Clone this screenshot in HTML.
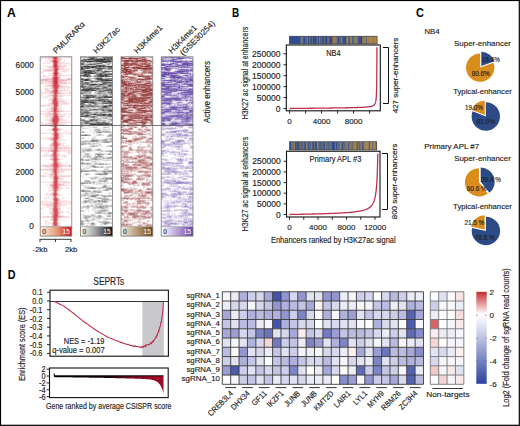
<!DOCTYPE html>
<html><head><meta charset="utf-8"><style>
html,body{margin:0;padding:0;background:#fff;width:520px;height:426px;overflow:hidden}
svg{display:block}
text{font-family:"Liberation Sans", sans-serif}
</style></head><body>
<svg width="520" height="426" viewBox="0 0 520 426">
<rect x="0.5" y="0.5" width="518.8" height="424.8" fill="#fff" stroke="#000" stroke-width="1.2"/>
<defs><filter id="soft" x="-5%" y="-5%" width="110%" height="110%"><feGaussianBlur stdDeviation="0.35"/></filter></defs>
<text x="7.00" y="16.70" font-size="12" text-anchor="start" fill="#000" font-weight="bold" textLength="8.8" lengthAdjust="spacingAndGlyphs">A</text>
<clipPath id="clipA0"><rect x="40.20" y="56.80" width="31.60" height="169.70"/></clipPath>
<rect x="40.20" y="56.80" width="31.60" height="169.70" fill="#fff"/>
<g clip-path="url(#clipA0)"><g filter="url(#soft)">
<path stroke="#c41020" stroke-opacity="0.17" stroke-width="0.998" fill="none" d="M40.2 57.3h7.9M58 57.3h3.0M63.9 57.3h1M65.9 57.3h4.9M40.2 58.3h3.0M44.2 58.3h6.9M59 58.3h3.0M48.1 59.3h2.0M51.1 59.3h2.0M60.9 59.3h2.0M47.1 60.3h1M49.1 60.3h2.0M59 60.3h3.0M63.9 60.3h1M45.1 61.3h6.9M59 61.3h2.0M50.1 62.3h2.0M59 62.3h5.9M43.2 63.3h2.0M46.1 63.3h3.9M52 63.3h1M58 63.3h12.8M52 64.3h1M58 64.3h3.9M63.9 64.3h1M51.1 65.3h2.0M58 65.3h8.9M68.8 65.3h3.0M43.2 66.3h8.9M60.9 66.3h5.9M47.1 67.3h3.0M51.1 67.3h1M59 67.3h5.9M40.2 68.3h2.0M49.1 68.3h3.9M59 68.3h4.9M43.2 69.3h8.9M60 69.3h11.8M43.2 70.3h3.9M51.1 70.3h1M58 70.3h1M61.9 70.3h3.9M66.9 70.3h1M42.2 71.3h10.9M58 71.3h1M60 71.3h7.9M40.2 72.3h3.0M58 72.3h1M63.9 72.3h1M48.1 73.3h3.9M60 73.3h3.0M52 74.3h1M58 74.3h2.0M40.2 75.3h1M43.2 75.3h2.0M49.1 75.3h3.0M61.9 75.3h1M63.9 75.3h7.9M40.2 76.3h1M42.2 76.3h7.9M52 76.3h1M58 76.3h3.0M43.2 77.3h1M51.1 77.3h1M60 77.3h1M45.1 78.3h6.9M59 78.3h1M66.9 78.3h4.9M40.2 79.3h1M61.9 79.3h4.9M48.1 80.3h3.9M66.9 80.3h4.9M40.2 81.3h7.9M62.9 81.3h3.9M41.2 82.3h2.0M44.2 82.3h1M46.1 82.3h5.9M60 82.3h6.9M67.8 82.3h2.0M42.2 83.3h8.9M65.9 83.3h5.9M51.1 84.3h1M59 84.3h1M60.9 84.3h1M63.9 84.3h1M45.1 85.2h3.0M60 85.2h1M44.2 86.2h6.9M62.9 86.2h4.9M43.2 87.2h1M51.1 87.2h1M59 87.2h12.8M45.1 88.2h3.0M49.1 88.2h2.0M60 88.2h4.9M66.9 88.2h1M68.8 88.2h1M40.2 89.2h1M44.2 89.2h4.9M52 89.2h1M58 89.2h1M60.9 89.2h1M63.9 89.2h1M66.9 89.2h1M44.2 90.2h7.9M59 90.2h2.0M61.9 90.2h2.0M64.9 90.2h3.9M40.2 91.2h2.0M46.1 91.2h4.9M59 91.2h3.9M67.8 91.2h1M69.8 91.2h1M42.2 92.2h1M44.2 92.2h5.9M58 92.2h2.0M64.9 92.2h1M68.8 92.2h3.0M40.2 93.2h9.9M62.9 93.2h8.9M50.1 94.2h1M52 94.2h1M58 94.2h1M40.2 95.2h3.0M45.1 95.2h1M47.1 95.2h3.9M58 95.2h7.9M66.9 95.2h3.9M47.1 96.2h4.9M60.9 96.2h2.0M40.2 97.2h2.0M43.2 97.2h4.9M57 97.2h1M49.1 98.2h3.0M58 98.2h3.9M45.1 99.2h1M50.1 99.2h1M52 99.2h1M58 99.2h1M60 99.2h2.0M48.1 100.2h3.0M59 100.2h4.9M64.9 100.2h3.0M69.8 100.2h2.0M51.1 101.2h1M59 101.2h5.9M51.1 102.2h1M58 102.2h8.9M48.1 103.2h3.0M59 103.2h1M60.9 103.2h7.9M69.8 103.2h2.0M48.1 104.2h3.9M58 104.2h1M60.9 104.2h7.9M40.2 105.2h12.8M59 105.2h3.0M40.2 106.2h5.9M47.1 106.2h5.9M58 106.2h1M60.9 106.2h1M51.1 107.2h1M58 107.2h3.0M49.1 108.2h2.0M58 108.2h1M60.9 108.2h1M46.1 109.2h4.9M59 109.2h3.0M47.1 110.2h1M51.1 110.2h2.0M58 110.2h1M62.9 110.2h1M40.2 111.2h8.9M62.9 111.2h8.9M46.1 112.2h1M48.1 112.2h3.0M52 112.2h1M58 112.2h3.0M40.2 113.2h1M43.2 113.2h5.9M50.1 113.2h1M52 113.2h1M58 113.2h1M40.2 114.2h3.9M46.1 114.2h3.9M60.9 114.2h5.9M68.8 114.2h3.0M44.2 115.2h8.9M58 115.2h1M68.8 115.2h1M46.1 116.2h5.9M63.9 116.2h2.0M43.2 117.2h1M45.1 117.2h3.0M49.1 117.2h1M51.1 117.2h1M59 117.2h1M67.8 117.2h2.0M49.1 118.2h2.0M60 118.2h3.0M45.1 119.2h1M47.1 119.2h1M49.1 119.2h2.0M60 119.2h3.0M45.1 120.2h4.9M60 120.2h6.9M48.1 121.2h3.0M60 121.2h2.0M40.2 122.2h2.0M50.1 122.2h2.0M59 122.2h1M60.9 122.2h9.9M41.2 123.2h2.0M45.1 123.2h3.9M59 123.2h6.9M40.2 124.2h9.9M51.1 124.2h1M59 124.2h3.9M65.9 124.2h1M45.1 125.2h5.9M58 125.2h1M60 125.2h4.9M68.8 125.2h1M50.1 126.2h1M57 126.2h1M53 127.2h1M57 127.2h1M52 128.2h1M50.1 129.2h2.0M60.9 129.2h1M40.2 130.2h1M47.1 130.2h4.9M59 130.2h3.0M63.9 131.2h3.0M68.8 131.2h1M52 132.2h1M58 132.2h2.0M40.2 133.2h12.8M59 133.2h12.8M51.1 134.2h2.0M59 134.2h2.0M61.9 134.2h1M69.8 134.2h1M51.1 135.2h2.0M59 135.2h2.0M46.1 136.2h1M53 136.2h1M59 136.2h1M60.9 136.2h2.0M50.1 137.2h2.0M59 137.2h2.0M41.2 138.2h10.9M60 138.2h2.0M46.1 139.2h3.0M58 139.2h1M41.2 140.2h1M50.1 140.2h1M58 140.2h7.9M53 141.2h1M57 141.2h3.9M52 142.1h1M58 142.1h1M51.1 143.1h1M59 143.1h2.0M61.9 143.1h3.0M50.1 144.1h2.0M60.9 144.1h2.0M41.2 145.1h1M49.1 145.1h2.0M60 145.1h2.0M62.9 145.1h1M68.8 145.1h1M49.1 146.1h1M59 146.1h2.0M61.9 146.1h6.9M46.1 147.1h1M53 147.1h1M43.2 148.1h4.9M53 149.1h1M58 149.1h1M40.2 150.1h7.9M49.1 150.1h1M59 150.1h12.8M40.2 151.1h7.9M60 151.1h11.8M52 152.1h1M58 152.1h1M67.8 152.1h3.0M44.2 153.1h4.9M52 153.1h1M57 153.1h1M66.9 153.1h3.9M51.1 154.1h1M58 154.1h3.0M69.8 154.1h2.0M44.2 155.1h6.9M58 155.1h1M62.9 155.1h2.0M41.2 156.1h9.9M59 156.1h7.9M52 157.1h1M63.9 157.1h2.0M50.1 158.1h3.0M58 158.1h1M49.1 159.1h2.0M60 159.1h3.0M50.1 160.1h2.0M58 160.1h1M52 161.1h1M58 161.1h1M66.9 161.1h1M48.1 162.1h1M52 162.1h1M58 162.1h3.0M51.1 163.1h2.0M60 163.1h3.0M64.9 163.1h2.0M50.1 164.1h2.0M59 164.1h3.0M40.2 165.1h10.9M60.9 165.1h10.9M40.2 166.1h3.9M61.9 166.1h6.9M46.1 167.1h5.9M60 167.1h3.0M52 168.1h1M58 168.1h1M40.2 169.1h8.9M60 169.1h1M61.9 169.1h9.9M40.2 170.1h5.9M48.1 170.1h3.9M58 170.1h13.8M48.1 171.1h1M51.1 171.1h1M59 171.1h5.9M49.1 172.1h3.0M59 172.1h4.9M43.2 173.1h4.9M53 173.1h1M57 173.1h2.0M48.1 174.1h2.0M58 174.1h3.9M69.8 174.1h2.0M50.1 175.1h3.9M57 175.1h1M45.1 176.1h4.9M69.8 176.1h2.0M58 177.1h1M49.1 178.1h3.0M60 178.1h3.0M52 179.1h1M59 179.1h4.9M58 180.1h1M51.1 181.1h2.0M58 181.1h8.9M40.2 182.1h11.8M59 182.1h12.8M52 183.1h1M59 183.1h1M61.9 183.1h3.9M66.9 183.1h2.0M69.8 183.1h1M49.1 184.1h3.0M60.9 184.1h3.0M66.9 184.1h2.0M46.1 185.1h2.0M49.1 185.1h1M64.9 185.1h3.0M69.8 185.1h2.0M49.1 186.1h2.0M59 186.1h2.0M51.1 187.1h1M59 187.1h1M48.1 188.1h3.9M61.9 188.1h1M64.9 188.1h4.9M70.8 188.1h1M52 189.1h1M58 189.1h1M49.1 190.1h3.0M59 190.1h3.0M48.1 191.1h3.0M52 191.1h1M57 191.1h1M69.8 191.1h1M57 192.1h1M46.1 193.1h1M50.1 193.1h2.0M44.2 194.1h1M46.1 194.1h2.0M49.1 194.1h3.0M58 194.1h2.0M69.8 194.1h2.0M46.1 195.1h5.9M59 195.1h3.9M57 196.1h1M48.1 197.1h1M51.1 197.1h1M57 197.1h1M44.2 198.1h5.9M58 198.1h1M61.9 198.1h2.0M64.9 198.1h1M45.1 199h1M52 199h1M59 199h1M50.1 200h3.0M59 200h2.0M42.2 201h2.0M46.1 201h1M53 201h1M59 201h7.9M41.2 202h11.8M59 202h10.9M51.1 203h1M59 203h2.0M40.2 204h5.9M48.1 204h1M51.1 204h2.0M61.9 204h9.9M42.2 205h10.9M58 205h3.9M47.1 206h3.9M59 206h6.9M44.2 207h1M46.1 207h3.9M58 207h2.0M50.1 208h2.0M59 208h2.0M67.8 208h3.0M40.2 209h3.0M49.1 209h3.0M60 209h1M52 210h1M58 210h3.0M68.8 210h1M49.1 211h3.0M59 211h3.0M51.1 212h2.0M59 212h4.9M65.9 212h3.9M49.1 213h3.0M60 213h3.0M41.2 214h1M43.2 214h1M50.1 214h2.0M59 214h1M68.8 214h3.0M40.2 215h1M52 215h1M59 215h2.0M47.1 216h1M51.1 216h1M59 216h4.9M40.2 217h3.0M67.8 217h3.9M40.2 218h1M52 218h1M58 218h1M50.1 219h2.0M58 219h1M50.1 220h2.0M59 220h3.9M44.2 221h3.9M57 221h1M63.9 221h1M45.1 222h2.0M48.1 222h1M49.1 223h3.0M58 223h3.0M44.2 224h4.9M58 224h2.0M51.1 225h2.0M58 225h1M45.1 226h1M47.1 226h3.0M51.1 226h1M60 226h2.0M68.8 226h3.0"/>
<path stroke="#c41020" stroke-opacity="0.33" stroke-width="0.998" fill="none" d="M48.1 57.3h3.9M51.1 58.3h2.0M58 58.3h1M57 59.3h3.9M51.1 60.3h1M58 60.3h1M58 61.3h1M52 62.3h1M58 62.3h1M53 63.3h1M52 66.3h1M59 66.3h2.0M50.1 67.3h1M52 67.3h1M58 67.3h1M53 68.3h1M52 69.3h1M59 69.3h1M47.1 70.3h3.9M52 70.3h2.0M53 71.3h1M53 72.3h1M52 73.3h1M59 73.3h1M53 74.3h1M52 75.3h1M58 75.3h3.9M62.9 75.3h1M53 76.3h1M52 77.3h1M59 77.3h1M58 78.3h1M41.2 79.3h10.9M59 79.3h3.0M66.9 79.3h4.9M40.2 80.3h7.9M52 80.3h1M58 80.3h8.9M48.1 81.3h3.0M59 81.3h3.9M52 82.3h1M58 82.3h2.0M40.2 83.3h2.0M51.1 83.3h1M58 83.3h7.9M52 84.3h1M58 84.3h1M48.1 85.2h3.9M51.1 86.2h1M60 86.2h3.0M52 87.2h1M51.1 88.2h2.0M59 88.2h1M53 89.2h1M52 90.2h1M58 90.2h1M60.9 90.2h1M63.9 90.2h1M51.1 91.2h1M58 91.2h1M50.1 92.2h3.0M50.1 93.2h3.0M60 93.2h3.0M53 94.2h1M57 94.2h1M51.1 95.2h2.0M52 96.2h1M58 96.2h3.0M53 97.2h1M52 98.2h1M57 99.2h1M51.1 100.2h1M58 100.2h1M52 101.2h1M58 101.2h1M52 102.2h1M51.1 103.2h1M58 103.2h1M52 104.2h1M53 106.2h1M52 107.2h1M57 107.2h1M51.1 108.2h2.0M57 108.2h1M51.1 109.2h2.0M58 109.2h1M57 110.2h1M49.1 111.2h2.0M60 111.2h3.0M53 112.2h1M57 112.2h1M49.1 113.2h1M57 113.2h1M50.1 114.2h2.0M58 114.2h3.0M53 115.2h1M57 115.2h1M52 116.2h1M59 116.2h4.9M52 117.2h1M58 117.2h1M51.1 118.2h1M59 118.2h1M51.1 119.2h1M59 119.2h1M50.1 120.2h1M59 120.2h1M51.1 121.2h1M59 121.2h1M52 122.2h1M58 122.2h1M49.1 123.2h3.0M58 123.2h1M50.1 124.2h1M52 124.2h1M58 124.2h1M51.1 125.2h2.0M59 125.2h1M51.1 126.2h1M57 128.2h1M59 129.2h2.0M58 130.2h1M53 131.2h1M57 131.2h1M53 132.2h1M57 132.2h1M53 133.2h1M58 133.2h1M53 135.2h1M58 136.2h1M52 137.2h1M52 138.2h1M59 138.2h1M49.1 139.2h3.0M51.1 140.2h2.0M57 142.1h1M52 143.1h1M58 143.1h1M52 144.1h1M59 144.1h2.0M51.1 145.1h1M59 145.1h1M50.1 146.1h3.0M58 146.1h1M57 147.1h1M40.2 148.1h3.0M48.1 148.1h3.0M61.9 148.1h2.0M64.9 148.1h6.9M57 149.1h1M48.1 150.1h1M50.1 150.1h1M58 150.1h1M48.1 151.1h3.0M58 151.1h2.0M57 152.1h1M52 154.1h1M57 154.1h1M51.1 155.1h2.0M57 155.1h1M51.1 156.1h1M58 156.1h1M57 157.1h1M57 158.1h1M51.1 159.1h1M59 159.1h1M52 160.1h1M57 160.1h1M53 161.1h1M57 161.1h1M53 162.1h1M57 162.1h1M58 163.1h2.0M52 164.1h1M58 164.1h1M51.1 165.1h1M59 165.1h2.0M44.2 166.1h7.9M59 166.1h3.0M68.8 166.1h3.0M52 167.1h1M59 167.1h1M53 168.1h1M57 168.1h1M49.1 169.1h3.0M58 169.1h2.0M60.9 169.1h1M46.1 170.1h2.0M52 170.1h1M57 170.1h1M52 171.1h1M57 171.1h2.0M52 172.1h1M58 172.1h1M50.1 174.1h2.0M57 174.1h1M40.2 176.1h4.9M50.1 176.1h3.0M58 176.1h11.8M53 177.1h1M52 178.1h1M59 178.1h1M53 179.1h1M58 179.1h1M53 180.1h1M53 181.1h1M52 182.1h1M58 182.1h1M58 183.1h1M52 184.1h1M58 184.1h3.0M50.1 185.1h2.0M60 185.1h4.9M51.1 186.1h2.0M58 186.1h1M52 187.1h1M58 187.1h1M52 188.1h1M59 188.1h3.0M52 190.1h1M58 190.1h1M53 191.1h1M53 192.1h1M52 193.1h1M57 193.1h1M52 194.1h1M57 194.1h1M52 195.1h1M58 195.1h1M53 196.1h1M56 196.1h1M52 197.1h2.0M53 198.1h1M57 198.1h1M58 199h1M58 201h1M40.2 202h1M53 202h1M58 202h1M69.8 202h2.0M52 203h1M58 203h1M46.1 204h2.0M49.1 204h2.0M58 204h3.9M53 205h1M57 205h1M51.1 206h2.0M58 206h1M53 207h1M57 207h1M52 208h1M58 208h1M52 209h1M58 209h2.0M52 211h1M58 211h1M53 212h1M58 212h1M52 213h1M59 213h1M52 214h1M58 214h1M58 215h1M52 216h1M58 216h1M43.2 217h8.9M61.9 217h5.9M57 218h1M52 219h1M52 220h1M58 220h1M53 221h1M57 222h1M52 223h1M52 224h1M52 226h1M58 226h2.0"/>
<path stroke="#c41020" stroke-opacity="0.50" stroke-width="0.998" fill="none" d="M52 57.3h1M57 57.3h1M57 58.3h1M53 59.3h1M52 60.3h1M57 60.3h1M52 61.3h1M57 63.3h1M53 64.3h1M57 64.3h1M53 65.3h1M57 65.3h1M58 66.3h1M53 67.3h1M58 68.3h1M53 69.3h1M57 71.3h1M58 73.3h1M53 75.3h1M57 76.3h1M58 77.3h1M52 78.3h1M52 79.3h1M58 79.3h1M51.1 81.3h2.0M58 81.3h1M52 83.3h1M53 84.3h1M52 85.2h1M59 85.2h1M52 86.2h1M59 86.2h1M58 87.2h1M53 88.2h1M58 88.2h1M57 89.2h1M53 90.2h1M52 91.2h1M53 92.2h1M57 92.2h1M53 93.2h1M58 93.2h2.0M53 95.2h1M57 95.2h1M53 96.2h1M57 96.2h1M56 97.2h1M57 98.2h1M53 99.2h1M52 100.2h1M57 100.2h1M57 102.2h1M52 103.2h1M53 104.2h1M53 105.2h1M58 105.2h1M57 106.2h1M53 107.2h1M53 108.2h1M53 109.2h1M57 109.2h1M53 110.2h1M51.1 111.2h2.0M58 111.2h2.0M56 112.2h1M53 113.2h1M52 114.2h2.0M57 114.2h1M58 116.2h1M53 117.2h1M52 118.2h1M52 119.2h1M51.1 120.2h1M58 120.2h1M58 121.2h1M52 123.2h1M57 124.2h1M53 125.2h1M57 125.2h1M52 126.2h2.0M53 128.2h1M52 129.2h1M58 129.2h1M52 130.2h1M57 133.2h1M53 134.2h1M58 134.2h1M58 135.2h1M53 137.2h1M58 137.2h1M53 138.2h1M58 138.2h1M52 139.2h1M57 139.2h1M53 140.2h1M57 140.2h1M53 142.1h1M53 144.1h1M58 144.1h1M52 145.1h1M58 145.1h1M53 146.1h1M54 147.1h1M51.1 148.1h2.0M58 148.1h3.9M63.9 148.1h1M51.1 150.1h3.0M57 150.1h1M51.1 151.1h2.0M57 151.1h1M53 152.1h1M52 156.1h1M57 156.1h1M53 157.1h1M53 158.1h1M52 159.1h1M58 159.1h1M53 163.1h1M53 164.1h1M52 165.1h1M58 165.1h1M52 166.1h1M58 166.1h1M53 167.1h1M58 167.1h1M52 169.1h1M57 169.1h1M53 170.1h1M53 171.1h1M57 172.1h1M52 174.1h2.0M54 175.1h1M53 176.1h1M53 178.1h1M58 178.1h1M57 180.1h1M57 181.1h1M53 182.1h1M53 183.1h1M57 183.1h1M53 184.1h1M52 185.1h2.0M58 185.1h2.0M53 187.1h1M58 188.1h1M53 189.1h1M57 189.1h1M53 190.1h1M57 190.1h1M56 192.1h1M53 193.1h1M57 195.1h1M56 197.1h1M53 199h1M53 200h1M58 200h1M57 202h1M53 203h1M53 204h1M53 206h1M57 206h1M53 208h1M57 208h1M53 210h1M53 213h1M58 213h1M53 214h1M53 215h1M52 217h1M59 217h3.0M53 218h1M57 219h1M57 220h1M53 222h1M57 223h1M57 224h1M53 225h1M57 225h1M53 226h1M57 226h1"/>
<path stroke="#c41020" stroke-opacity="0.67" stroke-width="0.998" fill="none" d="M53 58.3h1M56 59.3h1M53 60.3h1M57 61.3h1M57 62.3h1M53 66.3h1M57 67.3h1M54 68.3h1M57 68.3h1M58 69.3h1M54 70.3h1M57 70.3h1M54 71.3h1M57 72.3h1M53 73.3h1M57 74.3h1M57 75.3h1M54 76.3h1M53 77.3h1M53 78.3h1M53 79.3h1M53 80.3h1M57 80.3h1M53 82.3h1M53 83.3h1M57 83.3h1M57 84.3h1M53 85.2h1M58 85.2h1M58 86.2h1M53 87.2h1M57 88.2h1M54 89.2h1M57 90.2h1M53 91.2h1M57 93.2h1M54 94.2h1M56 94.2h1M54 97.2h1M53 98.2h1M56 99.2h1M53 100.2h1M57 101.2h1M53 102.2h1M57 104.2h1M57 105.2h1M56 110.2h1M53 111.2h1M57 111.2h1M54 112.2h1M56 113.2h1M53 116.2h1M58 118.2h1M58 119.2h1M52 120.2h1M52 121.2h1M57 122.2h1M53 124.2h1M56 127.2h1M57 130.2h1M54 132.2h1M54 133.2h1M54 136.2h1M57 136.2h1M53 139.2h1M54 141.2h1M56 141.2h1M53 143.1h1M57 143.1h1M57 144.1h1M53 145.1h1M57 146.1h1M53 148.1h1M54 149.1h1M56 152.1h1M53 153.1h1M56 153.1h1M53 154.1h1M56 154.1h1M53 155.1h1M56 155.1h1M53 156.1h1M56 157.1h1M53 159.1h1M57 159.1h1M53 160.1h1M56 161.1h1M57 163.1h1M57 164.1h1M53 165.1h1M53 166.1h1M57 167.1h1M54 168.1h1M56 168.1h1M53 169.1h1M56 170.1h1M56 171.1h1M53 172.1h1M54 173.1h1M56 173.1h1M57 176.1h1M57 177.1h1M54 179.1h1M57 179.1h1M57 182.1h1M57 184.1h1M57 185.1h1M53 186.1h1M57 186.1h1M57 187.1h1M53 188.1h1M57 188.1h1M54 189.1h1M56 189.1h1M54 191.1h1M56 191.1h1M54 192.1h1M56 193.1h1M53 194.1h1M53 195.1h1M54 196.1h1M54 197.1h1M54 198.1h1M56 198.1h1M54 201h1M57 201h1M54 202h1M57 203h1M57 204h1M56 207h1M53 209h1M57 209h1M57 210h1M53 211h1M57 212h1M57 214h1M53 216h1M58 217h1M53 219h1M53 220h1M53 224h1M54 226h1M56 226h1"/>
<path stroke="#c41020" stroke-opacity="0.83" stroke-width="0.998" fill="none" d="M53 57.3h1M54 59.3h2.0M56 60.3h1M53 61.3h1M53 62.3h1M56 63.3h1M57 66.3h1M54 67.3h1M56 67.3h1M55 68.3h2.0M54 69.3h1M57 69.3h1M54 72.3h1M54 74.3h1M54 75.3h1M56 75.3h1M55 76.3h2.0M57 77.3h1M57 78.3h1M57 79.3h1M53 81.3h1M57 81.3h1M57 82.3h1M54 84.3h1M57 85.2h1M53 86.2h1M54 88.2h1M54 90.2h1M57 91.2h1M54 92.2h1M54 93.2h1M55 94.2h1M54 95.2h1M56 95.2h1M54 96.2h1M56 96.2h1M55 97.2h1M56 100.2h1M53 101.2h1M53 103.2h1M57 103.2h1M54 106.2h1M54 107.2h1M56 107.2h1M54 108.2h1M56 108.2h1M56 109.2h1M56 111.2h1M55 112.2h1M54 113.2h1M54 114.2h1M56 114.2h1M54 115.2h1M57 117.2h1M53 118.2h1M53 122.2h1M53 123.2h1M57 123.2h1M56 124.2h1M54 125.2h1M56 125.2h1M56 126.2h1M54 127.2h1M56 128.2h1M57 129.2h1M53 130.2h1M54 131.2h1M56 131.2h1M56 132.2h1M54 135.2h1M57 135.2h1M57 138.2h1M54 139.2h1M56 139.2h1M54 140.2h1M56 140.2h1M54 146.1h1M57 148.1h1M56 149.1h1M54 150.1h1M56 150.1h1M53 151.1h1M54 155.1h1M56 156.1h1M54 157.1h1M54 158.1h1M56 158.1h1M54 161.1h1M54 162.1h1M56 162.1h1M57 165.1h1M57 166.1h1M54 167.1h1M55 168.1h1M54 170.1h1M54 171.1h1M54 174.1h1M56 174.1h1M56 175.1h1M54 176.1h1M54 177.1h1M57 178.1h1M54 180.1h1M54 181.1h1M54 183.1h1M54 187.1h1M54 188.1h1M55 189.1h1M54 190.1h1M56 190.1h1M55 192.1h1M54 193.1h1M56 194.1h1M56 195.1h1M55 196.1h1M55 197.1h1M55 198.1h1M57 199h1M57 200h1M55 202h2.0M54 203h1M54 204h1M54 205h1M56 205h1M54 207h1M54 208h1M56 208h1M57 211h1M54 212h1M54 214h1M57 215h1M57 216h1M53 217h1M57 217h1M54 218h1M56 218h1M56 221h1M56 222h1M53 223h1M54 225h1M56 225h1M55 226h1"/>
<path stroke="#c41020" stroke-opacity="1.00" stroke-width="0.998" fill="none" d="M54 57.3h3.0M54 58.3h3.0M54 60.3h2.0M54 61.3h3.0M54 62.3h3.0M54 63.3h2.0M54 64.3h3.0M54 65.3h3.0M54 66.3h3.0M55 67.3h1M55 69.3h2.0M55 70.3h2.0M55 71.3h2.0M55 72.3h2.0M54 73.3h3.9M55 74.3h2.0M55 75.3h1M54 77.3h3.0M54 78.3h3.0M54 79.3h3.0M54 80.3h3.0M54 81.3h3.0M54 82.3h3.0M54 83.3h3.0M55 84.3h2.0M54 85.2h3.0M54 86.2h3.9M54 87.2h3.9M55 88.2h2.0M55 89.2h2.0M55 90.2h2.0M54 91.2h3.0M55 92.2h2.0M55 93.2h2.0M55 95.2h1M55 96.2h1M54 98.2h3.0M54 99.2h2.0M54 100.2h2.0M54 101.2h3.0M54 102.2h3.0M54 103.2h3.0M54 104.2h3.0M54 105.2h3.0M55 106.2h2.0M55 107.2h1M55 108.2h1M54 109.2h2.0M54 110.2h2.0M54 111.2h2.0M55 113.2h1M55 114.2h1M55 115.2h2.0M54 116.2h3.9M54 117.2h3.0M54 118.2h3.9M53 119.2h4.9M53 120.2h4.9M53 121.2h4.9M54 122.2h3.0M54 123.2h3.0M54 124.2h2.0M55 125.2h1M54 126.2h2.0M55 127.2h1M54 128.2h2.0M53 129.2h3.9M54 130.2h3.0M55 131.2h1M55 132.2h1M55 133.2h2.0M54 134.2h3.9M55 135.2h2.0M55 136.2h2.0M54 137.2h3.9M54 138.2h3.0M55 139.2h1M55 140.2h1M55 141.2h1M54 142.1h3.0M54 143.1h3.0M54 144.1h3.0M54 145.1h3.9M55 146.1h2.0M55 147.1h2.0M54 148.1h3.0M55 149.1h1M55 150.1h1M54 151.1h3.0M54 152.1h2.0M54 153.1h2.0M54 154.1h2.0M55 155.1h1M54 156.1h2.0M55 157.1h1M55 158.1h1M54 159.1h3.0M54 160.1h3.0M55 161.1h1M55 162.1h1M54 163.1h3.0M54 164.1h3.0M54 165.1h3.0M54 166.1h3.0M55 167.1h2.0M54 169.1h3.0M55 170.1h1M55 171.1h1M54 172.1h3.0M55 173.1h1M55 174.1h1M55 175.1h1M55 176.1h2.0M55 177.1h2.0M54 178.1h3.0M55 179.1h2.0M55 180.1h2.0M55 181.1h2.0M54 182.1h3.0M55 183.1h2.0M54 184.1h3.0M54 185.1h3.0M54 186.1h3.0M55 187.1h2.0M55 188.1h2.0M55 190.1h1M55 191.1h1M55 193.1h1M54 194.1h2.0M54 195.1h2.0M54 199h3.0M54 200h3.0M55 201h2.0M55 203h2.0M55 204h2.0M55 205h1M54 206h3.0M55 207h1M55 208h1M54 209h3.0M54 210h3.0M54 211h3.0M55 212h2.0M54 213h3.9M55 214h2.0M54 215h3.0M54 216h3.0M54 217h3.0M55 218h1M54 219h3.0M54 220h3.0M54 221h2.0M54 222h2.0M54 223h3.0M54 224h3.0M55 225h1"/>
</g></g>
<clipPath id="clipA1"><rect x="80.50" y="56.80" width="32.10" height="169.70"/></clipPath>
<rect x="80.50" y="56.80" width="32.10" height="169.70" fill="#fff"/>
<g clip-path="url(#clipA1)"><g filter="url(#soft)">
<path stroke="#0a0a0a" stroke-opacity="0.17" stroke-width="0.998" fill="none" d="M98.6 57.3h1M100.6 57.3h2.0M87.5 58.3h1M97.6 58.3h2.0M80.5 62.3h1M85.5 62.3h1M91.5 62.3h2.0M94.5 62.3h1M97.6 62.3h2.0M84.5 63.3h1M86.5 63.3h1M88.5 63.3h2.0M91.5 63.3h2.0M104.6 63.3h2.0M107.6 63.3h1M110.6 63.3h1M97.6 64.3h2.0M101.6 64.3h2.0M105.6 64.3h1M80.5 65.3h2.0M84.5 65.3h1M91.5 65.3h1M105.6 65.3h1M107.6 65.3h1M101.6 67.3h1M104.6 67.3h1M86.5 69.3h2.0M91.5 69.3h3.0M103.6 69.3h2.0M108.6 70.3h1M98.6 72.3h3.0M106.6 72.3h1M108.6 72.3h1M104.6 73.3h1M82.5 74.3h1M90.5 74.3h1M93.5 75.3h1M108.6 75.3h3.0M91.5 76.3h1M85.5 77.3h5.0M94.5 77.3h1M96.5 77.3h1M99.6 77.3h1M101.6 77.3h2.0M104.6 77.3h3.0M83.5 78.3h1M86.5 78.3h2.0M90.5 78.3h1M102.6 78.3h3.0M90.5 79.3h1M93.5 79.3h2.0M109.6 79.3h1M81.5 80.3h1M94.5 80.3h3.0M83.5 81.3h3.0M88.5 81.3h1M107.6 81.3h3.0M80.5 82.3h1M93.5 82.3h3.0M97.6 82.3h1M100.6 82.3h1M89.5 83.3h1M91.5 83.3h1M94.5 83.3h2.0M97.6 83.3h4.0M80.5 84.3h1M108.6 84.3h1M80.5 85.2h1M83.5 85.2h2.0M88.5 85.2h1M95.5 85.2h2.0M105.6 85.2h2.0M86.5 86.2h1M91.5 86.2h2.0M105.6 86.2h1M93.5 87.2h1M108.6 87.2h4.0M81.5 88.2h1M107.6 88.2h1M80.5 89.2h1M104.6 89.2h1M97.6 90.2h1M80.5 91.2h1M91.5 91.2h2.0M108.6 91.2h1M80.5 92.2h1M82.5 92.2h1M88.5 92.2h1M93.5 92.2h2.0M97.6 92.2h1M102.6 92.2h2.0M106.6 92.2h1M80.5 94.2h1M82.5 94.2h1M85.5 94.2h1M96.5 94.2h2.0M101.6 94.2h1M106.6 94.2h1M108.6 94.2h1M101.6 95.2h1M108.6 95.2h3.0M83.5 96.2h1M96.5 96.2h2.0M99.6 96.2h1M90.5 98.2h2.0M93.5 98.2h1M102.6 98.2h2.0M87.5 99.2h3.0M94.5 99.2h1M96.5 99.2h1M108.6 99.2h2.0M105.6 100.2h1M109.6 100.2h1M93.5 101.2h1M96.5 101.2h2.0M99.6 102.2h2.0M84.5 103.2h1M87.5 103.2h1M85.5 104.2h1M98.6 104.2h3.0M102.6 104.2h1M105.6 104.2h1M97.6 105.2h2.0M100.6 105.2h1M104.6 105.2h1M86.5 107.2h1M90.5 107.2h1M95.5 107.2h2.0M99.6 107.2h1M108.6 107.2h1M89.5 108.2h1M96.5 108.2h1M98.6 108.2h1M110.6 108.2h2.0M85.5 109.2h2.0M104.6 109.2h1M109.6 109.2h1M88.5 111.2h1M103.6 111.2h1M105.6 111.2h1M111.6 112.2h1M97.6 113.2h2.0M101.6 113.2h1M104.6 113.2h1M84.5 114.2h2.0M88.5 114.2h1M80.5 115.2h2.0M90.5 115.2h2.0M93.5 115.2h2.0M99.6 116.2h1M102.6 116.2h1M105.6 116.2h1M82.5 117.2h2.0M98.6 117.2h1M100.6 117.2h1M104.6 117.2h1M107.6 117.2h2.0M110.6 117.2h1M80.5 118.2h1M84.5 118.2h1M88.5 118.2h1M98.6 118.2h1M101.6 118.2h1M88.5 119.2h2.0M99.6 119.2h2.0M85.5 120.2h4.0M106.6 120.2h4.0M81.5 121.2h1M96.5 121.2h1M102.6 121.2h2.0M109.6 121.2h1M80.5 122.2h1M83.5 122.2h1M93.5 122.2h1M105.6 122.2h1M110.6 123.2h2.0M87.5 124.2h2.0M106.6 125.2h1M108.6 125.2h4.0M83.5 126.2h1M85.5 126.2h1M87.5 126.2h3.0M110.6 126.2h1M89.5 127.2h1M92.5 127.2h1M102.6 127.2h1M108.6 127.2h2.0M81.5 128.2h2.0M84.5 128.2h1M86.5 128.2h3.0M90.5 129.2h1M99.6 129.2h2.0M103.6 129.2h1M105.6 129.2h4.0M90.5 130.2h1M94.5 130.2h2.0M100.6 130.2h1M80.5 131.2h3.0M94.5 131.2h3.0M98.6 131.2h3.0M109.6 131.2h2.0M84.5 132.2h1M86.5 132.2h1M88.5 132.2h1M90.5 132.2h1M92.5 132.2h1M102.6 132.2h1M110.6 132.2h2.0M109.6 133.2h3.0M93.5 134.2h1M95.5 134.2h3.0M100.6 134.2h1M108.6 134.2h3.0M90.5 135.2h1M96.5 135.2h1M99.6 135.2h2.0M102.6 135.2h2.0M107.6 135.2h1M92.5 136.2h1M94.5 136.2h2.0M83.5 137.2h1M88.5 137.2h1M94.5 137.2h1M83.5 138.2h1M91.5 138.2h2.0M94.5 138.2h1M106.6 138.2h4.0M91.5 139.2h1M93.5 139.2h1M96.5 139.2h1M103.6 139.2h1M105.6 139.2h1M107.6 139.2h1M83.5 140.2h1M99.6 140.2h1M108.6 140.2h4.0M80.5 141.2h1M82.5 141.2h1M98.6 141.2h1M100.6 141.2h2.0M105.6 141.2h2.0M108.6 141.2h1M84.5 142.1h1M91.5 142.1h1M96.5 142.1h2.0M99.6 142.1h2.0M110.6 142.1h1M80.5 143.1h1M82.5 143.1h2.0M86.5 143.1h2.0M89.5 143.1h2.0M92.5 143.1h1M94.5 143.1h2.0M97.6 143.1h1M111.6 143.1h1M86.5 144.1h3.0M91.5 144.1h1M94.5 144.1h3.0M98.6 144.1h1M80.5 145.1h2.0M99.6 145.1h1M89.5 146.1h1M97.6 146.1h1M100.6 146.1h2.0M106.6 146.1h1M92.5 147.1h1M101.6 147.1h1M105.6 147.1h2.0M83.5 148.1h3.0M87.5 148.1h4.0M81.5 149.1h3.0M85.5 149.1h1M88.5 149.1h1M90.5 149.1h2.0M95.5 149.1h1M111.6 149.1h1M81.5 150.1h2.0M91.5 150.1h4.0M100.6 150.1h1M80.5 151.1h2.0M84.5 151.1h2.0M89.5 151.1h1M91.5 151.1h1M102.6 151.1h3.0M81.5 152.1h2.0M84.5 152.1h1M94.5 152.1h1M98.6 152.1h2.0M99.6 153.1h1M80.5 154.1h2.0M83.5 154.1h1M89.5 154.1h2.0M104.6 154.1h2.0M86.5 155.1h1M99.6 155.1h1M101.6 155.1h1M109.6 155.1h1M80.5 156.1h1M82.5 156.1h1M85.5 156.1h1M90.5 156.1h1M93.5 156.1h1M95.5 156.1h1M101.6 156.1h1M103.6 156.1h1M105.6 156.1h1M81.5 157.1h5.0M88.5 157.1h1M90.5 157.1h1M108.6 157.1h1M89.5 158.1h3.0M96.5 158.1h1M104.6 158.1h1M83.5 159.1h1M88.5 159.1h1M101.6 159.1h2.0M111.6 159.1h1M95.5 160.1h2.0M101.6 160.1h3.0M105.6 160.1h1M109.6 160.1h2.0M93.5 161.1h1M95.5 161.1h1M98.6 161.1h2.0M81.5 162.1h1M94.5 162.1h2.0M104.6 162.1h1M111.6 162.1h1M85.5 163.1h1M88.5 163.1h5.0M94.5 163.1h1M96.5 163.1h1M100.6 163.1h1M104.6 164.1h1M81.5 166.1h1M85.5 166.1h2.0M88.5 166.1h2.0M102.6 166.1h1M109.6 166.1h2.0M89.5 167.1h2.0M103.6 167.1h1M109.6 167.1h2.0M83.5 168.1h3.0M88.5 168.1h2.0M82.5 169.1h3.0M103.6 169.1h1M81.5 170.1h1M83.5 170.1h1M95.5 170.1h1M99.6 171.1h1M83.5 172.1h1M96.5 172.1h2.0M99.6 172.1h1M107.6 172.1h2.0M111.6 172.1h1M102.6 173.1h1M108.6 173.1h1M89.5 174.1h2.0M107.6 174.1h1M85.5 175.1h2.0M98.6 175.1h1M101.6 175.1h2.0M81.5 176.1h2.0M101.6 176.1h1M103.6 176.1h1M89.5 177.1h1M92.5 177.1h1M97.6 177.1h3.0M111.6 177.1h1M82.5 178.1h1M88.5 178.1h2.0M93.5 178.1h1M96.5 178.1h1M101.6 178.1h1M92.5 179.1h1M94.5 179.1h2.0M97.6 179.1h2.0M102.6 179.1h2.0M106.6 179.1h1M84.5 180.1h2.0M102.6 180.1h1M104.6 180.1h1M107.6 180.1h1M94.5 181.1h1M83.5 182.1h1M86.5 182.1h6.0M94.5 182.1h1M96.5 182.1h1M103.6 182.1h1M106.6 182.1h2.0M92.5 183.1h1M97.6 183.1h2.0M100.6 183.1h9.0M92.5 184.1h1M95.5 184.1h1M97.6 184.1h4.0M80.5 185.1h1M101.6 185.1h1M103.6 185.1h1M105.6 185.1h1M83.5 186.1h6.0M106.6 186.1h1M108.6 186.1h1M84.5 187.1h2.0M88.5 187.1h2.0M101.6 187.1h1M106.6 187.1h2.0M84.5 188.1h1M97.6 188.1h1M102.6 188.1h3.0M93.5 189.1h1M84.5 190.1h2.0M87.5 190.1h1M101.6 190.1h1M111.6 190.1h1M96.5 191.1h2.0M100.6 191.1h1M82.5 192.1h3.0M90.5 192.1h1M93.5 192.1h2.0M101.6 192.1h1M84.5 193.1h1M88.5 193.1h1M92.5 193.1h1M107.6 193.1h2.0M110.6 193.1h1M80.5 194.1h5.0M87.5 194.1h1M97.6 194.1h1M80.5 195.1h3.0M89.5 195.1h2.0M99.6 195.1h1M108.6 195.1h1M111.6 195.1h1M81.5 196.1h2.0M88.5 196.1h1M96.5 196.1h1M100.6 196.1h1M80.5 197.1h2.0M88.5 197.1h4.0M107.6 197.1h1M88.5 198.1h1M101.6 198.1h1M85.5 199h5.0M91.5 199h1M95.5 199h1M100.6 199h1M85.5 200h1M104.6 200h5.0M107.6 201h2.0M110.6 201h1M80.5 202h2.0M91.5 202h1M97.6 202h1M100.6 202h1M107.6 202h1M83.5 203h2.0M81.5 204h2.0M89.5 204h1M91.5 204h2.0M102.6 204h1M104.6 204h1M107.6 204h1M110.6 204h2.0M84.5 206h2.0M89.5 206h2.0M93.5 206h1M97.6 206h2.0M80.5 207h2.0M89.5 207h1M95.5 207h1M102.6 207h1M104.6 207h1M107.6 207h1M81.5 208h1M86.5 208h3.0M91.5 208h2.0M99.6 208h1M104.6 208h1M107.6 208h2.0M110.6 208h1M82.5 209h1M85.5 209h2.0M99.6 209h2.0M102.6 209h3.0M91.5 210h4.0M101.6 210h3.0M106.6 210h1M95.5 211h1M107.6 211h2.0M111.6 212h1M106.6 213h1M103.6 214h2.0M106.6 214h2.0M110.6 214h1M81.5 215h1M94.5 215h1M91.5 216h3.0M95.5 216h2.0M111.6 216h1M84.5 217h1M86.5 217h1M91.5 217h3.0M95.5 217h1M97.6 217h2.0M101.6 217h3.0M106.6 217h4.0M80.5 218h3.0M88.5 218h1M99.6 218h3.0M80.5 219h1M91.5 219h1M94.5 219h2.0M97.6 219h4.0M102.6 219h1M108.6 219h1M111.6 219h1M84.5 220h1M89.5 220h1M91.5 220h1M93.5 220h1M83.5 221h3.0M89.5 221h1M92.5 221h1M95.5 221h4.0M102.6 221h5.0M80.5 222h1M82.5 222h2.0M88.5 222h1M108.6 222h1M110.6 222h1M82.5 223h2.0M87.5 223h2.0M90.5 223h1M93.5 223h1M84.5 224h1M86.5 224h2.0M89.5 224h1M95.5 224h1M101.6 224h1M92.5 225h1M99.6 225h3.0M84.5 226h1M88.5 226h2.0M93.5 226h1M95.5 226h1M102.6 226h1"/>
<path stroke="#0a0a0a" stroke-opacity="0.33" stroke-width="0.998" fill="none" d="M82.5 57.3h1M85.5 57.3h3.0M97.6 57.3h1M88.5 58.3h1M95.5 58.3h2.0M99.6 58.3h2.0M102.6 58.3h1M81.5 59.3h1M86.5 60.3h2.0M89.5 60.3h1M81.5 62.3h4.0M88.5 62.3h1M90.5 62.3h1M93.5 62.3h1M95.5 62.3h2.0M99.6 62.3h1M107.6 62.3h1M110.6 62.3h2.0M90.5 63.3h1M94.5 63.3h1M106.6 63.3h1M108.6 63.3h2.0M111.6 63.3h1M84.5 64.3h2.0M96.5 64.3h1M103.6 64.3h1M106.6 64.3h1M109.6 64.3h1M82.5 65.3h1M85.5 65.3h3.0M95.5 65.3h1M98.6 67.3h1M100.6 67.3h1M105.6 67.3h1M90.5 68.3h1M92.5 68.3h2.0M106.6 68.3h1M84.5 69.3h1M94.5 69.3h3.0M102.6 69.3h1M105.6 69.3h2.0M109.6 69.3h1M101.6 70.3h1M104.6 70.3h1M80.5 71.3h1M95.5 71.3h1M99.6 71.3h2.0M102.6 71.3h1M92.5 72.3h2.0M96.5 72.3h2.0M107.6 72.3h1M105.6 73.3h3.0M110.6 73.3h1M89.5 74.3h1M95.5 74.3h1M89.5 75.3h2.0M95.5 75.3h1M81.5 76.3h2.0M92.5 76.3h1M95.5 77.3h1M97.6 77.3h1M100.6 77.3h1M89.5 78.3h1M91.5 78.3h3.0M105.6 78.3h3.0M80.5 80.3h1M91.5 80.3h1M89.5 81.3h1M83.5 82.3h1M89.5 82.3h1M92.5 82.3h1M88.5 83.3h1M101.6 83.3h1M108.6 83.3h1M83.5 84.3h1M107.6 84.3h1M109.6 84.3h3.0M86.5 85.2h2.0M94.5 85.2h1M99.6 85.2h1M104.6 85.2h1M90.5 86.2h1M93.5 86.2h2.0M101.6 86.2h4.0M106.6 86.2h1M86.5 87.2h1M88.5 87.2h1M92.5 87.2h1M95.5 87.2h1M101.6 87.2h1M82.5 88.2h1M110.6 88.2h2.0M94.5 89.2h1M99.6 89.2h3.0M103.6 89.2h1M111.6 89.2h1M101.6 90.2h1M82.5 91.2h2.0M90.5 91.2h1M94.5 91.2h3.0M106.6 91.2h2.0M109.6 91.2h1M81.5 92.2h1M84.5 92.2h1M86.5 92.2h2.0M89.5 92.2h2.0M96.5 92.2h1M98.6 92.2h2.0M104.6 92.2h1M85.5 93.2h3.0M90.5 93.2h1M94.5 93.2h1M96.5 93.2h1M100.6 93.2h2.0M103.6 93.2h6.0M99.6 94.2h2.0M102.6 94.2h2.0M105.6 94.2h1M107.6 94.2h1M81.5 95.2h1M96.5 95.2h5.0M104.6 95.2h1M106.6 95.2h1M84.5 96.2h2.0M101.6 96.2h1M109.6 96.2h1M82.5 98.2h1M89.5 98.2h1M100.6 98.2h2.0M81.5 99.2h3.0M86.5 99.2h1M92.5 99.2h2.0M95.5 99.2h1M97.6 99.2h2.0M111.6 99.2h1M110.6 100.2h1M90.5 101.2h1M94.5 101.2h1M99.6 101.2h1M96.5 102.2h2.0M101.6 102.2h2.0M104.6 102.2h1M106.6 102.2h1M88.5 103.2h2.0M96.5 103.2h1M98.6 103.2h2.0M84.5 104.2h1M87.5 104.2h2.0M90.5 104.2h1M93.5 104.2h1M97.6 104.2h1M101.6 104.2h1M109.6 104.2h1M83.5 105.2h2.0M86.5 105.2h3.0M91.5 105.2h3.0M101.6 105.2h3.0M105.6 105.2h2.0M84.5 106.2h1M100.6 106.2h2.0M84.5 107.2h2.0M87.5 107.2h3.0M92.5 107.2h1M97.6 107.2h1M107.6 107.2h1M109.6 107.2h1M80.5 108.2h2.0M83.5 108.2h6.0M99.6 108.2h5.0M105.6 108.2h1M107.6 108.2h1M83.5 109.2h2.0M103.6 109.2h1M105.6 109.2h1M107.6 109.2h2.0M110.6 109.2h2.0M83.5 110.2h1M98.6 110.2h2.0M80.5 111.2h1M82.5 111.2h2.0M85.5 111.2h1M102.6 111.2h1M104.6 111.2h1M106.6 111.2h1M91.5 112.2h4.0M98.6 112.2h2.0M107.6 112.2h1M109.6 112.2h1M90.5 113.2h1M94.5 113.2h3.0M99.6 113.2h2.0M86.5 114.2h2.0M89.5 114.2h1M83.5 115.2h1M95.5 115.2h1M90.5 116.2h1M95.5 116.2h4.0M100.6 116.2h2.0M103.6 116.2h2.0M106.6 116.2h1M84.5 117.2h1M87.5 117.2h2.0M96.5 117.2h1M103.6 117.2h1M105.6 117.2h2.0M111.6 117.2h1M96.5 118.2h2.0M99.6 118.2h1M102.6 118.2h2.0M81.5 119.2h2.0M95.5 119.2h2.0M98.6 119.2h1M107.6 119.2h1M109.6 119.2h1M111.6 119.2h1M98.6 120.2h1M100.6 120.2h2.0M103.6 120.2h3.0M111.6 120.2h1M83.5 121.2h1M93.5 121.2h3.0M104.6 121.2h1M108.6 121.2h1M110.6 121.2h1M89.5 122.2h1M91.5 122.2h1M94.5 122.2h1M106.6 122.2h1M80.5 123.2h2.0M94.5 123.2h1M96.5 123.2h1M85.5 124.2h1M96.5 125.2h1M101.6 125.2h2.0M107.6 125.2h1M81.5 126.2h2.0M81.5 127.2h1M91.5 127.2h1M93.5 127.2h4.0M104.6 127.2h4.0M83.5 128.2h1M85.5 128.2h1M80.5 129.2h2.0M94.5 129.2h5.0M102.6 129.2h1M104.6 129.2h1M109.6 129.2h1M93.5 130.2h1M96.5 130.2h4.0M97.6 131.2h1M104.6 131.2h2.0M107.6 131.2h2.0M80.5 132.2h2.0M93.5 132.2h1M95.5 132.2h1M103.6 132.2h3.0M107.6 132.2h1M109.6 132.2h1M98.6 134.2h1M97.6 135.2h2.0M101.6 135.2h1M108.6 135.2h1M106.6 136.2h3.0M110.6 136.2h2.0M80.5 138.2h3.0M93.5 138.2h1M110.6 138.2h2.0M92.5 139.2h1M104.6 139.2h1M106.6 139.2h1M109.6 139.2h3.0M98.6 140.2h1M100.6 140.2h2.0M81.5 141.2h1M83.5 141.2h2.0M87.5 141.2h2.0M97.6 141.2h1M109.6 141.2h2.0M80.5 142.1h4.0M98.6 142.1h1M101.6 142.1h1M109.6 142.1h1M111.6 142.1h1M84.5 143.1h1M93.5 143.1h1M96.5 143.1h1M84.5 144.1h2.0M90.5 144.1h1M92.5 144.1h2.0M99.6 144.1h1M98.6 145.1h1M90.5 146.1h1M94.5 146.1h2.0M107.6 146.1h1M109.6 146.1h1M80.5 148.1h1M80.5 149.1h1M86.5 149.1h1M89.5 149.1h1M97.6 149.1h3.0M83.5 150.1h3.0M90.5 150.1h1M95.5 150.1h1M82.5 151.1h2.0M86.5 151.1h3.0M90.5 151.1h1M100.6 151.1h1M105.6 151.1h1M107.6 151.1h1M83.5 152.1h1M109.6 152.1h3.0M84.5 154.1h1M88.5 154.1h1M94.5 154.1h1M103.6 154.1h1M106.6 154.1h1M110.6 154.1h1M87.5 155.1h1M100.6 155.1h1M83.5 156.1h2.0M86.5 156.1h4.0M94.5 156.1h1M96.5 156.1h2.0M100.6 156.1h1M102.6 156.1h1M86.5 157.1h1M89.5 157.1h1M94.5 157.1h1M98.6 157.1h1M101.6 157.1h1M109.6 157.1h2.0M92.5 158.1h2.0M95.5 158.1h1M111.6 158.1h1M81.5 159.1h2.0M90.5 159.1h1M93.5 159.1h1M98.6 159.1h1M100.6 159.1h1M83.5 160.1h2.0M89.5 160.1h1M104.6 160.1h1M106.6 160.1h3.0M91.5 161.1h2.0M94.5 161.1h1M97.6 161.1h1M82.5 162.1h1M80.5 163.1h1M83.5 163.1h2.0M86.5 163.1h2.0M95.5 163.1h1M81.5 164.1h5.0M88.5 164.1h3.0M93.5 164.1h1M95.5 164.1h2.0M108.6 164.1h2.0M82.5 166.1h1M90.5 166.1h1M94.5 166.1h1M92.5 167.1h1M98.6 167.1h2.0M102.6 167.1h1M105.6 167.1h4.0M111.6 167.1h1M86.5 168.1h2.0M81.5 169.1h1M104.6 169.1h4.0M80.5 170.1h1M90.5 170.1h5.0M90.5 171.1h1M92.5 171.1h1M96.5 171.1h3.0M100.6 171.1h1M102.6 171.1h1M105.6 171.1h1M81.5 172.1h1M102.6 172.1h1M105.6 172.1h1M103.6 173.1h3.0M107.6 173.1h1M109.6 173.1h2.0M84.5 174.1h1M88.5 174.1h1M94.5 174.1h1M104.6 176.1h1M94.5 177.1h3.0M90.5 178.1h1M92.5 178.1h1M94.5 178.1h2.0M103.6 178.1h2.0M107.6 178.1h1M91.5 179.1h1M93.5 179.1h1M99.6 179.1h1M101.6 179.1h1M104.6 179.1h2.0M108.6 179.1h1M111.6 179.1h1M103.6 180.1h1M84.5 181.1h1M97.6 181.1h1M102.6 181.1h1M105.6 181.1h1M95.5 182.1h1M104.6 182.1h1M88.5 183.1h1M93.5 183.1h1M99.6 183.1h1M110.6 183.1h2.0M93.5 184.1h1M96.5 184.1h1M81.5 185.1h2.0M102.6 186.1h2.0M109.6 186.1h1M91.5 187.1h1M105.6 187.1h1M85.5 188.1h2.0M96.5 188.1h1M99.6 188.1h3.0M105.6 188.1h2.0M106.6 189.1h3.0M81.5 190.1h1M83.5 190.1h1M97.6 190.1h2.0M102.6 190.1h2.0M108.6 190.1h1M90.5 191.1h1M92.5 191.1h1M99.6 191.1h1M92.5 192.1h1M96.5 192.1h1M100.6 192.1h1M87.5 193.1h1M89.5 193.1h3.0M93.5 193.1h2.0M109.6 193.1h1M83.5 195.1h1M87.5 195.1h2.0M93.5 195.1h1M98.6 195.1h1M100.6 195.1h2.0M109.6 195.1h1M80.5 196.1h1M83.5 196.1h1M89.5 196.1h1M101.6 196.1h1M105.6 196.1h1M92.5 197.1h2.0M95.5 197.1h1M103.6 197.1h1M105.6 197.1h1M83.5 198.1h3.0M96.5 198.1h1M100.6 198.1h1M90.5 199h1M108.6 199h1M88.5 200h3.0M92.5 200h2.0M109.6 200h3.0M83.5 201h1M87.5 201h1M94.5 201h2.0M99.6 201h1M106.6 201h1M82.5 202h2.0M86.5 202h4.0M92.5 202h1M98.6 202h2.0M102.6 202h1M106.6 202h1M85.5 203h1M90.5 204h1M94.5 204h3.0M99.6 204h1M105.6 204h1M83.5 206h1M86.5 206h1M88.5 206h1M92.5 206h1M94.5 206h2.0M100.6 206h2.0M104.6 206h1M107.6 206h1M109.6 206h1M111.6 206h1M82.5 207h5.0M88.5 207h1M96.5 207h2.0M103.6 207h1M105.6 207h2.0M80.5 208h1M82.5 208h1M94.5 208h5.0M100.6 208h1M103.6 208h1M105.6 208h2.0M87.5 209h1M101.6 209h1M105.6 210h1M107.6 210h1M82.5 211h2.0M88.5 211h1M94.5 211h1M96.5 211h2.0M105.6 211h2.0M94.5 213h2.0M101.6 213h4.0M83.5 214h1M105.6 214h1M108.6 214h1M90.5 215h2.0M93.5 215h1M82.5 216h2.0M86.5 216h1M88.5 216h2.0M94.5 216h1M106.6 216h1M110.6 216h1M85.5 217h1M87.5 217h2.0M90.5 217h1M94.5 217h1M96.5 217h1M99.6 217h2.0M83.5 218h1M96.5 218h2.0M92.5 219h1M103.6 219h2.0M107.6 219h1M110.6 219h1M87.5 220h1M90.5 220h1M92.5 220h1M86.5 221h2.0M98.6 222h1M100.6 222h4.0M106.6 222h1M80.5 223h2.0M91.5 223h1M101.6 223h2.0M104.6 223h1M109.6 223h2.0M83.5 224h1M94.5 224h1M106.6 224h1M81.5 225h2.0M85.5 226h3.0M90.5 226h1M92.5 226h1M94.5 226h1"/>
<path stroke="#0a0a0a" stroke-opacity="0.50" stroke-width="0.998" fill="none" d="M81.5 57.3h1M83.5 57.3h2.0M95.5 57.3h1M102.6 57.3h1M89.5 58.3h1M94.5 58.3h1M101.6 58.3h1M105.6 58.3h2.0M108.6 58.3h2.0M82.5 59.3h1M109.6 59.3h1M80.5 60.3h1M83.5 60.3h1M88.5 60.3h1M90.5 60.3h4.0M104.6 60.3h2.0M110.6 60.3h1M86.5 62.3h1M89.5 62.3h1M100.6 62.3h2.0M108.6 62.3h2.0M83.5 63.3h1M93.5 63.3h1M95.5 63.3h2.0M86.5 64.3h1M107.6 64.3h2.0M104.6 65.3h1M83.5 67.3h2.0M96.5 67.3h2.0M102.6 67.3h2.0M106.6 67.3h1M89.5 68.3h1M91.5 68.3h1M94.5 68.3h2.0M105.6 68.3h1M107.6 68.3h1M111.6 68.3h1M83.5 69.3h1M101.6 69.3h1M107.6 69.3h2.0M110.6 69.3h1M81.5 70.3h2.0M85.5 70.3h1M91.5 70.3h2.0M94.5 70.3h1M100.6 70.3h1M81.5 71.3h2.0M94.5 71.3h1M96.5 71.3h3.0M103.6 71.3h1M81.5 72.3h1M101.6 72.3h1M105.6 72.3h1M83.5 73.3h1M96.5 73.3h3.0M101.6 73.3h1M103.6 73.3h1M109.6 73.3h1M111.6 73.3h1M97.6 74.3h1M101.6 74.3h2.0M94.5 75.3h1M107.6 75.3h1M111.6 75.3h1M90.5 76.3h1M93.5 76.3h4.0M111.6 76.3h1M98.6 77.3h1M80.5 78.3h3.0M88.5 78.3h1M94.5 78.3h2.0M108.6 78.3h4.0M89.5 79.3h1M95.5 79.3h1M110.6 79.3h1M82.5 80.3h1M89.5 80.3h2.0M97.6 80.3h2.0M82.5 81.3h1M99.6 81.3h2.0M103.6 81.3h3.0M81.5 82.3h2.0M84.5 82.3h1M86.5 82.3h2.0M90.5 82.3h1M96.5 82.3h1M101.6 82.3h2.0M80.5 83.3h2.0M83.5 83.3h1M106.6 83.3h1M109.6 83.3h1M111.6 83.3h1M84.5 84.3h1M86.5 84.3h2.0M97.6 84.3h1M103.6 84.3h1M105.6 84.3h2.0M82.5 85.2h1M89.5 85.2h1M97.6 85.2h2.0M100.6 85.2h4.0M85.5 86.2h1M87.5 86.2h1M100.6 86.2h1M107.6 86.2h1M84.5 87.2h2.0M87.5 87.2h1M90.5 87.2h2.0M94.5 87.2h1M107.6 87.2h1M84.5 88.2h2.0M87.5 88.2h1M100.6 88.2h2.0M104.6 88.2h1M106.6 88.2h1M108.6 88.2h1M81.5 89.2h1M92.5 89.2h2.0M95.5 89.2h2.0M102.6 89.2h1M105.6 89.2h1M107.6 89.2h1M110.6 89.2h1M96.5 90.2h1M98.6 90.2h3.0M102.6 90.2h1M81.5 91.2h1M84.5 91.2h1M88.5 91.2h2.0M97.6 91.2h1M104.6 91.2h2.0M110.6 91.2h2.0M83.5 92.2h1M85.5 92.2h1M100.6 92.2h2.0M84.5 93.2h1M88.5 93.2h1M95.5 93.2h1M97.6 93.2h1M102.6 93.2h1M109.6 93.2h1M98.6 94.2h1M104.6 94.2h1M109.6 94.2h3.0M82.5 95.2h1M92.5 95.2h2.0M95.5 95.2h1M102.6 95.2h2.0M105.6 95.2h1M90.5 96.2h1M95.5 96.2h1M100.6 96.2h1M102.6 96.2h1M107.6 96.2h1M111.6 96.2h1M96.5 97.2h1M83.5 98.2h2.0M95.5 98.2h3.0M99.6 98.2h1M84.5 99.2h1M99.6 99.2h1M107.6 99.2h1M110.6 99.2h1M88.5 100.2h1M104.6 100.2h1M106.6 100.2h3.0M111.6 100.2h1M89.5 101.2h1M92.5 101.2h1M95.5 101.2h1M98.6 101.2h1M100.6 101.2h2.0M111.6 101.2h1M95.5 102.2h1M98.6 102.2h1M103.6 102.2h1M105.6 102.2h1M107.6 102.2h1M83.5 103.2h1M90.5 103.2h2.0M97.6 103.2h1M100.6 103.2h1M82.5 104.2h1M89.5 104.2h1M95.5 104.2h1M80.5 105.2h2.0M94.5 105.2h2.0M107.6 105.2h1M85.5 106.2h1M94.5 106.2h1M98.6 106.2h1M82.5 107.2h2.0M91.5 107.2h1M93.5 107.2h2.0M98.6 107.2h1M100.6 107.2h1M104.6 108.2h1M106.6 108.2h1M108.6 108.2h1M80.5 109.2h3.0M89.5 109.2h4.0M96.5 109.2h3.0M100.6 109.2h1M106.6 109.2h1M80.5 110.2h1M84.5 110.2h1M87.5 110.2h1M90.5 110.2h8.0M100.6 110.2h1M105.6 110.2h1M81.5 111.2h1M84.5 111.2h1M87.5 111.2h1M107.6 111.2h1M81.5 112.2h1M89.5 112.2h2.0M95.5 112.2h1M97.6 112.2h1M100.6 112.2h2.0M105.6 112.2h2.0M108.6 112.2h1M110.6 112.2h1M80.5 113.2h1M82.5 113.2h1M84.5 113.2h1M89.5 113.2h1M83.5 114.2h1M98.6 114.2h1M106.6 114.2h1M82.5 115.2h1M84.5 115.2h1M89.5 115.2h1M89.5 116.2h1M92.5 116.2h2.0M85.5 117.2h2.0M89.5 117.2h2.0M95.5 117.2h1M102.6 117.2h1M109.6 117.2h1M93.5 118.2h1M100.6 118.2h1M104.6 118.2h3.0M80.5 119.2h1M90.5 119.2h5.0M97.6 119.2h1M108.6 119.2h1M84.5 120.2h1M97.6 120.2h1M99.6 120.2h1M102.6 120.2h1M110.6 120.2h1M82.5 121.2h1M90.5 121.2h1M92.5 121.2h1M111.6 121.2h1M81.5 122.2h2.0M84.5 122.2h1M88.5 122.2h1M95.5 122.2h1M100.6 122.2h2.0M107.6 122.2h1M82.5 123.2h2.0M91.5 123.2h2.0M95.5 123.2h1M97.6 123.2h4.0M102.6 123.2h2.0M107.6 123.2h1M109.6 123.2h1M80.5 124.2h2.0M81.5 125.2h2.0M85.5 125.2h3.0M89.5 125.2h1M94.5 125.2h2.0M103.6 125.2h3.0M80.5 127.2h1M103.6 127.2h1M102.6 131.2h2.0M106.6 131.2h1M82.5 132.2h2.0M96.5 132.2h1M100.6 132.2h2.0M106.6 132.2h1M108.6 132.2h1M99.6 134.2h1M87.5 135.2h1M89.5 135.2h1M109.6 135.2h3.0M109.6 136.2h1M91.5 140.2h5.0M97.6 140.2h1M102.6 140.2h2.0M105.6 140.2h2.0M85.5 141.2h2.0M89.5 141.2h2.0M95.5 141.2h1M111.6 141.2h1M102.6 142.1h1M85.5 143.1h1M82.5 144.1h1M89.5 144.1h1M91.5 146.1h2.0M96.5 146.1h1M108.6 146.1h1M87.5 150.1h1M89.5 150.1h1M96.5 150.1h4.0M101.6 151.1h1M108.6 151.1h1M110.6 151.1h1M80.5 152.1h1M85.5 154.1h3.0M95.5 154.1h1M98.6 154.1h1M100.6 154.1h3.0M107.6 154.1h1M111.6 154.1h1M97.6 155.1h2.0M98.6 156.1h2.0M87.5 157.1h1M95.5 157.1h1M97.6 157.1h1M99.6 157.1h2.0M111.6 157.1h1M94.5 158.1h1M102.6 158.1h2.0M105.6 158.1h2.0M108.6 158.1h3.0M91.5 159.1h2.0M96.5 159.1h2.0M99.6 159.1h1M80.5 160.1h3.0M85.5 160.1h1M87.5 160.1h1M111.6 160.1h1M82.5 163.1h1M80.5 164.1h1M86.5 164.1h1M94.5 164.1h1M97.6 164.1h2.0M101.6 164.1h1M103.6 164.1h1M105.6 164.1h2.0M91.5 166.1h1M93.5 167.1h1M96.5 167.1h2.0M100.6 167.1h2.0M80.5 169.1h1M82.5 171.1h1M88.5 171.1h2.0M91.5 171.1h1M93.5 171.1h3.0M101.6 171.1h1M103.6 171.1h1M106.6 171.1h1M80.5 172.1h1M103.6 172.1h2.0M106.6 173.1h1M85.5 174.1h3.0M95.5 174.1h2.0M101.6 174.1h2.0M91.5 178.1h1M102.6 178.1h1M108.6 178.1h1M111.6 178.1h1M100.6 179.1h1M107.6 179.1h1M109.6 179.1h2.0M105.6 180.1h2.0M86.5 181.1h4.0M98.6 181.1h4.0M103.6 181.1h1M92.5 182.1h1M85.5 183.1h3.0M90.5 183.1h1M104.6 185.1h1M104.6 186.1h2.0M102.6 187.1h1M104.6 187.1h1M87.5 188.1h2.0M95.5 188.1h1M98.6 188.1h1M107.6 188.1h4.0M109.6 189.1h3.0M82.5 190.1h1M104.6 190.1h1M107.6 190.1h1M80.5 191.1h1M84.5 191.1h1M86.5 191.1h1M88.5 191.1h2.0M93.5 191.1h3.0M95.5 192.1h1M99.6 192.1h1M85.5 193.1h2.0M84.5 195.1h1M86.5 195.1h1M91.5 195.1h2.0M94.5 195.1h2.0M90.5 196.1h2.0M94.5 196.1h2.0M102.6 196.1h1M104.6 196.1h1M106.6 196.1h6.0M94.5 197.1h1M104.6 197.1h1M86.5 198.1h1M97.6 198.1h3.0M101.6 199h1M105.6 199h3.0M91.5 200h1M84.5 201h3.0M88.5 201h1M96.5 201h1M101.6 201h3.0M105.6 201h1M84.5 202h1M90.5 202h1M94.5 202h2.0M101.6 202h1M104.6 202h2.0M97.6 204h2.0M100.6 204h2.0M87.5 206h1M96.5 206h1M99.6 206h1M102.6 206h2.0M105.6 206h2.0M108.6 206h1M87.5 207h1M98.6 207h1M101.6 207h1M93.5 208h1M101.6 208h2.0M104.6 210h1M80.5 211h2.0M98.6 211h1M100.6 211h2.0M103.6 211h2.0M96.5 213h1M107.6 213h1M111.6 213h1M109.6 214h1M92.5 215h1M84.5 216h2.0M87.5 216h1M97.6 216h1M100.6 216h1M107.6 216h1M109.6 216h1M89.5 217h1M85.5 218h3.0M98.6 218h1M93.5 219h1M105.6 219h2.0M109.6 219h1M85.5 220h2.0M80.5 221h3.0M88.5 221h1M81.5 222h1M99.6 222h1M104.6 222h2.0M107.6 222h1M92.5 223h1M103.6 223h1M105.6 223h4.0M111.6 223h1M82.5 224h1M90.5 224h1M103.6 224h1M105.6 224h1M91.5 226h1"/>
<path stroke="#0a0a0a" stroke-opacity="0.67" stroke-width="0.998" fill="none" d="M88.5 57.3h2.0M91.5 57.3h1M94.5 57.3h1M96.5 57.3h1M104.6 57.3h2.0M107.6 57.3h3.0M103.6 58.3h2.0M111.6 58.3h1M85.5 59.3h1M94.5 59.3h1M106.6 59.3h1M81.5 60.3h2.0M84.5 60.3h1M103.6 60.3h1M106.6 60.3h3.0M111.6 60.3h1M82.5 61.3h1M87.5 62.3h1M106.6 62.3h1M81.5 63.3h2.0M100.6 63.3h2.0M83.5 64.3h1M87.5 64.3h2.0M92.5 64.3h2.0M95.5 64.3h1M96.5 65.3h2.0M101.6 65.3h3.0M81.5 66.3h2.0M105.6 66.3h1M80.5 67.3h3.0M85.5 67.3h2.0M88.5 67.3h2.0M95.5 67.3h1M99.6 67.3h1M108.6 67.3h2.0M83.5 68.3h2.0M103.6 68.3h2.0M108.6 68.3h1M82.5 69.3h1M97.6 69.3h1M99.6 69.3h2.0M111.6 69.3h1M80.5 70.3h1M84.5 70.3h1M86.5 70.3h1M89.5 70.3h2.0M95.5 70.3h2.0M99.6 70.3h1M87.5 71.3h1M91.5 71.3h3.0M108.6 71.3h2.0M111.6 71.3h1M80.5 72.3h1M82.5 72.3h1M91.5 72.3h1M94.5 72.3h2.0M102.6 72.3h3.0M81.5 73.3h2.0M84.5 73.3h1M86.5 73.3h1M95.5 73.3h1M102.6 73.3h1M108.6 73.3h1M83.5 74.3h1M87.5 74.3h1M96.5 74.3h1M98.6 74.3h1M103.6 74.3h1M106.6 74.3h2.0M82.5 75.3h1M87.5 75.3h2.0M96.5 75.3h1M103.6 75.3h1M80.5 76.3h1M85.5 76.3h1M88.5 76.3h1M109.6 76.3h2.0M101.6 78.3h1M83.5 79.3h1M88.5 79.3h1M96.5 79.3h1M103.6 79.3h1M107.6 79.3h2.0M111.6 79.3h1M99.6 80.3h1M90.5 81.3h1M94.5 81.3h2.0M97.6 81.3h2.0M101.6 81.3h2.0M106.6 81.3h1M88.5 82.3h1M91.5 82.3h1M103.6 82.3h2.0M106.6 82.3h1M111.6 82.3h1M85.5 83.3h1M105.6 83.3h1M107.6 83.3h1M110.6 83.3h1M81.5 84.3h2.0M85.5 84.3h1M89.5 84.3h1M98.6 84.3h1M101.6 84.3h2.0M104.6 84.3h1M81.5 85.2h1M90.5 85.2h1M93.5 85.2h1M107.6 85.2h1M110.6 85.2h1M83.5 86.2h1M88.5 86.2h2.0M95.5 86.2h1M99.6 86.2h1M108.6 86.2h1M111.6 86.2h1M80.5 87.2h1M83.5 87.2h1M89.5 87.2h1M102.6 87.2h1M106.6 87.2h1M83.5 88.2h1M86.5 88.2h1M88.5 88.2h1M99.6 88.2h1M103.6 88.2h1M105.6 88.2h1M109.6 88.2h1M97.6 89.2h2.0M106.6 89.2h1M108.6 89.2h1M95.5 90.2h1M103.6 90.2h1M85.5 91.2h2.0M98.6 91.2h4.0M103.6 91.2h1M107.6 92.2h3.0M82.5 93.2h2.0M89.5 93.2h1M99.6 93.2h1M110.6 93.2h2.0M83.5 95.2h2.0M88.5 95.2h1M94.5 95.2h1M87.5 96.2h1M89.5 96.2h1M91.5 96.2h4.0M103.6 96.2h1M108.6 96.2h1M110.6 96.2h1M82.5 97.2h2.0M94.5 97.2h2.0M100.6 97.2h1M85.5 98.2h2.0M88.5 98.2h1M85.5 99.2h1M100.6 99.2h3.0M104.6 99.2h1M81.5 100.2h1M83.5 100.2h1M90.5 100.2h1M92.5 100.2h3.0M101.6 100.2h3.0M87.5 101.2h2.0M91.5 101.2h1M106.6 101.2h1M80.5 102.2h1M94.5 102.2h1M94.5 103.2h2.0M101.6 103.2h1M80.5 104.2h2.0M94.5 104.2h1M96.5 104.2h1M82.5 105.2h1M85.5 105.2h1M89.5 105.2h2.0M108.6 105.2h1M111.6 105.2h1M83.5 106.2h1M89.5 106.2h2.0M93.5 106.2h1M95.5 106.2h1M97.6 106.2h1M99.6 106.2h1M102.6 106.2h1M107.6 106.2h5.0M80.5 107.2h2.0M101.6 107.2h1M109.6 108.2h1M93.5 109.2h3.0M99.6 109.2h1M101.6 109.2h2.0M82.5 110.2h1M86.5 110.2h1M88.5 110.2h2.0M101.6 110.2h1M104.6 110.2h1M106.6 110.2h1M86.5 111.2h1M108.6 111.2h2.0M82.5 112.2h1M86.5 112.2h3.0M96.5 112.2h1M102.6 112.2h3.0M81.5 113.2h1M83.5 113.2h1M85.5 113.2h1M88.5 113.2h1M90.5 114.2h1M96.5 114.2h2.0M99.6 114.2h2.0M105.6 114.2h1M107.6 114.2h1M110.6 114.2h1M96.5 115.2h1M107.6 115.2h1M88.5 116.2h1M91.5 116.2h1M94.5 116.2h1M107.6 116.2h2.0M91.5 117.2h1M94.5 117.2h1M110.6 119.2h1M82.5 120.2h1M89.5 120.2h1M93.5 120.2h2.0M84.5 121.2h2.0M87.5 121.2h3.0M91.5 121.2h1M85.5 122.2h3.0M99.6 122.2h1M102.6 122.2h3.0M88.5 123.2h1M90.5 123.2h1M93.5 123.2h1M104.6 123.2h3.0M108.6 123.2h1M109.6 124.2h1M80.5 125.2h1M83.5 125.2h2.0M88.5 125.2h1M90.5 125.2h1M93.5 125.2h1M97.6 125.2h1M99.6 125.2h2.0M80.5 126.2h1M97.6 132.2h2.0M81.5 135.2h2.0M88.5 135.2h1M96.5 140.2h1M104.6 140.2h1M92.5 141.2h3.0M96.5 141.2h1M103.6 142.1h6.0M88.5 143.1h1M80.5 144.1h2.0M83.5 144.1h1M93.5 146.1h1M86.5 150.1h1M88.5 150.1h1M106.6 151.1h1M109.6 151.1h1M111.6 151.1h1M96.5 154.1h2.0M99.6 154.1h1M108.6 154.1h2.0M96.5 157.1h1M107.6 158.1h1M94.5 159.1h2.0M88.5 160.1h1M87.5 164.1h1M99.6 164.1h2.0M102.6 164.1h1M93.5 166.1h1M94.5 167.1h2.0M80.5 171.1h2.0M83.5 171.1h4.0M104.6 171.1h1M107.6 171.1h5.0M111.6 173.1h1M97.6 174.1h2.0M103.6 174.1h1M106.6 174.1h1M105.6 178.1h1M109.6 178.1h2.0M85.5 181.1h1M104.6 181.1h1M93.5 182.1h1M81.5 183.1h2.0M84.5 183.1h1M89.5 183.1h1M103.6 187.1h1M89.5 188.1h2.0M93.5 188.1h1M111.6 188.1h1M105.6 190.1h2.0M81.5 191.1h3.0M85.5 191.1h1M87.5 191.1h1M97.6 192.1h2.0M85.5 195.1h1M96.5 195.1h2.0M92.5 196.1h2.0M103.6 196.1h1M87.5 198.1h1M102.6 199h3.0M100.6 201h1M104.6 201h1M85.5 202h1M93.5 202h1M103.6 202h1M91.5 206h1M110.6 206h1M100.6 207h1M99.6 211h1M102.6 211h1M97.6 213h4.0M108.6 213h3.0M98.6 216h2.0M108.6 216h1M84.5 218h1M80.5 224h2.0M91.5 224h1M93.5 224h1"/>
<path stroke="#0a0a0a" stroke-opacity="0.83" stroke-width="0.998" fill="none" d="M80.5 57.3h1M90.5 57.3h1M92.5 57.3h2.0M103.6 57.3h1M90.5 58.3h1M93.5 58.3h1M107.6 58.3h1M110.6 58.3h1M83.5 59.3h1M86.5 59.3h1M91.5 59.3h3.0M111.6 59.3h1M85.5 60.3h1M96.5 60.3h4.0M102.6 60.3h1M109.6 60.3h1M81.5 61.3h1M85.5 61.3h1M93.5 61.3h2.0M111.6 61.3h1M102.6 62.3h3.0M80.5 63.3h1M97.6 63.3h1M99.6 63.3h1M80.5 64.3h1M82.5 64.3h1M89.5 64.3h3.0M94.5 64.3h1M99.6 65.3h2.0M80.5 66.3h1M90.5 66.3h1M97.6 66.3h1M101.6 66.3h1M106.6 66.3h1M108.6 66.3h2.0M87.5 67.3h1M90.5 67.3h1M94.5 67.3h1M107.6 67.3h1M110.6 67.3h1M85.5 68.3h3.0M96.5 68.3h7.0M110.6 68.3h1M80.5 69.3h2.0M98.6 69.3h1M83.5 70.3h1M87.5 70.3h2.0M93.5 70.3h1M83.5 71.3h1M85.5 71.3h2.0M88.5 71.3h1M101.6 71.3h1M106.6 71.3h2.0M110.6 71.3h1M87.5 72.3h4.0M87.5 73.3h2.0M94.5 73.3h1M99.6 73.3h2.0M84.5 74.3h1M86.5 74.3h1M88.5 74.3h1M99.6 74.3h1M108.6 74.3h1M110.6 74.3h2.0M80.5 75.3h2.0M85.5 75.3h2.0M97.6 75.3h2.0M102.6 75.3h1M104.6 75.3h3.0M83.5 76.3h2.0M89.5 76.3h1M97.6 76.3h1M99.6 76.3h1M104.6 76.3h1M107.6 76.3h1M98.6 78.3h1M81.5 79.3h2.0M84.5 79.3h1M99.6 79.3h1M102.6 79.3h1M104.6 79.3h1M106.6 79.3h1M83.5 80.3h1M88.5 80.3h1M100.6 80.3h1M103.6 80.3h1M91.5 81.3h1M93.5 81.3h1M85.5 82.3h1M105.6 82.3h1M108.6 82.3h1M110.6 82.3h1M82.5 83.3h1M84.5 83.3h1M86.5 83.3h2.0M102.6 83.3h2.0M88.5 84.3h1M90.5 84.3h1M96.5 84.3h1M99.6 84.3h2.0M91.5 85.2h2.0M111.6 85.2h1M82.5 86.2h1M84.5 86.2h1M96.5 86.2h2.0M110.6 86.2h1M81.5 87.2h1M103.6 87.2h3.0M89.5 88.2h2.0M92.5 88.2h2.0M95.5 88.2h1M98.6 88.2h1M102.6 88.2h1M82.5 89.2h4.0M90.5 89.2h2.0M109.6 89.2h1M80.5 90.2h1M89.5 90.2h1M104.6 90.2h1M106.6 90.2h1M109.6 90.2h1M87.5 91.2h1M102.6 91.2h1M110.6 92.2h1M98.6 93.2h1M85.5 95.2h1M87.5 95.2h1M89.5 95.2h3.0M86.5 96.2h1M88.5 96.2h1M104.6 96.2h1M106.6 96.2h1M81.5 97.2h1M84.5 97.2h1M89.5 97.2h3.0M97.6 97.2h1M101.6 97.2h2.0M87.5 98.2h1M98.6 98.2h1M80.5 99.2h1M103.6 99.2h1M106.6 99.2h1M80.5 100.2h1M82.5 100.2h1M84.5 100.2h2.0M87.5 100.2h1M89.5 100.2h1M91.5 100.2h1M95.5 100.2h2.0M80.5 101.2h2.0M86.5 101.2h1M102.6 101.2h1M105.6 101.2h1M109.6 101.2h2.0M81.5 102.2h2.0M88.5 102.2h1M108.6 102.2h2.0M111.6 102.2h1M80.5 103.2h1M82.5 103.2h1M92.5 103.2h2.0M102.6 103.2h8.0M83.5 104.2h1M86.5 106.2h1M88.5 106.2h1M92.5 106.2h1M96.5 106.2h1M106.6 106.2h1M102.6 107.2h2.0M106.6 107.2h1M81.5 110.2h1M85.5 110.2h1M103.6 110.2h1M107.6 110.2h1M110.6 110.2h2.0M110.6 111.2h2.0M80.5 112.2h1M83.5 112.2h2.0M87.5 113.2h1M80.5 114.2h1M82.5 114.2h1M91.5 114.2h1M101.6 114.2h1M103.6 114.2h2.0M111.6 114.2h1M85.5 115.2h1M88.5 115.2h1M97.6 115.2h4.0M105.6 115.2h1M108.6 115.2h2.0M111.6 115.2h1M83.5 116.2h1M86.5 116.2h2.0M109.6 116.2h2.0M92.5 117.2h2.0M80.5 120.2h2.0M92.5 120.2h1M95.5 120.2h2.0M86.5 121.2h1M96.5 122.2h3.0M84.5 123.2h1M86.5 123.2h2.0M89.5 123.2h1M101.6 123.2h1M89.5 124.2h1M91.5 125.2h2.0M98.6 125.2h1M99.6 132.2h1M83.5 135.2h1M85.5 135.2h2.0M91.5 141.2h1M110.6 146.1h2.0M80.5 159.1h1M86.5 160.1h1M81.5 163.1h1M92.5 166.1h1M87.5 171.1h1M99.6 174.1h2.0M104.6 174.1h1M106.6 178.1h1M80.5 183.1h1M83.5 183.1h1M91.5 188.1h2.0M94.5 188.1h1M97.6 201h1M99.6 207h1M92.5 224h1M104.6 224h1"/>
<path stroke="#0a0a0a" stroke-opacity="1.00" stroke-width="0.998" fill="none" d="M106.6 57.3h1M110.6 57.3h2.0M91.5 58.3h2.0M84.5 59.3h1M87.5 59.3h4.0M95.5 59.3h11.0M107.6 59.3h2.0M110.6 59.3h1M94.5 60.3h2.0M100.6 60.3h2.0M80.5 61.3h1M83.5 61.3h2.0M86.5 61.3h7.0M95.5 61.3h16.0M105.6 62.3h1M98.6 63.3h1M81.5 64.3h1M98.6 65.3h1M83.5 66.3h7.0M91.5 66.3h6.0M98.6 66.3h3.0M102.6 66.3h3.0M107.6 66.3h1M110.6 66.3h2.0M91.5 67.3h3.0M111.6 67.3h1M80.5 68.3h3.0M88.5 68.3h1M109.6 68.3h1M97.6 70.3h2.0M84.5 71.3h1M89.5 71.3h2.0M104.6 71.3h2.0M83.5 72.3h4.0M80.5 73.3h1M85.5 73.3h1M89.5 73.3h5.0M85.5 74.3h1M100.6 74.3h1M104.6 74.3h2.0M109.6 74.3h1M83.5 75.3h2.0M99.6 75.3h3.0M86.5 76.3h2.0M98.6 76.3h1M100.6 76.3h4.0M105.6 76.3h2.0M108.6 76.3h1M96.5 78.3h2.0M99.6 78.3h2.0M80.5 79.3h1M85.5 79.3h3.0M97.6 79.3h2.0M100.6 79.3h2.0M105.6 79.3h1M84.5 80.3h4.0M101.6 80.3h2.0M104.6 80.3h8.0M80.5 81.3h2.0M92.5 81.3h1M96.5 81.3h1M107.6 82.3h1M109.6 82.3h1M104.6 83.3h1M91.5 84.3h5.0M108.6 85.2h2.0M80.5 86.2h2.0M98.6 86.2h1M109.6 86.2h1M82.5 87.2h1M91.5 88.2h1M94.5 88.2h1M96.5 88.2h2.0M86.5 89.2h4.0M81.5 90.2h8.0M90.5 90.2h5.0M105.6 90.2h1M107.6 90.2h2.0M110.6 90.2h2.0M111.6 92.2h1M80.5 93.2h2.0M86.5 95.2h1M105.6 96.2h1M80.5 97.2h1M85.5 97.2h4.0M92.5 97.2h2.0M98.6 97.2h2.0M103.6 97.2h9.0M105.6 99.2h1M86.5 100.2h1M97.6 100.2h4.0M82.5 101.2h4.0M103.6 101.2h2.0M107.6 101.2h2.0M83.5 102.2h5.0M89.5 102.2h5.0M110.6 102.2h1M81.5 103.2h1M110.6 103.2h2.0M109.6 105.2h2.0M80.5 106.2h3.0M87.5 106.2h1M91.5 106.2h1M103.6 106.2h3.0M104.6 107.2h2.0M102.6 110.2h1M108.6 110.2h2.0M85.5 112.2h1M86.5 113.2h1M81.5 114.2h1M92.5 114.2h4.0M102.6 114.2h1M108.6 114.2h2.0M86.5 115.2h2.0M101.6 115.2h4.0M106.6 115.2h1M110.6 115.2h1M80.5 116.2h3.0M84.5 116.2h2.0M111.6 116.2h1M83.5 120.2h1M90.5 120.2h2.0M85.5 123.2h1M90.5 124.2h19.1M110.6 124.2h2.0M80.5 135.2h1M84.5 135.2h1M105.6 174.1h1M98.6 201h1"/>
</g></g>
<clipPath id="clipA2"><rect x="121.00" y="56.80" width="31.80" height="169.70"/></clipPath>
<rect x="121.00" y="56.80" width="31.80" height="169.70" fill="#fff"/>
<g clip-path="url(#clipA2)"><g filter="url(#soft)">
<path stroke="#801616" stroke-opacity="0.17" stroke-width="0.998" fill="none" d="M128 57.3h1M133.9 57.3h3.0M146.8 57.3h1M148.8 57.3h1M145.8 58.3h1M147.8 58.3h3.0M121 59.3h1M123 59.3h5.0M137.9 59.3h2.0M146.8 59.3h1M150.8 59.3h1M150.8 60.3h2.0M123 62.3h1M128.9 62.3h1M130.9 62.3h1M137.9 62.3h2.0M147.8 62.3h2.0M121 63.3h1M121 64.3h1M150.8 64.3h1M143.9 65.3h1M127 66.3h1M129.9 66.3h1M132.9 66.3h1M121 67.3h1M142.9 67.3h1M131.9 69.3h2.0M137.9 69.3h1M138.9 70.3h1M140.9 71.3h2.0M134.9 72.3h2.0M137.9 72.3h1M139.9 72.3h1M121 73.3h1M139.9 74.3h1M142.9 74.3h1M149.8 74.3h1M151.8 74.3h1M123 75.3h1M125 75.3h3.0M145.8 75.3h2.0M149.8 75.3h1M129.9 76.3h3.0M125 77.3h1M127 77.3h1M136.9 77.3h1M122 78.3h2.0M126 78.3h1M139.9 78.3h2.0M142.9 78.3h1M126 80.3h1M128 80.3h2.0M137.9 80.3h2.0M147.8 80.3h1M149.8 80.3h1M150.8 81.3h2.0M130.9 82.3h1M132.9 82.3h1M143.9 82.3h1M138.9 83.3h3.0M151.8 83.3h1M133.9 84.3h1M146.8 84.3h1M129.9 87.2h1M121 88.2h2.0M133.9 88.2h1M142.9 88.2h2.0M134.9 93.2h1M142.9 93.2h2.0M137.9 94.2h1M136.9 96.2h1M140.9 96.2h1M125 99.2h1M127 99.2h1M147.8 100.2h1M122 101.2h1M146.8 101.2h1M124 102.2h1M151.8 103.2h1M122 104.2h1M125 104.2h2.0M141.9 104.2h1M144.9 104.2h1M147.8 104.2h1M125 106.2h2.0M129.9 106.2h3.0M126 107.2h1M137.9 107.2h1M139.9 107.2h1M150.8 108.2h2.0M128 109.2h2.0M132.9 109.2h1M144.9 109.2h1M149.8 109.2h1M126 110.2h1M133.9 110.2h1M128.9 111.2h1M132.9 111.2h1M134.9 111.2h1M136.9 111.2h1M147.8 112.2h2.0M124 113.2h1M139.9 113.2h1M124 114.2h1M151.8 114.2h1M125 117.2h1M127 117.2h1M125 118.2h1M151.8 118.2h1M125 119.2h1M132.9 119.2h1M135.9 119.2h1M122 120.2h1M129.9 121.2h3.0M147.8 121.2h1M148.8 122.2h1M122 123.2h2.0M147.8 123.2h1M124 124.2h2.0M127 124.2h1M139.9 124.2h1M145.8 124.2h2.0M149.8 124.2h1M121 125.2h1M146.8 125.2h1M148.8 125.2h1M126 126.2h1M133.9 126.2h2.0M145.8 126.2h1M147.8 126.2h3.0M123 127.2h1M131.9 127.2h1M143.9 127.2h1M147.8 127.2h1M150.8 127.2h2.0M132.9 128.2h1M139.9 128.2h1M146.8 128.2h1M136.9 129.2h1M141.9 129.2h1M148.8 129.2h2.0M151.8 129.2h1M135.9 130.2h1M140.9 130.2h1M144.9 130.2h1M150.8 130.2h1M121 131.2h2.0M133.9 131.2h3.0M139.9 131.2h1M144.9 131.2h1M146.8 131.2h2.0M149.8 131.2h2.0M121 132.2h1M139.9 132.2h2.0M142.9 132.2h1M145.8 132.2h1M148.8 132.2h2.0M151.8 132.2h1M144.9 133.2h1M146.8 133.2h4.0M151.8 133.2h1M121 134.2h2.0M135.9 134.2h1M146.8 134.2h1M149.8 134.2h1M137.9 135.2h4.0M144.9 135.2h1M148.8 135.2h1M151.8 135.2h1M128.9 136.2h1M131.9 136.2h1M135.9 136.2h1M138.9 136.2h1M143.9 136.2h3.0M150.8 136.2h2.0M140.9 137.2h1M145.8 137.2h1M127 138.2h1M145.8 138.2h3.0M131.9 139.2h1M141.9 139.2h2.0M124 140.2h1M127 140.2h1M131.9 140.2h1M139.9 140.2h2.0M144.9 140.2h2.0M149.8 140.2h3.0M122 141.2h2.0M132.9 141.2h1M139.9 141.2h1M149.8 141.2h2.0M127 142.1h1M132.9 142.1h1M137.9 142.1h2.0M122 143.1h1M124 143.1h1M127 143.1h1M128.9 143.1h5.0M135.9 143.1h1M137.9 143.1h1M145.8 143.1h3.0M149.8 143.1h1M131.9 144.1h1M147.8 144.1h2.0M138.9 145.1h3.0M146.8 145.1h2.0M149.8 145.1h1M121 146.1h1M146.8 146.1h1M149.8 146.1h1M124 147.1h1M128.9 147.1h1M130.9 147.1h1M136.9 147.1h1M144.9 147.1h5.0M150.8 147.1h1M128 148.1h1M138.9 148.1h2.0M142.9 148.1h1M149.8 148.1h1M121 149.1h1M123 149.1h1M128.9 149.1h1M137.9 149.1h1M140.9 149.1h1M142.9 149.1h1M123 150.1h1M146.8 150.1h1M151.8 150.1h1M128 151.1h1M135.9 151.1h1M137.9 151.1h2.0M141.9 151.1h1M146.8 151.1h1M148.8 151.1h4.0M132.9 152.1h1M134.9 152.1h2.0M140.9 152.1h1M142.9 152.1h1M147.8 152.1h1M126 153.1h1M128 153.1h4.0M138.9 153.1h1M140.9 153.1h1M142.9 153.1h2.0M145.8 153.1h2.0M128 154.1h1M129.9 154.1h1M139.9 154.1h1M151.8 154.1h1M122 155.1h6.0M137.9 155.1h1M139.9 155.1h1M142.9 155.1h1M144.9 155.1h3.0M148.8 155.1h3.0M122 156.1h1M134.9 156.1h1M150.8 156.1h1M136.9 157.1h1M150.8 157.1h1M121 158.1h1M123 158.1h1M125 158.1h1M137.9 158.1h1M127 159.1h2.0M136.9 159.1h2.0M141.9 159.1h1M143.9 159.1h1M124 160.1h2.0M128 160.1h1M131.9 160.1h2.0M135.9 160.1h1M150.8 160.1h1M124 161.1h3.0M128 161.1h1M143.9 161.1h2.0M123 162.1h1M148.8 162.1h1M124 163.1h1M126 163.1h1M128 163.1h1M130.9 163.1h1M133.9 163.1h1M135.9 163.1h1M137.9 163.1h2.0M137.9 164.1h1M140.9 164.1h1M142.9 164.1h1M121 165.1h1M128.9 165.1h1M124 166.1h1M130.9 166.1h1M141.9 166.1h1M150.8 166.1h1M121 167.1h2.0M137.9 167.1h2.0M148.8 167.1h1M150.8 167.1h1M137.9 168.1h2.0M150.8 168.1h2.0M121 169.1h1M140.9 169.1h2.0M145.8 169.1h1M122 170.1h3.0M130.9 170.1h1M134.9 170.1h3.0M141.9 170.1h1M128.9 171.1h1M132.9 171.1h1M135.9 171.1h1M144.9 171.1h1M147.8 171.1h1M136.9 172.1h1M151.8 172.1h1M128.9 173.1h1M145.8 173.1h2.0M122 174.1h2.0M126 174.1h2.0M144.9 174.1h2.0M134.9 175.1h1M137.9 175.1h1M139.9 175.1h1M123 176.1h1M132.9 176.1h2.0M136.9 177.1h1M140.9 177.1h3.0M144.9 177.1h2.0M124 178.1h1M140.9 178.1h2.0M143.9 178.1h1M147.8 178.1h1M150.8 178.1h1M132.9 179.1h1M144.9 179.1h2.0M150.8 179.1h1M127 180.1h2.0M137.9 180.1h1M140.9 180.1h1M149.8 180.1h1M124 181.1h4.0M129.9 181.1h3.0M136.9 181.1h1M145.8 181.1h1M147.8 181.1h2.0M121 182.1h1M129.9 182.1h2.0M136.9 182.1h1M138.9 182.1h3.0M145.8 182.1h2.0M121 183.1h3.0M125 183.1h1M129.9 183.1h1M137.9 183.1h1M140.9 183.1h1M149.8 183.1h1M151.8 183.1h1M122 184.1h1M128 184.1h1M132.9 184.1h2.0M149.8 184.1h1M121 185.1h1M134.9 185.1h2.0M140.9 185.1h1M144.9 185.1h1M122 186.1h2.0M141.9 186.1h1M143.9 186.1h2.0M151.8 186.1h1M142.9 187.1h2.0M145.8 187.1h2.0M150.8 187.1h2.0M121 188.1h3.0M128.9 188.1h1M131.9 188.1h4.0M143.9 188.1h1M147.8 188.1h1M150.8 188.1h2.0M128 189.1h1M130.9 189.1h1M132.9 189.1h1M136.9 189.1h1M144.9 189.1h1M132.9 190.1h1M141.9 190.1h1M146.8 190.1h1M148.8 190.1h1M151.8 190.1h1M126 191.1h1M133.9 191.1h1M142.9 191.1h1M148.8 191.1h2.0M123 192.1h1M139.9 192.1h2.0M123 193.1h1M137.9 193.1h2.0M130.9 194.1h2.0M137.9 194.1h1M139.9 194.1h3.0M145.8 194.1h3.0M149.8 194.1h2.0M121 195.1h2.0M127 195.1h1M128.9 195.1h1M131.9 195.1h1M135.9 195.1h2.0M139.9 195.1h1M142.9 195.1h1M147.8 195.1h2.0M130.9 196.1h2.0M136.9 196.1h1M145.8 196.1h1M150.8 196.1h1M134.9 197.1h1M140.9 197.1h1M144.9 197.1h4.0M151.8 197.1h1M129.9 198.1h1M134.9 198.1h1M151.8 198.1h1M123 199h3.0M140.9 199h1M147.8 199h1M123 200h1M126 200h1M144.9 200h1M147.8 200h2.0M121 201h2.0M130.9 201h1M133.9 201h2.0M145.8 201h3.0M128 202h1M139.9 202h1M141.9 202h1M143.9 202h1M132.9 203h1M134.9 203h2.0M149.8 203h1M122 204h2.0M129.9 204h1M133.9 204h2.0M140.9 204h1M144.9 204h1M146.8 204h1M125 205h3.0M128.9 205h3.0M136.9 205h2.0M123 206h1M125 206h1M128 206h6.0M136.9 206h1M128 207h1M129.9 207h1M146.8 207h1M123 208h1M128 208h1M130.9 208h1M145.8 208h1M147.8 208h1M149.8 208h1M123 209h1M128 210h2.0M135.9 210h1M141.9 210h1M149.8 210h1M128 211h1M131.9 211h2.0M149.8 211h1M127 212h2.0M134.9 212h2.0M142.9 212h2.0M149.8 212h2.0M127 213h1M124 214h1M126 214h1M151.8 214h1M124 215h1M136.9 215h2.0M141.9 215h5.0M148.8 215h2.0M126 216h1M128 216h1M129.9 216h1M131.9 216h1M144.9 216h2.0M123 217h1M128 217h1M130.9 217h1M122 218h1M129.9 218h1M132.9 218h1M135.9 218h1M139.9 218h1M142.9 218h2.0M123 219h1M132.9 219h4.0M144.9 219h1M128.9 220h1M131.9 220h2.0M134.9 220h1M137.9 220h2.0M140.9 220h1M123 221h1M128 221h3.0M131.9 221h1M121 222h1M128 222h1M134.9 222h3.0M140.9 222h2.0M129.9 223h3.0M134.9 223h2.0M138.9 223h2.0M141.9 223h1M144.9 223h1M128.9 224h4.0M136.9 224h1M139.9 224h3.0M145.8 224h6.0M131.9 225h2.0M121 226h3.0M125 226h1M132.9 226h4.0M142.9 226h1"/>
<path stroke="#801616" stroke-opacity="0.33" stroke-width="0.998" fill="none" d="M124 57.3h1M128.9 57.3h1M131.9 57.3h2.0M137.9 57.3h3.0M145.8 57.3h1M149.8 57.3h1M142.9 58.3h1M146.8 58.3h1M122 59.3h1M128 59.3h1M131.9 59.3h3.0M139.9 59.3h1M145.8 59.3h1M128 62.3h1M139.9 62.3h5.0M149.8 62.3h2.0M122 63.3h1M136.9 63.3h1M138.9 63.3h1M150.8 63.3h1M133.9 65.3h1M144.9 65.3h1M122 66.3h1M134.9 66.3h2.0M138.9 66.3h1M150.8 66.3h1M122 67.3h1M143.9 67.3h1M128 68.3h4.0M121 69.3h2.0M133.9 69.3h1M136.9 69.3h1M138.9 69.3h2.0M137.9 70.3h1M139.9 70.3h1M142.9 70.3h1M145.8 70.3h1M151.8 70.3h1M135.9 71.3h2.0M150.8 71.3h1M131.9 72.3h3.0M140.9 72.3h1M146.8 72.3h1M122 73.3h1M124 73.3h1M133.9 73.3h1M135.9 73.3h5.0M146.8 73.3h2.0M122 74.3h2.0M124 75.3h1M132.9 75.3h1M135.9 75.3h1M144.9 75.3h1M147.8 75.3h1M128.9 76.3h1M136.9 76.3h1M126 77.3h1M135.9 77.3h1M141.9 77.3h1M125 78.3h1M128 78.3h2.0M135.9 78.3h1M137.9 78.3h1M141.9 78.3h1M143.9 78.3h1M124 79.3h1M125 80.3h1M127 80.3h1M133.9 80.3h1M146.8 80.3h1M148.8 80.3h1M129.9 81.3h4.0M134.9 81.3h1M142.9 81.3h3.0M128.9 82.3h1M131.9 82.3h1M133.9 82.3h1M142.9 82.3h1M144.9 82.3h3.0M136.9 83.3h2.0M142.9 83.3h2.0M150.8 83.3h1M129.9 84.3h1M131.9 84.3h1M147.8 84.3h1M149.8 84.3h1M124 86.2h2.0M132.9 86.2h2.0M135.9 86.2h1M151.8 86.2h1M122 87.2h1M130.9 87.2h2.0M150.8 87.2h2.0M123 88.2h1M138.9 88.2h2.0M151.8 88.2h1M128.9 89.2h1M129.9 90.2h2.0M137.9 90.2h2.0M128.9 91.2h1M151.8 91.2h1M123 92.2h1M127 92.2h2.0M139.9 92.2h1M151.8 92.2h1M133.9 93.2h1M135.9 93.2h1M141.9 93.2h1M144.9 93.2h1M125 94.2h2.0M134.9 94.2h2.0M138.9 94.2h1M130.9 95.2h1M136.9 95.2h2.0M148.8 96.2h1M125 97.2h2.0M126 98.2h1M124 99.2h1M126 99.2h1M149.8 99.2h1M124 100.2h3.0M145.8 101.2h1M127 102.2h1M142.9 102.2h1M144.9 102.2h3.0M129.9 103.2h1M150.8 103.2h1M124 104.2h1M128 104.2h4.0M133.9 104.2h4.0M146.8 104.2h1M148.8 104.2h1M121 105.2h2.0M121 106.2h4.0M128.9 106.2h1M144.9 106.2h1M148.8 106.2h1M121 107.2h3.0M127 107.2h1M140.9 107.2h2.0M151.8 107.2h1M128.9 108.2h3.0M127 109.2h1M134.9 109.2h1M141.9 109.2h1M125 110.2h1M127 110.2h1M132.9 110.2h1M134.9 110.2h1M128 111.2h1M135.9 111.2h1M139.9 111.2h1M133.9 112.2h1M146.8 112.2h1M127 113.2h1M136.9 113.2h2.0M140.9 113.2h2.0M146.8 113.2h1M148.8 113.2h2.0M151.8 113.2h1M123 114.2h1M125 114.2h5.0M131.9 114.2h1M144.9 114.2h3.0M124 117.2h1M126 117.2h1M126 118.2h3.0M147.8 118.2h4.0M124 119.2h1M137.9 119.2h2.0M140.9 119.2h1M151.8 119.2h1M146.8 121.2h1M148.8 121.2h1M129.9 122.2h4.0M147.8 122.2h1M121 123.2h1M127 123.2h2.0M138.9 123.2h1M146.8 123.2h1M148.8 123.2h1M123 124.2h1M128 124.2h1M138.9 124.2h1M144.9 124.2h1M150.8 124.2h1M122 125.2h1M131.9 125.2h2.0M134.9 125.2h2.0M139.9 125.2h1M145.8 125.2h1M147.8 125.2h1M150.8 125.2h2.0M121 126.2h2.0M124 126.2h2.0M128.9 126.2h1M130.9 126.2h3.0M140.9 126.2h1M124 127.2h1M130.9 127.2h1M132.9 127.2h1M136.9 127.2h1M140.9 127.2h1M142.9 127.2h1M144.9 127.2h1M146.8 127.2h1M128 128.2h1M127 129.2h1M131.9 129.2h1M140.9 129.2h1M143.9 129.2h1M146.8 129.2h2.0M128 130.2h1M137.9 130.2h1M139.9 130.2h1M141.9 130.2h1M145.8 130.2h1M131.9 131.2h2.0M140.9 131.2h1M142.9 131.2h1M145.8 131.2h1M151.8 131.2h1M122 132.2h2.0M129.9 132.2h5.0M137.9 132.2h1M141.9 132.2h1M143.9 132.2h1M150.8 132.2h1M131.9 133.2h2.0M135.9 133.2h2.0M141.9 133.2h1M124 134.2h2.0M132.9 134.2h2.0M144.9 134.2h2.0M148.8 134.2h1M149.8 135.2h2.0M122 136.2h1M133.9 136.2h2.0M139.9 136.2h4.0M131.9 138.2h3.0M142.9 138.2h2.0M126 139.2h1M132.9 139.2h2.0M140.9 139.2h1M146.8 139.2h1M149.8 139.2h1M122 140.2h2.0M125 140.2h2.0M128 140.2h2.0M136.9 140.2h1M138.9 140.2h1M146.8 140.2h1M148.8 140.2h1M125 141.2h1M133.9 141.2h1M135.9 141.2h1M145.8 141.2h1M148.8 141.2h1M124 142.1h3.0M128.9 142.1h1M131.9 142.1h1M133.9 142.1h1M136.9 142.1h1M139.9 142.1h3.0M143.9 142.1h1M145.8 142.1h2.0M123 143.1h1M125 143.1h2.0M133.9 143.1h1M136.9 143.1h1M151.8 143.1h1M128 144.1h3.0M129.9 145.1h2.0M148.8 145.1h1M127 146.1h1M148.8 146.1h1M123 147.1h1M129.9 147.1h1M139.9 147.1h4.0M149.8 147.1h1M136.9 148.1h2.0M140.9 148.1h2.0M150.8 148.1h1M122 149.1h1M131.9 149.1h1M138.9 149.1h1M141.9 149.1h1M128 150.1h1M131.9 150.1h4.0M142.9 150.1h2.0M145.8 150.1h1M147.8 150.1h2.0M123 151.1h5.0M136.9 151.1h1M139.9 151.1h2.0M142.9 151.1h2.0M145.8 151.1h1M147.8 151.1h1M122 152.1h1M124 152.1h1M128.9 152.1h2.0M131.9 152.1h1M137.9 152.1h1M143.9 152.1h1M145.8 152.1h2.0M127 153.1h1M137.9 153.1h1M141.9 153.1h1M144.9 153.1h1M121 154.1h2.0M125 154.1h1M142.9 154.1h1M144.9 154.1h1M138.9 155.1h1M140.9 155.1h2.0M143.9 155.1h1M121 156.1h1M123 156.1h1M126 156.1h2.0M133.9 156.1h1M145.8 156.1h1M151.8 156.1h1M121 157.1h1M141.9 157.1h1M144.9 157.1h2.0M151.8 157.1h1M122 158.1h1M127 158.1h6.0M136.9 158.1h1M138.9 158.1h3.0M142.9 158.1h1M125 159.1h2.0M129.9 159.1h2.0M132.9 159.1h3.0M140.9 159.1h1M142.9 159.1h1M149.8 159.1h1M134.9 160.1h1M136.9 160.1h1M145.8 160.1h5.0M151.8 160.1h1M121 161.1h3.0M127 161.1h1M141.9 161.1h1M127 162.1h1M129.9 162.1h1M133.9 162.1h1M147.8 162.1h1M121 163.1h3.0M127 163.1h1M134.9 163.1h1M136.9 163.1h1M146.8 163.1h3.0M124 164.1h1M132.9 164.1h1M134.9 164.1h2.0M138.9 164.1h1M141.9 164.1h1M143.9 164.1h1M145.8 164.1h1M148.8 164.1h1M122 165.1h1M131.9 165.1h1M141.9 165.1h1M125 166.1h1M127 166.1h2.0M147.8 166.1h3.0M123 167.1h1M139.9 167.1h1M146.8 167.1h2.0M151.8 167.1h1M121 168.1h2.0M124 168.1h2.0M129.9 168.1h1M136.9 168.1h1M139.9 168.1h4.0M147.8 168.1h3.0M122 169.1h3.0M132.9 169.1h5.0M138.9 169.1h2.0M146.8 169.1h1M121 170.1h1M128.9 170.1h2.0M131.9 170.1h3.0M123 171.1h1M131.9 171.1h1M133.9 171.1h2.0M136.9 171.1h3.0M141.9 171.1h1M143.9 171.1h1M146.8 171.1h1M148.8 171.1h1M148.8 172.1h1M150.8 172.1h1M129.9 173.1h2.0M143.9 173.1h2.0M132.9 174.1h3.0M147.8 174.1h3.0M132.9 175.1h1M135.9 175.1h1M141.9 175.1h1M149.8 175.1h1M131.9 176.1h1M139.9 176.1h1M141.9 176.1h1M144.9 176.1h2.0M127 177.1h2.0M137.9 177.1h3.0M143.9 177.1h1M146.8 177.1h3.0M125 178.1h3.0M138.9 178.1h2.0M142.9 178.1h1M131.9 179.1h1M143.9 179.1h1M146.8 179.1h1M151.8 179.1h1M124 180.1h2.0M128.9 180.1h1M138.9 180.1h2.0M141.9 180.1h1M145.8 180.1h1M148.8 180.1h1M150.8 181.1h2.0M148.8 182.1h1M150.8 182.1h1M124 183.1h1M128.9 183.1h1M130.9 183.1h1M138.9 183.1h1M145.8 183.1h1M150.8 183.1h1M130.9 184.1h2.0M140.9 184.1h1M122 185.1h1M132.9 185.1h1M136.9 185.1h1M138.9 185.1h1M149.8 185.1h1M129.9 188.1h2.0M142.9 188.1h1M126 189.1h1M134.9 189.1h2.0M145.8 189.1h1M151.8 189.1h1M127 190.1h1M137.9 190.1h2.0M147.8 190.1h1M150.8 190.1h1M121 191.1h1M125 191.1h1M127 191.1h1M129.9 191.1h2.0M132.9 191.1h1M136.9 191.1h1M140.9 191.1h2.0M144.9 191.1h2.0M150.8 191.1h1M131.9 192.1h1M141.9 192.1h3.0M127 193.1h2.0M131.9 193.1h1M139.9 193.1h1M144.9 193.1h1M129.9 194.1h1M138.9 194.1h1M142.9 194.1h3.0M129.9 195.1h1M132.9 195.1h1M134.9 195.1h1M137.9 195.1h1M140.9 195.1h1M143.9 195.1h1M145.8 195.1h2.0M149.8 195.1h1M127 196.1h1M128.9 196.1h2.0M137.9 196.1h1M151.8 196.1h1M141.9 197.1h3.0M128.9 198.1h1M130.9 198.1h1M133.9 198.1h1M135.9 198.1h1M141.9 198.1h3.0M150.8 198.1h1M128 199h2.0M132.9 199h2.0M139.9 199h1M141.9 199h3.0M121 200h1M149.8 200h1M135.9 201h1M123 202h2.0M136.9 202h1M142.9 202h1M123 203h2.0M126 203h2.0M133.9 203h1M136.9 203h1M126 204h4.0M132.9 204h1M135.9 204h1M137.9 204h2.0M145.8 205h3.0M121 206h2.0M124 206h1M126 206h2.0M133.9 206h3.0M140.9 206h3.0M127 207h1M130.9 207h1M134.9 207h1M137.9 207h2.0M143.9 207h1M145.8 207h1M149.8 207h3.0M122 208h1M124 208h1M139.9 208h1M141.9 208h1M121 209h1M121 210h3.0M126 210h2.0M131.9 210h3.0M140.9 210h1M121 211h2.0M133.9 211h2.0M125 212h1M136.9 212h3.0M144.9 212h1M148.8 212h1M123 213h1M125 213h2.0M128 213h1M137.9 213h5.0M143.9 213h1M148.8 213h1M150.8 213h2.0M136.9 214h1M140.9 214h1M145.8 214h6.0M121 215h1M127 215h3.0M139.9 215h2.0M146.8 215h2.0M127 216h1M134.9 216h1M138.9 216h1M140.9 216h1M150.8 216h1M126 217h1M139.9 217h1M146.8 217h1M151.8 217h1M124 218h3.0M128.9 218h1M131.9 218h1M134.9 218h1M121 219h2.0M136.9 219h1M139.9 219h3.0M143.9 219h1M122 220h2.0M127 220h2.0M130.9 220h1M139.9 220h1M127 221h1M146.8 221h1M122 222h6.0M139.9 222h1M121 223h3.0M132.9 223h2.0M145.8 223h2.0M121 224h2.0M125 224h2.0M128 224h1M144.9 224h1M137.9 225h1M139.9 225h2.0M145.8 225h1M150.8 225h1M124 226h1M126 226h1M137.9 226h1M141.9 226h1M143.9 226h2.0"/>
<path stroke="#801616" stroke-opacity="0.50" stroke-width="0.998" fill="none" d="M123 57.3h1M140.9 57.3h1M144.9 57.3h1M150.8 57.3h2.0M140.9 58.3h1M143.9 58.3h2.0M140.9 59.3h1M151.8 59.3h1M121 60.3h1M134.9 60.3h1M121 61.3h1M147.8 61.3h1M127 62.3h1M131.9 62.3h3.0M144.9 62.3h1M146.8 62.3h1M151.8 62.3h1M123 63.3h1M137.9 63.3h1M146.8 63.3h1M151.8 63.3h1M122 64.3h2.0M137.9 64.3h4.0M149.8 64.3h1M132.9 65.3h1M134.9 65.3h1M151.8 65.3h1M121 66.3h1M123 66.3h1M125 66.3h1M128 66.3h2.0M133.9 66.3h1M136.9 66.3h2.0M123 67.3h1M129.9 67.3h1M141.9 67.3h1M127 68.3h1M131.9 68.3h1M130.9 69.3h1M134.9 69.3h2.0M141.9 69.3h1M151.8 69.3h1M128.9 70.3h1M140.9 70.3h2.0M143.9 70.3h1M146.8 70.3h1M150.8 70.3h1M121 71.3h1M124 71.3h1M134.9 71.3h1M146.8 71.3h3.0M151.8 71.3h1M141.9 72.3h1M123 73.3h1M132.9 73.3h1M134.9 73.3h1M140.9 73.3h3.0M144.9 73.3h2.0M148.8 73.3h2.0M128 74.3h5.0M137.9 74.3h2.0M140.9 74.3h2.0M121 75.3h2.0M134.9 75.3h1M136.9 75.3h2.0M143.9 75.3h1M128 76.3h1M124 77.3h1M128 77.3h1M134.9 77.3h1M142.9 77.3h2.0M124 78.3h1M127 78.3h1M129.9 78.3h1M132.9 78.3h1M134.9 78.3h1M121 79.3h1M125 79.3h1M127 79.3h3.0M131.9 79.3h1M133.9 79.3h3.0M151.8 79.3h1M124 80.3h1M129.9 80.3h1M131.9 80.3h2.0M134.9 80.3h1M139.9 80.3h3.0M143.9 80.3h2.0M128.9 81.3h1M133.9 81.3h1M135.9 81.3h1M139.9 81.3h1M141.9 81.3h1M145.8 81.3h1M127 82.3h2.0M129.9 82.3h1M134.9 82.3h1M140.9 82.3h2.0M147.8 82.3h4.0M127 83.3h1M135.9 83.3h1M121 84.3h2.0M130.9 84.3h1M132.9 84.3h1M134.9 84.3h1M150.8 84.3h1M139.9 85.2h1M126 86.2h1M128.9 86.2h1M134.9 86.2h1M136.9 86.2h1M149.8 86.2h2.0M121 87.2h1M123 87.2h2.0M128 87.2h1M146.8 87.2h1M132.9 88.2h1M137.9 88.2h1M140.9 88.2h2.0M150.8 88.2h1M121 89.2h1M124 89.2h1M133.9 89.2h2.0M121 90.2h1M123 90.2h5.0M128.9 90.2h1M131.9 90.2h1M136.9 90.2h1M128 91.2h1M129.9 91.2h3.0M121 92.2h2.0M124 92.2h1M128.9 92.2h1M136.9 92.2h1M140.9 92.2h1M147.8 92.2h1M126 93.2h1M132.9 93.2h1M136.9 93.2h1M136.9 94.2h1M140.9 94.2h1M121 95.2h1M128.9 95.2h2.0M135.9 95.2h1M138.9 95.2h1M127 96.2h2.0M129.9 96.2h1M141.9 96.2h1M145.8 96.2h2.0M149.8 96.2h3.0M124 97.2h1M138.9 97.2h1M143.9 97.2h1M121 98.2h2.0M125 98.2h1M127 98.2h1M150.8 98.2h2.0M144.9 99.2h1M146.8 99.2h3.0M121 100.2h1M123 100.2h1M148.8 100.2h2.0M123 101.2h1M144.9 101.2h1M147.8 101.2h1M123 102.2h1M128 102.2h1M141.9 102.2h1M143.9 102.2h1M147.8 102.2h1M130.9 103.2h6.0M121 104.2h1M123 104.2h1M142.9 104.2h2.0M145.8 104.2h1M150.8 104.2h1M123 105.2h1M150.8 105.2h2.0M127 106.2h2.0M143.9 106.2h1M145.8 106.2h1M147.8 106.2h1M124 107.2h2.0M128 107.2h1M142.9 107.2h1M148.8 107.2h3.0M128 108.2h1M131.9 108.2h2.0M146.8 108.2h1M135.9 109.2h1M140.9 109.2h1M150.8 109.2h1M135.9 110.2h1M147.8 110.2h1M127 111.2h1M138.9 111.2h1M131.9 112.2h2.0M134.9 112.2h1M145.8 112.2h1M151.8 112.2h1M128 113.2h1M129.9 113.2h2.0M138.9 113.2h1M142.9 113.2h4.0M147.8 113.2h1M150.8 113.2h1M121 114.2h1M129.9 114.2h2.0M132.9 114.2h2.0M140.9 114.2h2.0M150.8 114.2h1M139.9 115.2h1M148.8 115.2h2.0M126 116.2h3.0M142.9 116.2h2.0M147.8 116.2h1M128 117.2h1M132.9 117.2h1M123 118.2h2.0M128.9 118.2h3.0M142.9 118.2h1M146.8 118.2h1M123 119.2h1M126 119.2h1M131.9 119.2h1M141.9 119.2h1M150.8 119.2h1M135.9 120.2h1M121 121.2h1M128 121.2h2.0M132.9 121.2h2.0M135.9 121.2h2.0M139.9 121.2h1M142.9 121.2h4.0M149.8 121.2h1M121 122.2h1M128.9 122.2h1M134.9 122.2h1M149.8 122.2h1M135.9 123.2h1M140.9 123.2h1M145.8 123.2h1M122 124.2h1M128.9 124.2h1M130.9 124.2h1M132.9 124.2h2.0M136.9 124.2h2.0M140.9 124.2h1M124 125.2h2.0M128.9 125.2h1M130.9 125.2h1M136.9 125.2h1M138.9 125.2h1M140.9 125.2h2.0M144.9 125.2h1M149.8 125.2h1M123 126.2h1M127 126.2h2.0M129.9 126.2h1M143.9 126.2h1M122 127.2h1M133.9 127.2h1M141.9 127.2h1M145.8 127.2h1M128.9 128.2h1M121 129.2h1M123 129.2h3.0M128 129.2h3.0M137.9 129.2h3.0M144.9 129.2h2.0M124 130.2h2.0M138.9 130.2h1M149.8 130.2h1M123 131.2h1M126 131.2h1M130.9 131.2h1M141.9 131.2h1M143.9 131.2h1M128.9 132.2h1M138.9 132.2h1M144.9 132.2h1M123 133.2h1M125 133.2h1M127 133.2h4.0M134.9 133.2h1M137.9 133.2h2.0M140.9 133.2h1M123 134.2h1M126 134.2h2.0M131.9 134.2h1M143.9 134.2h1M147.8 134.2h1M121 136.2h1M123 136.2h1M121 137.2h3.0M141.9 137.2h2.0M144.9 137.2h1M134.9 138.2h4.0M144.9 138.2h1M148.8 138.2h1M138.9 139.2h2.0M148.8 139.2h1M150.8 139.2h2.0M121 140.2h1M129.9 140.2h2.0M132.9 140.2h1M135.9 140.2h1M137.9 140.2h1M131.9 141.2h1M134.9 141.2h1M147.8 141.2h1M121 142.1h3.0M128 142.1h1M129.9 142.1h1M142.9 142.1h1M144.9 142.1h1M147.8 142.1h4.0M121 143.1h1M150.8 143.1h1M122 146.1h1M147.8 146.1h1M138.9 147.1h1M143.9 147.1h1M151.8 147.1h1M128.9 148.1h1M130.9 148.1h1M151.8 148.1h1M129.9 149.1h2.0M128.9 150.1h2.0M135.9 150.1h2.0M140.9 150.1h2.0M144.9 150.1h1M149.8 150.1h2.0M121 151.1h2.0M144.9 151.1h1M123 152.1h1M125 152.1h1M127 152.1h2.0M136.9 152.1h1M138.9 152.1h1M141.9 152.1h1M144.9 152.1h1M148.8 152.1h1M124 153.1h2.0M149.8 153.1h3.0M123 154.1h2.0M126 154.1h2.0M143.9 154.1h1M124 156.1h2.0M135.9 156.1h1M139.9 156.1h2.0M144.9 156.1h1M122 157.1h1M128 157.1h2.0M131.9 157.1h1M140.9 157.1h1M146.8 157.1h1M149.8 157.1h1M124 158.1h1M132.9 158.1h1M143.9 158.1h1M149.8 158.1h1M151.8 158.1h1M128.9 159.1h1M131.9 159.1h1M135.9 159.1h1M150.8 159.1h1M121 160.1h3.0M126 160.1h2.0M144.9 160.1h1M137.9 161.1h1M139.9 161.1h2.0M142.9 161.1h1M124 162.1h3.0M128 162.1h2.0M130.9 162.1h1M136.9 162.1h1M141.9 162.1h3.0M146.8 162.1h1M140.9 163.1h1M144.9 163.1h2.0M151.8 163.1h1M121 164.1h1M133.9 164.1h1M144.9 164.1h1M146.8 164.1h2.0M149.8 164.1h1M123 165.1h2.0M128 165.1h1M142.9 165.1h3.0M149.8 165.1h1M126 166.1h1M145.8 166.1h1M124 167.1h2.0M131.9 167.1h2.0M136.9 167.1h1M140.9 167.1h1M145.8 167.1h1M123 168.1h1M126 168.1h4.0M130.9 168.1h2.0M143.9 168.1h1M146.8 168.1h1M125 169.1h1M128.9 169.1h1M137.9 169.1h1M147.8 169.1h1M150.8 169.1h2.0M125 171.1h2.0M128 171.1h1M129.9 171.1h2.0M140.9 171.1h1M142.9 171.1h1M145.8 171.1h1M149.8 171.1h1M137.9 172.1h1M141.9 172.1h3.0M122 173.1h7.0M146.8 174.1h1M121 175.1h1M124 175.1h1M128 175.1h1M129.9 175.1h2.0M140.9 175.1h1M145.8 175.1h2.0M148.8 175.1h1M124 176.1h3.0M136.9 176.1h3.0M140.9 176.1h1M146.8 176.1h1M150.8 176.1h2.0M122 177.1h1M124 177.1h1M126 177.1h1M121 178.1h3.0M137.9 178.1h1M122 179.1h3.0M129.9 179.1h2.0M135.9 179.1h1M141.9 179.1h2.0M122 180.1h2.0M126 180.1h1M146.8 180.1h1M132.9 181.1h1M135.9 181.1h1M122 182.1h2.0M128 182.1h2.0M131.9 182.1h1M135.9 182.1h1M149.8 182.1h1M151.8 182.1h1M127 183.1h2.0M136.9 183.1h1M141.9 183.1h1M143.9 183.1h2.0M146.8 183.1h1M148.8 183.1h1M141.9 184.1h2.0M144.9 184.1h1M147.8 184.1h2.0M133.9 185.1h1M137.9 185.1h1M141.9 185.1h1M143.9 185.1h1M145.8 185.1h1M147.8 185.1h2.0M121 186.1h1M125 189.1h1M127 189.1h1M133.9 189.1h1M150.8 189.1h1M124 190.1h1M128 190.1h2.0M140.9 190.1h1M122 191.1h1M124 191.1h1M128 191.1h2.0M131.9 191.1h1M134.9 191.1h2.0M139.9 191.1h1M124 192.1h1M130.9 192.1h1M151.8 192.1h1M126 193.1h1M132.9 193.1h2.0M135.9 193.1h1M140.9 193.1h2.0M149.8 193.1h1M151.8 194.1h1M130.9 195.1h1M138.9 195.1h1M144.9 195.1h1M150.8 195.1h2.0M124 196.1h1M128 196.1h1M138.9 196.1h3.0M144.9 196.1h1M133.9 197.1h1M122 198.1h1M126 198.1h1M131.9 198.1h2.0M136.9 198.1h3.0M140.9 198.1h1M144.9 198.1h4.0M149.8 198.1h1M126 199h1M129.9 199h1M131.9 199h1M135.9 199h2.0M122 200h1M144.9 201h1M127 202h1M137.9 202h2.0M125 203h1M139.9 203h1M141.9 203h3.0M146.8 203h1M148.8 203h1M131.9 204h1M136.9 204h1M139.9 204h1M147.8 204h1M139.9 206h1M121 207h3.0M126 207h1M131.9 207h3.0M135.9 207h1M139.9 207h2.0M142.9 207h1M144.9 207h1M125 208h1M127 208h1M136.9 208h3.0M140.9 208h1M144.9 208h1M150.8 208h1M122 209h1M125 210h1M129.9 210h2.0M123 211h2.0M127 211h1M135.9 211h1M137.9 211h1M144.9 211h1M146.8 211h1M148.8 211h1M126 212h1M133.9 212h1M145.8 212h1M122 213h1M124 213h1M130.9 213h1M133.9 213h4.0M142.9 213h1M146.8 213h2.0M149.8 213h1M121 214h1M123 214h1M127 214h2.0M134.9 214h2.0M141.9 214h3.0M122 215h2.0M129.9 215h1M150.8 215h2.0M132.9 216h2.0M135.9 216h1M137.9 216h1M139.9 216h1M141.9 216h3.0M124 217h2.0M127 217h1M131.9 217h1M138.9 217h1M140.9 217h1M145.8 217h1M149.8 217h2.0M121 218h1M127 218h2.0M133.9 218h1M144.9 218h1M146.8 218h1M148.8 218h2.0M137.9 219h2.0M142.9 219h1M121 220h1M124 220h3.0M129.9 220h1M124 221h1M147.8 221h2.0M137.9 222h2.0M142.9 223h1M123 224h2.0M127 224h1M142.9 224h2.0M124 225h2.0M128 225h2.0M130.9 225h1M138.9 225h1M148.8 225h2.0M151.8 225h1M136.9 226h1M138.9 226h1M140.9 226h1M145.8 226h1M150.8 226h2.0"/>
<path stroke="#801616" stroke-opacity="0.67" stroke-width="0.998" fill="none" d="M129.9 57.3h2.0M141.9 57.3h1M141.9 58.3h1M128.9 59.3h3.0M134.9 59.3h3.0M122 60.3h2.0M130.9 60.3h1M132.9 60.3h2.0M142.9 60.3h1M149.8 60.3h1M122 61.3h3.0M128.9 61.3h1M146.8 61.3h1M150.8 61.3h2.0M125 62.3h2.0M135.9 62.3h1M128.9 63.3h1M130.9 63.3h1M135.9 63.3h1M139.9 63.3h2.0M142.9 63.3h1M145.8 63.3h1M147.8 63.3h3.0M124 64.3h1M128 64.3h1M146.8 64.3h3.0M128.9 65.3h1M135.9 65.3h1M141.9 65.3h1M145.8 65.3h1M150.8 65.3h1M139.9 66.3h1M149.8 66.3h1M124 67.3h1M128.9 67.3h1M130.9 67.3h1M140.9 67.3h1M144.9 67.3h4.0M149.8 67.3h2.0M123 69.3h1M128 69.3h1M140.9 69.3h1M147.8 69.3h1M150.8 69.3h1M121 70.3h1M128 70.3h1M129.9 70.3h3.0M144.9 70.3h1M147.8 70.3h3.0M122 71.3h1M131.9 71.3h3.0M142.9 71.3h4.0M149.8 71.3h1M122 72.3h1M127 72.3h1M142.9 72.3h4.0M125 73.3h1M127 73.3h1M143.9 73.3h1M124 74.3h1M132.9 74.3h1M135.9 74.3h2.0M133.9 75.3h1M138.9 75.3h1M140.9 75.3h3.0M150.8 75.3h1M124 76.3h1M149.8 76.3h3.0M133.9 77.3h1M144.9 77.3h2.0M147.8 77.3h3.0M121 78.3h1M130.9 78.3h2.0M133.9 78.3h1M138.9 78.3h1M145.8 78.3h1M122 79.3h2.0M126 79.3h1M130.9 79.3h1M132.9 79.3h1M149.8 79.3h2.0M123 80.3h1M130.9 80.3h1M135.9 80.3h2.0M142.9 80.3h1M145.8 80.3h1M122 81.3h2.0M125 81.3h1M127 81.3h2.0M137.9 81.3h2.0M140.9 81.3h1M146.8 81.3h4.0M125 82.3h2.0M135.9 82.3h1M151.8 82.3h1M121 83.3h1M126 83.3h1M131.9 83.3h1M133.9 83.3h2.0M144.9 83.3h1M127 84.3h3.0M135.9 84.3h2.0M145.8 84.3h1M121 85.2h1M136.9 85.2h1M141.9 85.2h1M123 86.2h1M127 86.2h1M129.9 86.2h3.0M139.9 86.2h1M142.9 86.2h4.0M127 87.2h1M128.9 87.2h1M132.9 87.2h1M136.9 87.2h3.0M145.8 87.2h1M124 88.2h1M127 88.2h3.0M131.9 88.2h1M134.9 88.2h3.0M144.9 88.2h1M122 89.2h2.0M125 89.2h1M127 89.2h2.0M141.9 89.2h1M122 90.2h1M128 90.2h1M132.9 90.2h2.0M139.9 90.2h1M147.8 90.2h1M121 91.2h2.0M133.9 91.2h2.0M139.9 91.2h1M149.8 91.2h2.0M125 92.2h1M129.9 92.2h2.0M146.8 92.2h1M148.8 92.2h3.0M125 93.2h1M127 93.2h1M139.9 93.2h1M145.8 93.2h1M124 94.2h1M127 94.2h1M133.9 94.2h1M139.9 94.2h1M131.9 95.2h1M139.9 95.2h1M121 96.2h2.0M124 96.2h2.0M135.9 96.2h1M127 97.2h5.0M135.9 97.2h3.0M142.9 97.2h1M144.9 97.2h1M150.8 97.2h2.0M123 98.2h2.0M128 98.2h1M149.8 98.2h1M123 99.2h1M128 99.2h1M139.9 99.2h3.0M145.8 99.2h1M150.8 99.2h1M127 100.2h1M134.9 100.2h1M146.8 100.2h1M150.8 100.2h2.0M148.8 101.2h1M138.9 102.2h1M140.9 102.2h1M148.8 102.2h1M121 103.2h3.0M137.9 103.2h1M127 104.2h1M149.8 104.2h1M151.8 104.2h1M149.8 105.2h1M132.9 106.2h1M135.9 106.2h1M138.9 106.2h1M142.9 106.2h1M146.8 106.2h1M149.8 106.2h1M130.9 107.2h1M136.9 107.2h1M145.8 107.2h1M147.8 107.2h1M136.9 108.2h2.0M145.8 108.2h1M147.8 108.2h1M149.8 108.2h1M139.9 109.2h1M151.8 109.2h1M123 110.2h2.0M128 110.2h1M145.8 110.2h2.0M148.8 110.2h1M137.9 111.2h1M140.9 111.2h1M136.9 112.2h1M150.8 112.2h1M128.9 113.2h1M131.9 113.2h5.0M122 114.2h1M134.9 114.2h2.0M138.9 114.2h1M147.8 114.2h3.0M128.9 115.2h1M136.9 115.2h3.0M140.9 115.2h1M144.9 115.2h1M147.8 115.2h1M121 116.2h1M124 116.2h2.0M128.9 116.2h1M131.9 116.2h1M140.9 116.2h2.0M144.9 116.2h2.0M148.8 116.2h1M134.9 117.2h3.0M141.9 117.2h2.0M141.9 118.2h1M143.9 118.2h1M149.8 119.2h1M136.9 120.2h1M138.9 120.2h3.0M142.9 120.2h2.0M151.8 120.2h1M122 121.2h1M134.9 121.2h1M140.9 121.2h2.0M124 122.2h1M128 122.2h1M133.9 122.2h1M146.8 122.2h1M150.8 122.2h1M128.9 123.2h3.0M132.9 123.2h3.0M149.8 123.2h1M121 124.2h1M129.9 124.2h1M131.9 124.2h1M135.9 124.2h1M141.9 124.2h1M143.9 124.2h1M123 125.2h1M126 125.2h1M128 125.2h1M129.9 125.2h1M133.9 125.2h1M137.9 125.2h1M142.9 126.2h1M144.9 126.2h1M135.9 127.2h1M130.9 128.2h2.0M122 129.2h1M126 129.2h1M130.9 129.2h1M121 130.2h3.0M126 130.2h2.0M124 131.2h2.0M127 131.2h2.0M129.9 131.2h1M134.9 132.2h3.0M122 133.2h1M124 133.2h1M126 133.2h1M130.9 133.2h1M133.9 133.2h1M139.9 133.2h1M128 134.2h1M129.9 134.2h2.0M136.9 134.2h1M142.9 134.2h1M143.9 137.2h1M125 138.2h1M138.9 138.2h4.0M149.8 138.2h3.0M137.9 139.2h1M147.8 139.2h1M133.9 140.2h2.0M126 141.2h2.0M146.8 141.2h1M130.9 142.1h1M151.8 142.1h1M123 146.1h4.0M137.9 147.1h1M129.9 148.1h1M130.9 150.1h1M137.9 150.1h3.0M121 152.1h1M126 152.1h1M149.8 152.1h2.0M136.9 156.1h3.0M141.9 156.1h2.0M123 157.1h3.0M127 157.1h1M129.9 157.1h1M137.9 157.1h1M139.9 157.1h1M144.9 158.1h4.0M150.8 158.1h1M151.8 159.1h1M137.9 160.1h1M139.9 160.1h2.0M138.9 161.1h1M132.9 162.1h1M134.9 162.1h2.0M138.9 162.1h3.0M144.9 162.1h2.0M139.9 163.1h1M143.9 163.1h1M149.8 163.1h2.0M127 165.1h1M132.9 165.1h1M134.9 165.1h2.0M140.9 165.1h1M145.8 165.1h4.0M121 166.1h3.0M146.8 166.1h1M126 167.1h3.0M134.9 167.1h2.0M141.9 167.1h1M132.9 168.1h4.0M144.9 168.1h2.0M126 169.1h3.0M131.9 169.1h1M148.8 169.1h1M121 171.1h2.0M124 171.1h1M127 171.1h1M139.9 171.1h1M138.9 172.1h3.0M144.9 172.1h1M147.8 172.1h1M149.8 172.1h1M121 173.1h1M122 175.1h2.0M125 175.1h3.0M131.9 175.1h1M142.9 175.1h3.0M147.8 175.1h1M127 176.1h1M128.9 176.1h1M130.9 176.1h1M147.8 176.1h3.0M123 177.1h1M125 177.1h1M126 179.1h2.0M128.9 179.1h1M136.9 179.1h1M138.9 179.1h3.0M121 180.1h1M123 181.1h1M134.9 181.1h1M126 182.1h2.0M132.9 182.1h3.0M133.9 183.1h1M135.9 183.1h1M128.9 184.1h2.0M143.9 184.1h1M145.8 184.1h2.0M142.9 185.1h1M146.8 185.1h1M124 189.1h1M146.8 189.1h1M123 190.1h1M125 190.1h2.0M129.9 190.1h3.0M123 191.1h1M137.9 191.1h1M151.8 191.1h1M126 192.1h1M128.9 192.1h1M144.9 192.1h3.0M150.8 192.1h1M124 193.1h2.0M134.9 193.1h1M136.9 193.1h1M145.8 193.1h3.0M141.9 195.1h1M125 196.1h2.0M141.9 196.1h1M128 198.1h1M139.9 198.1h1M148.8 198.1h1M127 199h1M130.9 199h1M134.9 199h1M150.8 200h2.0M136.9 201h2.0M143.9 201h1M125 202h2.0M137.9 203h2.0M140.9 203h1M144.9 203h2.0M147.8 203h1M124 207h2.0M136.9 207h1M141.9 207h1M121 208h1M126 208h1M142.9 208h2.0M151.8 208h1M124 210h1M136.9 210h2.0M139.9 210h1M150.8 210h2.0M125 211h1M136.9 211h1M138.9 211h1M140.9 211h2.0M143.9 211h1M145.8 211h1M147.8 211h1M147.8 212h1M121 213h1M128.9 213h2.0M131.9 213h2.0M144.9 213h1M122 214h1M128.9 214h1M131.9 214h3.0M144.9 214h1M130.9 215h6.0M151.8 216h1M132.9 217h1M135.9 217h3.0M141.9 217h2.0M144.9 217h1M147.8 217h2.0M145.8 218h1M147.8 218h1M125 221h2.0M143.9 223h1M121 225h1M127 225h1M129.9 225h1M146.8 225h2.0M139.9 226h1M147.8 226h1M149.8 226h1"/>
<path stroke="#801616" stroke-opacity="0.83" stroke-width="0.998" fill="none" d="M122 57.3h1M127 58.3h2.0M138.9 58.3h2.0M141.9 59.3h1M128.9 60.3h2.0M135.9 60.3h1M141.9 60.3h1M143.9 60.3h3.0M147.8 60.3h2.0M129.9 61.3h1M132.9 61.3h3.0M137.9 61.3h4.0M145.8 61.3h1M148.8 61.3h1M124 62.3h1M134.9 62.3h1M136.9 62.3h1M145.8 62.3h1M128 63.3h1M129.9 63.3h1M132.9 63.3h3.0M141.9 63.3h1M143.9 63.3h2.0M126 64.3h2.0M128.9 64.3h1M131.9 64.3h3.0M136.9 64.3h1M141.9 64.3h5.0M127 65.3h2.0M129.9 65.3h3.0M136.9 65.3h1M140.9 65.3h1M124 66.3h1M140.9 66.3h1M148.8 66.3h1M131.9 67.3h1M133.9 67.3h2.0M139.9 67.3h1M148.8 67.3h1M151.8 67.3h1M123 68.3h1M125 68.3h2.0M134.9 68.3h2.0M128.9 69.3h2.0M146.8 69.3h1M148.8 69.3h2.0M123 70.3h2.0M127 70.3h1M132.9 70.3h1M134.9 70.3h3.0M123 71.3h1M125 71.3h1M130.9 71.3h1M121 72.3h1M123 72.3h1M126 72.3h1M128 72.3h4.0M147.8 72.3h4.0M126 73.3h1M128 73.3h1M130.9 73.3h1M150.8 73.3h1M125 74.3h1M127 74.3h1M134.9 74.3h1M139.9 75.3h1M151.8 75.3h1M122 76.3h2.0M126 76.3h2.0M142.9 76.3h4.0M121 77.3h3.0M128.9 77.3h3.0M132.9 77.3h1M146.8 77.3h1M144.9 78.3h1M150.8 78.3h2.0M129.9 79.3h1M136.9 79.3h1M143.9 79.3h1M145.8 79.3h1M147.8 79.3h1M121 81.3h1M124 81.3h1M126 81.3h1M136.9 81.3h1M136.9 82.3h2.0M139.9 82.3h1M122 83.3h2.0M125 83.3h1M128 83.3h1M132.9 83.3h1M123 84.3h1M137.9 84.3h2.0M140.9 84.3h3.0M144.9 84.3h1M151.8 84.3h1M122 85.2h1M124 85.2h1M127 85.2h1M135.9 85.2h1M138.9 85.2h1M140.9 85.2h1M142.9 85.2h2.0M151.8 85.2h1M128 86.2h1M137.9 86.2h2.0M140.9 86.2h2.0M146.8 86.2h1M148.8 86.2h1M125 87.2h2.0M133.9 87.2h1M139.9 87.2h2.0M147.8 87.2h3.0M125 88.2h1M145.8 88.2h5.0M126 89.2h1M130.9 89.2h3.0M135.9 89.2h1M140.9 89.2h1M134.9 90.2h2.0M140.9 90.2h1M146.8 90.2h1M148.8 90.2h1M123 91.2h1M127 91.2h1M132.9 91.2h1M135.9 91.2h2.0M140.9 91.2h1M126 92.2h1M135.9 92.2h1M141.9 92.2h1M145.8 92.2h1M124 93.2h1M128 93.2h1M131.9 93.2h1M137.9 93.2h2.0M140.9 93.2h1M146.8 93.2h1M123 94.2h1M130.9 94.2h1M132.9 94.2h1M141.9 94.2h1M144.9 94.2h1M148.8 94.2h2.0M122 95.2h1M126 95.2h1M132.9 95.2h3.0M149.8 95.2h1M123 96.2h1M126 96.2h1M128.9 96.2h1M130.9 96.2h4.0M142.9 96.2h1M144.9 96.2h1M123 97.2h1M131.9 97.2h1M133.9 97.2h2.0M139.9 97.2h3.0M129.9 98.2h1M132.9 98.2h1M146.8 98.2h2.0M136.9 99.2h3.0M142.9 99.2h2.0M151.8 99.2h1M122 100.2h1M128 100.2h1M132.9 100.2h2.0M136.9 100.2h1M139.9 100.2h1M132.9 101.2h3.0M136.9 101.2h1M139.9 101.2h1M143.9 101.2h1M149.8 101.2h1M137.9 102.2h1M139.9 102.2h1M128 103.2h2.0M136.9 103.2h1M138.9 103.2h1M142.9 103.2h1M148.8 103.2h2.0M124 105.2h1M126 105.2h1M140.9 105.2h1M133.9 106.2h2.0M136.9 106.2h1M139.9 106.2h2.0M131.9 107.2h1M135.9 107.2h1M143.9 107.2h2.0M146.8 107.2h1M127 108.2h1M133.9 108.2h3.0M138.9 108.2h1M144.9 108.2h1M148.8 108.2h1M124 109.2h3.0M136.9 109.2h2.0M128.9 110.2h4.0M136.9 110.2h1M149.8 110.2h2.0M126 111.2h1M141.9 111.2h1M151.8 111.2h1M121 112.2h1M135.9 112.2h1M142.9 112.2h1M136.9 114.2h2.0M139.9 114.2h1M121 115.2h1M126 115.2h3.0M129.9 115.2h2.0M132.9 115.2h2.0M135.9 115.2h1M145.8 115.2h2.0M151.8 115.2h1M122 116.2h1M130.9 116.2h1M132.9 116.2h4.0M137.9 116.2h3.0M146.8 116.2h1M151.8 116.2h1M123 117.2h1M128.9 117.2h1M130.9 117.2h2.0M133.9 117.2h1M137.9 117.2h4.0M143.9 117.2h1M147.8 117.2h3.0M138.9 118.2h1M144.9 118.2h1M122 119.2h1M127 119.2h1M142.9 119.2h1M148.8 119.2h1M123 120.2h1M134.9 120.2h1M137.9 120.2h1M145.8 120.2h1M147.8 120.2h1M150.8 120.2h1M123 121.2h1M127 121.2h1M150.8 121.2h1M135.9 122.2h1M145.8 122.2h1M151.8 122.2h1M131.9 123.2h1M141.9 123.2h1M150.8 123.2h1M134.9 124.2h1M142.9 124.2h1M151.8 124.2h1M127 125.2h1M142.9 125.2h2.0M134.9 127.2h1M129.9 128.2h1M146.8 130.2h1M148.8 130.2h1M128.9 131.2h1M128.9 134.2h1M137.9 134.2h5.0M122 138.2h3.0M126 138.2h1M134.9 139.2h3.0M128 141.2h2.0M130.9 141.2h1M122 147.1h1M151.8 152.1h1M143.9 156.1h1M126 157.1h1M130.9 157.1h1M138.9 157.1h1M148.8 157.1h1M133.9 158.1h1M135.9 158.1h1M148.8 158.1h1M141.9 160.1h3.0M131.9 162.1h1M137.9 162.1h1M141.9 163.1h2.0M122 164.1h2.0M150.8 164.1h2.0M125 165.1h2.0M133.9 165.1h1M136.9 165.1h1M150.8 165.1h2.0M128.9 167.1h3.0M133.9 167.1h1M143.9 167.1h2.0M129.9 169.1h2.0M149.8 169.1h1M145.8 172.1h2.0M128.9 175.1h1M128 176.1h1M129.9 176.1h1M121 177.1h1M121 179.1h1M125 179.1h1M128 179.1h1M137.9 179.1h1M122 181.1h1M133.9 181.1h1M124 182.1h2.0M131.9 183.1h2.0M134.9 183.1h1M142.9 183.1h1M147.8 183.1h1M121 189.1h3.0M148.8 189.1h2.0M122 190.1h1M139.9 190.1h1M138.9 191.1h1M125 192.1h1M127 192.1h2.0M129.9 192.1h1M149.8 192.1h1M148.8 193.1h1M150.8 193.1h1M142.9 196.1h2.0M121 198.1h1M123 198.1h1M125 198.1h1M127 198.1h1M137.9 199h2.0M138.9 201h5.0M138.9 210h1M126 211h1M139.9 211h1M142.9 211h1M146.8 212h1M145.8 213h1M130.9 214h1M136.9 216h1M134.9 217h1M143.9 217h1M122 225h2.0M146.8 226h1M148.8 226h1"/>
<path stroke="#801616" stroke-opacity="1.00" stroke-width="0.998" fill="none" d="M121 57.3h1M142.9 57.3h2.0M121 58.3h6.0M128.9 58.3h9.9M142.9 59.3h3.0M124 60.3h5.0M131.9 60.3h1M136.9 60.3h5.0M146.8 60.3h1M125 61.3h4.0M130.9 61.3h2.0M135.9 61.3h2.0M141.9 61.3h4.0M149.8 61.3h1M124 63.3h4.0M131.9 63.3h1M125 64.3h1M129.9 64.3h2.0M134.9 64.3h2.0M121 65.3h6.0M137.9 65.3h3.0M146.8 65.3h4.0M141.9 66.3h7.0M125 67.3h4.0M132.9 67.3h1M135.9 67.3h4.0M121 68.3h2.0M124 68.3h1M132.9 68.3h2.0M136.9 68.3h15.9M124 69.3h4.0M142.9 69.3h4.0M122 70.3h1M125 70.3h2.0M133.9 70.3h1M126 71.3h5.0M124 72.3h2.0M151.8 72.3h1M128.9 73.3h2.0M131.9 73.3h1M151.8 73.3h1M126 74.3h1M133.9 74.3h1M121 76.3h1M125 76.3h1M137.9 76.3h5.0M146.8 76.3h3.0M131.9 77.3h1M146.8 78.3h4.0M137.9 79.3h6.0M144.9 79.3h1M146.8 79.3h1M148.8 79.3h1M121 80.3h2.0M121 82.3h4.0M138.9 82.3h1M124 83.3h1M128.9 83.3h3.0M145.8 83.3h5.0M124 84.3h3.0M139.9 84.3h1M143.9 84.3h1M123 85.2h1M125 85.2h2.0M128 85.2h8.0M137.9 85.2h1M144.9 85.2h7.0M121 86.2h2.0M147.8 86.2h1M134.9 87.2h2.0M141.9 87.2h4.0M126 88.2h1M129.9 88.2h2.0M129.9 89.2h1M136.9 89.2h4.0M142.9 89.2h9.9M141.9 90.2h5.0M149.8 90.2h3.0M124 91.2h3.0M137.9 91.2h2.0M141.9 91.2h8.0M131.9 92.2h4.0M142.9 92.2h3.0M121 93.2h3.0M128.9 93.2h3.0M147.8 93.2h5.0M121 94.2h2.0M128 94.2h3.0M131.9 94.2h1M142.9 94.2h2.0M145.8 94.2h3.0M150.8 94.2h2.0M123 95.2h3.0M127 95.2h2.0M140.9 95.2h8.9M150.8 95.2h2.0M134.9 96.2h1M143.9 96.2h1M121 97.2h2.0M132.9 97.2h1M145.8 97.2h5.0M128.9 98.2h1M130.9 98.2h2.0M133.9 98.2h12.9M148.8 98.2h1M121 99.2h2.0M128.9 99.2h8.0M128.9 100.2h4.0M135.9 100.2h1M137.9 100.2h2.0M140.9 100.2h6.0M124 101.2h8.9M135.9 101.2h1M137.9 101.2h2.0M140.9 101.2h3.0M150.8 101.2h2.0M121 102.2h2.0M128.9 102.2h8.9M149.8 102.2h3.0M124 103.2h4.0M139.9 103.2h3.0M143.9 103.2h5.0M125 105.2h1M127 105.2h13.9M141.9 105.2h8.0M137.9 106.2h1M141.9 106.2h1M150.8 106.2h2.0M128.9 107.2h2.0M132.9 107.2h3.0M121 108.2h6.0M139.9 108.2h5.0M121 109.2h3.0M138.9 109.2h1M121 110.2h2.0M137.9 110.2h8.0M151.8 110.2h1M121 111.2h5.0M142.9 111.2h8.9M122 112.2h9.9M137.9 112.2h5.0M143.9 112.2h2.0M122 115.2h4.0M131.9 115.2h1M134.9 115.2h1M141.9 115.2h3.0M150.8 115.2h1M123 116.2h1M129.9 116.2h1M136.9 116.2h1M149.8 116.2h2.0M121 117.2h2.0M129.9 117.2h1M144.9 117.2h3.0M150.8 117.2h2.0M121 118.2h2.0M131.9 118.2h7.0M139.9 118.2h2.0M145.8 118.2h1M121 119.2h1M128 119.2h4.0M143.9 119.2h5.0M124 120.2h10.9M141.9 120.2h1M144.9 120.2h1M146.8 120.2h1M148.8 120.2h2.0M124 121.2h3.0M151.8 121.2h1M122 122.2h2.0M125 122.2h3.0M136.9 122.2h8.9M142.9 123.2h3.0M151.8 123.2h1M141.9 126.2h1M121 127.2h1M147.8 130.2h1M121 133.2h1M121 138.2h1M129.9 141.2h1M121 147.1h1M147.8 157.1h1M134.9 158.1h1M138.9 160.1h1M137.9 165.1h3.0M142.9 167.1h1M121 181.1h1M147.8 189.1h1M121 190.1h1M147.8 192.1h2.0M151.8 193.1h1M124 198.1h1M129.9 214h1M133.9 217h1M126 225h1"/>
</g></g>
<clipPath id="clipA3"><rect x="161.20" y="56.80" width="31.80" height="169.70"/></clipPath>
<rect x="161.20" y="56.80" width="31.80" height="169.70" fill="#fff"/>
<g clip-path="url(#clipA3)"><g filter="url(#soft)">
<path stroke="#4a2a98" stroke-opacity="0.17" stroke-width="0.998" fill="none" d="M190 57.3h1M170.1 58.3h1M167.2 59.3h1M169.1 59.3h1M192 59.3h1M178.1 60.3h2.0M183.1 60.3h2.0M187 60.3h1M189 60.3h2.0M162.2 62.3h2.0M166.2 62.3h1M168.2 62.3h1M165.2 63.3h3.0M178.1 63.3h1M180.1 63.3h1M172.1 65.3h1M189 66.3h2.0M192 66.3h1M172.1 67.3h1M177.1 68.3h1M181.1 68.3h1M183.1 68.3h1M186 68.3h2.0M189 68.3h1M191 68.3h2.0M171.1 69.3h1M175.1 69.3h1M171.1 70.3h1M175.1 70.3h3.0M165.2 71.3h2.0M189 72.3h2.0M192 73.3h1M179.1 74.3h1M184.1 74.3h1M181.1 75.3h1M167.2 76.3h1M182.1 76.3h1M185.1 76.3h1M165.2 78.3h1M169.1 78.3h1M162.2 79.3h1M168.2 79.3h2.0M165.2 81.3h1M167.2 81.3h1M173.1 82.3h2.0M165.2 83.3h3.0M188 83.3h1M191 83.3h2.0M180.1 84.3h1M166.2 85.2h1M172.1 85.2h1M180.1 85.2h2.0M186 85.2h1M172.1 87.2h4.0M188 87.2h1M192 87.2h1M182.1 89.2h1M187 89.2h1M179.1 91.2h1M182.1 91.2h2.0M173.1 92.2h5.0M163.2 93.2h1M174.1 93.2h1M173.1 94.2h2.0M176.1 94.2h1M179.1 95.2h1M165.2 96.2h2.0M170.1 96.2h1M179.1 96.2h1M191 96.2h1M164.2 97.2h3.0M168.2 97.2h1M170.1 97.2h1M179.1 97.2h2.0M190 99.2h1M161.2 101.2h1M174.1 101.2h2.0M184.1 101.2h2.0M190 101.2h1M192 101.2h1M187 102.2h1M174.1 103.2h1M180.1 103.2h2.0M186 103.2h1M190 103.2h1M173.1 104.2h1M175.1 104.2h2.0M188 104.2h1M191 104.2h2.0M163.2 105.2h1M169.1 105.2h2.0M165.2 106.2h1M168.2 106.2h1M176.1 106.2h4.0M181.1 106.2h1M167.2 107.2h1M192 107.2h1M163.2 108.2h2.0M181.1 109.2h1M190 109.2h1M174.1 110.2h1M162.2 111.2h1M172.1 111.2h2.0M181.1 111.2h2.0M188 111.2h1M166.2 113.2h1M180.1 113.2h2.0M190 113.2h1M165.2 114.2h1M168.2 114.2h4.0M173.1 114.2h1M175.1 114.2h2.0M164.2 115.2h2.0M167.2 115.2h2.0M162.2 116.2h1M173.1 119.2h1M171.1 120.2h1M173.1 120.2h1M177.1 120.2h1M181.1 120.2h1M191 120.2h2.0M174.1 121.2h1M177.1 121.2h1M169.1 122.2h1M180.1 122.2h2.0M187 122.2h1M189 122.2h1M167.2 124.2h1M166.2 125.2h2.0M177.1 125.2h1M181.1 125.2h7.0M166.2 126.2h1M169.1 126.2h1M171.1 126.2h1M175.1 126.2h1M183.1 126.2h1M185.1 126.2h1M188 126.2h3.0M192 126.2h1M163.2 127.2h1M172.1 127.2h1M175.1 127.2h1M177.1 127.2h3.0M182.1 127.2h1M187 127.2h2.0M162.2 128.2h1M177.1 128.2h1M179.1 128.2h2.0M182.1 128.2h1M188 128.2h5.0M165.2 129.2h4.0M170.1 129.2h1M173.1 129.2h3.0M184.1 129.2h3.0M162.2 130.2h3.0M176.1 130.2h2.0M180.1 130.2h2.0M188 130.2h1M161.2 131.2h1M169.1 131.2h1M188 131.2h1M162.2 132.2h1M178.1 132.2h1M187 132.2h1M161.2 133.2h3.0M165.2 133.2h1M171.1 133.2h1M173.1 133.2h2.0M176.1 133.2h1M180.1 133.2h1M182.1 133.2h1M188 133.2h1M166.2 134.2h2.0M171.1 134.2h1M174.1 134.2h1M184.1 134.2h1M164.2 135.2h1M172.1 135.2h3.0M163.2 136.2h1M165.2 136.2h2.0M169.1 136.2h1M182.1 136.2h1M185.1 136.2h1M188 136.2h2.0M192 136.2h1M170.1 137.2h1M176.1 137.2h3.0M180.1 137.2h1M184.1 137.2h1M165.2 138.2h1M170.1 138.2h1M172.1 138.2h2.0M177.1 138.2h1M182.1 138.2h1M187 138.2h1M169.1 139.2h1M173.1 139.2h3.0M189 139.2h1M161.2 140.2h4.0M170.1 140.2h1M175.1 140.2h2.0M184.1 140.2h1M187 140.2h2.0M190 140.2h3.0M165.2 141.2h4.0M171.1 141.2h3.0M184.1 141.2h2.0M187 141.2h4.0M164.2 142.1h2.0M170.1 142.1h1M181.1 142.1h4.0M169.1 143.1h2.0M178.1 143.1h2.0M181.1 143.1h2.0M190 143.1h1M162.2 144.1h1M184.1 144.1h2.0M188 144.1h2.0M172.1 145.1h3.0M176.1 145.1h1M182.1 145.1h1M188 145.1h2.0M191 145.1h1M162.2 146.1h2.0M165.2 146.1h2.0M168.2 146.1h1M170.1 146.1h1M172.1 146.1h3.0M182.1 146.1h1M190 146.1h3.0M172.1 147.1h2.0M189 147.1h1M161.2 148.1h1M189 148.1h2.0M166.2 149.1h3.0M170.1 149.1h4.0M176.1 149.1h1M180.1 149.1h5.0M186 149.1h2.0M162.2 150.1h2.0M165.2 150.1h4.0M180.1 150.1h1M182.1 150.1h1M166.2 151.1h1M169.1 151.1h1M172.1 151.1h2.0M175.1 151.1h1M188 151.1h2.0M192 151.1h1M163.2 152.1h1M167.2 152.1h2.0M180.1 152.1h1M182.1 152.1h3.0M190 152.1h3.0M164.2 153.1h1M166.2 153.1h1M170.1 153.1h2.0M177.1 153.1h2.0M192 153.1h1M163.2 154.1h1M169.1 154.1h2.0M172.1 154.1h1M176.1 154.1h2.0M188 154.1h1M162.2 155.1h2.0M174.1 155.1h2.0M184.1 155.1h1M186 155.1h2.0M189 155.1h4.0M161.2 156.1h2.0M164.2 156.1h4.0M174.1 156.1h4.0M184.1 156.1h1M179.1 157.1h5.0M187 157.1h1M161.2 158.1h1M171.1 158.1h1M173.1 158.1h3.0M185.1 158.1h3.0M189 158.1h3.0M164.2 159.1h1M166.2 159.1h1M170.1 159.1h1M175.1 159.1h1M185.1 159.1h2.0M188 159.1h1M163.2 160.1h1M168.2 160.1h1M183.1 160.1h2.0M161.2 161.1h4.0M176.1 161.1h1M183.1 161.1h3.0M189 161.1h4.0M161.2 162.1h1M165.2 162.1h1M167.2 162.1h2.0M170.1 162.1h2.0M174.1 162.1h1M177.1 162.1h1M181.1 162.1h1M185.1 162.1h1M187 163.1h1M165.2 164.1h2.0M170.1 164.1h2.0M174.1 164.1h1M176.1 164.1h1M178.1 164.1h1M180.1 164.1h3.0M188 164.1h1M191 164.1h2.0M170.1 165.1h2.0M175.1 165.1h1M177.1 165.1h2.0M169.1 166.1h1M171.1 166.1h1M184.1 166.1h1M186 166.1h1M165.2 167.1h1M168.2 167.1h1M170.1 167.1h1M174.1 167.1h1M177.1 167.1h1M180.1 167.1h2.0M183.1 167.1h2.0M187 167.1h3.0M192 167.1h1M177.1 168.1h2.0M184.1 168.1h1M171.1 169.1h1M174.1 169.1h1M178.1 169.1h1M181.1 169.1h1M184.1 169.1h3.0M164.2 170.1h2.0M172.1 170.1h1M175.1 170.1h1M189 170.1h4.0M169.1 171.1h2.0M175.1 171.1h2.0M178.1 171.1h1M164.2 172.1h1M190 172.1h2.0M161.2 173.1h3.0M167.2 173.1h1M170.1 173.1h2.0M174.1 173.1h1M179.1 173.1h1M181.1 173.1h1M187 173.1h1M189 173.1h1M191 173.1h2.0M171.1 174.1h1M173.1 174.1h1M185.1 174.1h1M187 174.1h1M189 174.1h1M172.1 175.1h1M175.1 175.1h1M179.1 175.1h2.0M182.1 176.1h3.0M189 176.1h1M191 176.1h2.0M164.2 177.1h1M170.1 177.1h1M172.1 177.1h3.0M177.1 177.1h2.0M183.1 177.1h1M187 177.1h1M164.2 178.1h1M167.2 178.1h1M172.1 178.1h2.0M177.1 178.1h3.0M182.1 178.1h1M184.1 178.1h1M186 178.1h1M188 178.1h1M161.2 179.1h1M163.2 179.1h2.0M171.1 179.1h2.0M176.1 179.1h4.0M187 179.1h1M161.2 180.1h1M169.1 180.1h1M172.1 180.1h3.0M178.1 180.1h1M182.1 180.1h2.0M187 180.1h1M161.2 181.1h1M164.2 181.1h3.0M169.1 181.1h1M181.1 181.1h1M185.1 181.1h1M189 181.1h1M191 181.1h1M171.1 182.1h4.0M162.2 183.1h2.0M191 183.1h2.0M162.2 184.1h2.0M169.1 184.1h1M182.1 184.1h2.0M185.1 184.1h4.0M162.2 185.1h1M169.1 185.1h3.0M176.1 185.1h3.0M162.2 186.1h2.0M169.1 186.1h2.0M176.1 186.1h1M183.1 186.1h5.0M190 186.1h1M168.2 187.1h1M176.1 187.1h1M181.1 187.1h2.0M188 187.1h1M191 187.1h2.0M165.2 188.1h6.0M174.1 188.1h1M177.1 188.1h3.0M181.1 188.1h1M186 188.1h4.0M171.1 189.1h3.0M178.1 189.1h1M180.1 189.1h2.0M163.2 190.1h6.0M174.1 190.1h1M179.1 190.1h1M191 190.1h2.0M162.2 191.1h4.0M168.2 191.1h1M178.1 191.1h3.0M189 191.1h1M191 191.1h1M175.1 192.1h2.0M187 192.1h4.0M164.2 193.1h1M170.1 193.1h1M172.1 193.1h2.0M175.1 193.1h2.0M182.1 193.1h2.0M188 193.1h1M167.2 194.1h1M171.1 194.1h1M162.2 195.1h2.0M178.1 195.1h1M181.1 195.1h3.0M187 195.1h1M189 195.1h3.0M164.2 196.1h1M185.1 196.1h1M187 196.1h2.0M190 196.1h2.0M161.2 197.1h1M166.2 197.1h1M168.2 197.1h1M170.1 197.1h2.0M176.1 197.1h1M181.1 197.1h1M184.1 197.1h1M186 197.1h2.0M192 197.1h1M163.2 198.1h1M177.1 198.1h1M179.1 198.1h3.0M183.1 198.1h1M187 198.1h1M161.2 199h2.0M166.2 199h1M170.1 199h2.0M174.1 199h1M176.1 199h1M186 199h1M190 199h3.0M182.1 200h2.0M191 200h1M162.2 201h3.0M166.2 201h1M168.2 201h2.0M171.1 201h2.0M174.1 201h1M182.1 201h3.0M187 201h2.0M191 201h2.0M173.1 202h1M181.1 202h2.0M163.2 203h2.0M169.1 203h1M175.1 203h2.0M178.1 203h3.0M190 203h2.0M173.1 204h4.0M181.1 204h1M190 204h1M164.2 205h1M169.1 205h2.0M188 205h2.0M192 205h1M162.2 206h2.0M165.2 206h2.0M169.1 206h1M188 206h2.0M161.2 207h1M164.2 207h1M171.1 207h2.0M175.1 207h1M181.1 207h1M162.2 208h1M170.1 208h1M172.1 208h1M174.1 208h1M187 208h1M161.2 209h1M189 209h1M165.2 210h1M170.1 210h1M190 210h3.0M170.1 211h1M172.1 211h1M174.1 211h1M176.1 211h2.0M182.1 211h1M184.1 211h2.0M181.1 212h3.0M189 212h4.0M164.2 213h1M179.1 213h1M181.1 213h1M187 213h1M189 213h1M164.2 214h6.0M171.1 214h3.0M181.1 214h2.0M161.2 215h8.9M171.1 215h1M173.1 215h1M175.1 215h1M178.1 215h2.0M181.1 215h1M187 215h1M163.2 216h1M165.2 216h2.0M172.1 216h3.0M177.1 216h1M184.1 216h1M188 216h2.0M192 216h1M161.2 217h3.0M165.2 217h2.0M173.1 217h2.0M176.1 217h1M178.1 217h1M180.1 217h2.0M183.1 217h1M166.2 218h3.0M170.1 218h6.0M178.1 218h2.0M182.1 218h1M192 218h1M161.2 219h1M180.1 219h1M185.1 219h1M192 219h1M164.2 220h3.0M175.1 220h1M182.1 220h1M189 220h1M192 220h1M173.1 221h1M182.1 221h1M188 221h1M161.2 222h3.0M176.1 222h1M179.1 222h4.0M161.2 223h2.0M177.1 223h2.0M180.1 223h1M182.1 223h1M188 223h3.0M192 223h1M164.2 224h1M182.1 224h2.0M162.2 225h2.0M171.1 225h1M173.1 225h1M175.1 225h4.0M181.1 225h1M191 225h2.0M165.2 226h1M167.2 226h1M187 226h1M189 226h1"/>
<path stroke="#4a2a98" stroke-opacity="0.33" stroke-width="0.998" fill="none" d="M185.1 57.3h1M164.2 58.3h1M166.2 58.3h1M168.2 58.3h2.0M171.1 58.3h1M174.1 58.3h2.0M187 58.3h1M164.2 59.3h3.0M168.2 59.3h1M181.1 59.3h1M176.1 60.3h2.0M181.1 60.3h1M185.1 60.3h1M191 60.3h1M170.1 62.3h2.0M173.1 62.3h2.0M189 62.3h2.0M164.2 63.3h1M174.1 64.3h1M178.1 64.3h3.0M173.1 65.3h2.0M164.2 66.3h1M169.1 67.3h3.0M173.1 67.3h4.0M174.1 68.3h1M179.1 68.3h1M188 68.3h1M190 68.3h1M176.1 69.3h2.0M189 69.3h1M161.2 70.3h1M163.2 70.3h1M163.2 71.3h1M169.1 71.3h1M184.1 72.3h2.0M191 73.3h1M173.1 74.3h6.0M188 74.3h1M191 74.3h2.0M179.1 75.3h2.0M182.1 75.3h1M189 75.3h1M191 75.3h1M166.2 76.3h1M168.2 76.3h1M183.1 76.3h1M186 76.3h1M188 76.3h1M190 76.3h1M161.2 77.3h3.0M165.2 77.3h2.0M164.2 78.3h1M166.2 78.3h1M172.1 78.3h1M187 78.3h1M161.2 79.3h1M163.2 79.3h2.0M170.1 79.3h1M178.1 79.3h3.0M161.2 80.3h1M182.1 80.3h3.0M162.2 81.3h1M164.2 81.3h1M168.2 81.3h2.0M172.1 82.3h1M189 82.3h1M171.1 83.3h2.0M174.1 83.3h1M178.1 83.3h3.0M182.1 83.3h2.0M167.2 85.2h3.0M171.1 85.2h1M173.1 85.2h1M175.1 85.2h1M177.1 85.2h1M182.1 85.2h1M164.2 87.2h1M176.1 87.2h1M181.1 87.2h1M183.1 87.2h5.0M187 88.2h6.0M183.1 89.2h1M185.1 89.2h2.0M161.2 90.2h1M177.1 91.2h2.0M180.1 91.2h2.0M184.1 91.2h1M180.1 92.2h1M164.2 93.2h1M169.1 93.2h1M172.1 93.2h2.0M175.1 93.2h2.0M183.1 93.2h1M171.1 94.2h1M179.1 94.2h2.0M161.2 95.2h1M177.1 95.2h2.0M181.1 95.2h1M188 95.2h1M191 95.2h2.0M169.1 96.2h1M171.1 96.2h5.0M180.1 96.2h3.0M192 96.2h1M169.1 97.2h1M173.1 97.2h1M178.1 97.2h1M181.1 97.2h1M183.1 97.2h1M189 98.2h1M182.1 99.2h1M184.1 99.2h4.0M172.1 100.2h2.0M162.2 101.2h1M167.2 101.2h1M173.1 101.2h1M187 101.2h1M161.2 102.2h1M170.1 102.2h1M176.1 102.2h1M188 102.2h1M173.1 103.2h1M175.1 103.2h2.0M178.1 103.2h2.0M182.1 103.2h1M187 103.2h1M163.2 104.2h3.0M172.1 104.2h1M177.1 104.2h1M179.1 104.2h4.0M189 104.2h1M161.2 105.2h2.0M165.2 105.2h4.0M176.1 105.2h1M184.1 105.2h1M163.2 106.2h2.0M169.1 106.2h1M175.1 106.2h1M182.1 106.2h1M191 106.2h2.0M165.2 107.2h2.0M168.2 107.2h1M188 107.2h2.0M191 107.2h1M161.2 108.2h2.0M165.2 108.2h5.0M178.1 108.2h1M183.1 108.2h1M179.1 109.2h2.0M189 109.2h1M191 109.2h2.0M171.1 110.2h3.0M183.1 110.2h2.0M186 110.2h2.0M174.1 111.2h5.0M180.1 111.2h1M167.2 113.2h2.0M170.1 113.2h2.0M174.1 113.2h1M177.1 113.2h1M183.1 113.2h1M191 113.2h2.0M164.2 114.2h1M166.2 114.2h1M174.1 114.2h1M161.2 115.2h3.0M169.1 115.2h1M163.2 116.2h2.0M188 116.2h2.0M191 116.2h2.0M174.1 117.2h2.0M173.1 118.2h2.0M172.1 119.2h1M174.1 119.2h1M174.1 120.2h2.0M182.1 120.2h2.0M166.2 121.2h2.0M170.1 121.2h4.0M175.1 121.2h2.0M178.1 121.2h1M170.1 122.2h2.0M174.1 122.2h1M185.1 122.2h2.0M188 122.2h1M165.2 123.2h1M167.2 123.2h2.0M170.1 123.2h1M189 123.2h3.0M166.2 124.2h1M180.1 124.2h2.0M165.2 125.2h1M179.1 125.2h2.0M188 125.2h1M191 125.2h2.0M161.2 126.2h5.0M168.2 126.2h1M170.1 126.2h1M176.1 126.2h1M162.2 127.2h1M180.1 127.2h2.0M189 127.2h1M163.2 128.2h3.0M172.1 128.2h1M176.1 128.2h1M163.2 129.2h2.0M171.1 129.2h2.0M178.1 130.2h2.0M185.1 130.2h1M170.1 131.2h1M172.1 131.2h1M182.1 131.2h1M185.1 131.2h3.0M165.2 132.2h1M176.1 132.2h1M183.1 132.2h1M186 132.2h1M188 132.2h1M177.1 133.2h3.0M181.1 133.2h1M187 133.2h1M189 133.2h2.0M192 133.2h1M161.2 134.2h2.0M164.2 134.2h2.0M168.2 134.2h1M170.1 134.2h1M173.1 134.2h1M175.1 134.2h1M181.1 134.2h2.0M185.1 134.2h3.0M175.1 135.2h4.0M181.1 135.2h2.0M188 135.2h5.0M164.2 136.2h1M168.2 136.2h1M174.1 136.2h3.0M179.1 136.2h3.0M183.1 136.2h2.0M186 136.2h1M190 136.2h2.0M166.2 137.2h1M179.1 137.2h1M181.1 137.2h2.0M185.1 137.2h1M166.2 138.2h4.0M171.1 138.2h1M184.1 138.2h1M186 138.2h1M188 138.2h3.0M170.1 139.2h3.0M191 139.2h2.0M177.1 140.2h1M183.1 140.2h1M189 140.2h1M164.2 141.2h1M175.1 141.2h1M191 141.2h2.0M171.1 142.1h3.0M175.1 142.1h1M180.1 142.1h1M164.2 143.1h1M171.1 143.1h2.0M175.1 143.1h3.0M183.1 143.1h1M186 143.1h2.0M189 143.1h1M191 143.1h2.0M161.2 144.1h1M163.2 144.1h3.0M167.2 144.1h1M169.1 144.1h5.0M175.1 144.1h1M182.1 144.1h2.0M162.2 145.1h2.0M167.2 145.1h1M170.1 145.1h2.0M175.1 145.1h1M161.2 146.1h1M171.1 146.1h1M175.1 146.1h2.0M178.1 146.1h1M180.1 146.1h1M163.2 147.1h1M171.1 147.1h1M174.1 147.1h3.0M180.1 147.1h3.0M190 147.1h3.0M162.2 148.1h2.0M161.2 150.1h1M164.2 150.1h1M181.1 150.1h1M165.2 151.1h1M167.2 151.1h2.0M183.1 151.1h2.0M165.2 152.1h2.0M169.1 152.1h3.0M175.1 152.1h4.0M181.1 152.1h1M165.2 153.1h1M179.1 153.1h1M161.2 154.1h2.0M171.1 154.1h1M173.1 154.1h1M175.1 154.1h1M180.1 154.1h1M186 154.1h2.0M161.2 155.1h1M185.1 155.1h1M163.2 156.1h1M178.1 156.1h6.0M162.2 159.1h1M165.2 159.1h1M172.1 159.1h1M176.1 159.1h1M182.1 159.1h2.0M189 159.1h2.0M192 159.1h1M164.2 160.1h2.0M167.2 160.1h1M179.1 160.1h1M181.1 160.1h1M185.1 160.1h1M187 160.1h1M178.1 161.1h1M182.1 161.1h1M166.2 162.1h1M169.1 162.1h1M182.1 162.1h1M161.2 163.1h1M164.2 163.1h1M175.1 163.1h1M182.1 163.1h1M188 163.1h1M163.2 164.1h1M172.1 164.1h2.0M175.1 164.1h1M177.1 164.1h1M189 164.1h1M161.2 165.1h2.0M166.2 165.1h1M168.2 165.1h1M172.1 165.1h1M176.1 165.1h1M179.1 165.1h1M172.1 166.1h7.0M182.1 166.1h1M187 166.1h3.0M192 166.1h1M161.2 167.1h1M164.2 167.1h1M171.1 167.1h1M182.1 167.1h1M185.1 167.1h2.0M165.2 168.1h1M170.1 168.1h7.0M179.1 168.1h5.0M161.2 169.1h2.0M169.1 169.1h2.0M173.1 169.1h1M176.1 169.1h2.0M182.1 169.1h1M166.2 170.1h3.0M171.1 170.1h1M173.1 170.1h1M161.2 171.1h1M167.2 171.1h2.0M177.1 171.1h1M183.1 171.1h1M186 171.1h3.0M163.2 172.1h1M165.2 172.1h1M170.1 172.1h1M181.1 172.1h2.0M168.2 173.1h2.0M175.1 173.1h2.0M183.1 173.1h2.0M169.1 174.1h2.0M174.1 174.1h8.0M184.1 174.1h1M186 174.1h1M188 174.1h1M187 176.1h2.0M161.2 177.1h3.0M165.2 177.1h2.0M169.1 177.1h1M171.1 177.1h1M179.1 177.1h4.0M188 177.1h2.0M162.2 178.1h2.0M180.1 178.1h2.0M185.1 178.1h1M173.1 179.1h3.0M182.1 179.1h1M186 179.1h1M163.2 180.1h3.0M168.2 180.1h1M170.1 180.1h2.0M167.2 181.1h2.0M170.1 181.1h2.0M176.1 181.1h5.0M192 181.1h1M162.2 182.1h2.0M167.2 182.1h1M169.1 182.1h2.0M184.1 182.1h1M186 182.1h1M188 182.1h5.0M164.2 183.1h3.0M171.1 183.1h1M174.1 183.1h1M189 183.1h2.0M170.1 184.1h1M172.1 184.1h1M174.1 184.1h4.0M189 184.1h1M191 184.1h2.0M171.1 186.1h2.0M174.1 186.1h1M167.2 187.1h1M177.1 187.1h1M180.1 187.1h1M183.1 187.1h1M189 187.1h2.0M183.1 188.1h3.0M191 188.1h2.0M162.2 189.1h2.0M166.2 189.1h1M170.1 189.1h1M174.1 189.1h4.0M182.1 189.1h2.0M162.2 190.1h1M190 190.1h1M161.2 191.1h1M169.1 191.1h3.0M177.1 191.1h1M190 191.1h1M177.1 192.1h1M180.1 192.1h3.0M186 192.1h1M163.2 193.1h1M165.2 193.1h1M171.1 193.1h1M174.1 193.1h1M177.1 193.1h1M181.1 193.1h1M189 193.1h2.0M166.2 194.1h1M172.1 194.1h1M177.1 194.1h1M181.1 194.1h1M183.1 194.1h2.0M186 194.1h1M161.2 195.1h1M164.2 195.1h1M166.2 195.1h1M169.1 195.1h1M172.1 195.1h2.0M175.1 195.1h1M177.1 195.1h1M179.1 195.1h2.0M163.2 196.1h1M171.1 196.1h1M175.1 196.1h2.0M189 196.1h1M192 196.1h1M163.2 197.1h3.0M169.1 197.1h1M175.1 197.1h1M177.1 197.1h1M179.1 197.1h1M183.1 197.1h1M191 197.1h1M162.2 198.1h1M188 198.1h5.0M177.1 199h2.0M180.1 199h6.0M188 199h2.0M184.1 200h7.0M192 200h1M165.2 201h1M167.2 201h1M170.1 201h1M173.1 201h1M175.1 201h1M177.1 201h3.0M181.1 201h1M185.1 201h2.0M189 201h2.0M172.1 202h1M174.1 202h7.0M183.1 202h4.0M192 202h1M165.2 203h2.0M170.1 203h1M174.1 203h1M177.1 203h1M187 204h1M165.2 205h2.0M168.2 205h1M191 205h1M164.2 206h1M172.1 206h1M178.1 206h6.0M187 206h1M165.2 207h1M169.1 207h2.0M173.1 207h2.0M182.1 207h2.0M187 207h1M189 207h3.0M163.2 208h3.0M168.2 208h2.0M188 208h2.0M191 208h1M191 209h2.0M166.2 210h1M168.2 210h1M174.1 210h5.0M180.1 210h1M183.1 210h1M187 210h2.0M166.2 211h1M168.2 211h1M171.1 211h1M173.1 211h1M175.1 211h1M183.1 211h1M186 211h2.0M185.1 212h1M187 212h2.0M167.2 213h3.0M180.1 213h1M182.1 213h2.0M186 213h1M162.2 214h2.0M174.1 214h1M183.1 214h5.0M192 214h1M182.1 215h5.0M189 215h1M167.2 216h1M169.1 216h3.0M175.1 216h2.0M178.1 216h1M183.1 216h1M187 216h1M167.2 217h2.0M171.1 217h1M175.1 217h1M162.2 218h1M176.1 218h2.0M180.1 218h2.0M183.1 218h2.0M186 218h3.0M188 219h4.0M168.2 220h3.0M172.1 220h2.0M187 220h2.0M190 220h2.0M161.2 221h5.0M167.2 221h1M171.1 221h2.0M174.1 221h3.0M167.2 222h2.0M188 222h1M190 222h1M163.2 223h1M167.2 223h3.0M176.1 223h1M179.1 223h1M181.1 223h1M183.1 223h1M165.2 224h3.0M172.1 224h1M177.1 224h3.0M189 224h1M161.2 225h1M165.2 225h2.0M169.1 225h2.0M174.1 225h1M185.1 225h2.0M189 225h2.0M161.2 226h4.0M166.2 226h1M168.2 226h2.0M190 226h3.0"/>
<path stroke="#4a2a98" stroke-opacity="0.50" stroke-width="0.998" fill="none" d="M162.2 57.3h1M177.1 57.3h1M180.1 57.3h2.0M184.1 57.3h1M186 57.3h4.0M161.2 58.3h1M163.2 58.3h1M165.2 58.3h1M167.2 58.3h1M173.1 58.3h1M186 58.3h1M188 58.3h1M192 58.3h1M163.2 59.3h1M170.1 59.3h1M178.1 59.3h1M180.1 59.3h1M164.2 60.3h2.0M167.2 60.3h1M174.1 60.3h2.0M180.1 60.3h1M182.1 60.3h1M186 60.3h1M192 60.3h1M169.1 61.3h1M187 61.3h1M167.2 62.3h1M175.1 62.3h2.0M182.1 62.3h1M188 62.3h1M191 62.3h2.0M162.2 63.3h2.0M170.1 63.3h1M177.1 63.3h1M181.1 63.3h1M173.1 64.3h1M181.1 64.3h1M190 64.3h1M165.2 65.3h4.0M171.1 65.3h1M175.1 65.3h1M180.1 66.3h1M182.1 66.3h1M186 66.3h1M188 66.3h1M166.2 67.3h2.0M177.1 67.3h1M179.1 67.3h1M173.1 68.3h1M176.1 68.3h1M178.1 68.3h1M163.2 69.3h1M178.1 69.3h2.0M188 69.3h1M190 69.3h1M164.2 70.3h1M170.1 70.3h1M178.1 70.3h1M162.2 71.3h1M164.2 71.3h1M167.2 71.3h2.0M174.1 71.3h1M189 71.3h4.0M175.1 72.3h2.0M183.1 72.3h1M186 72.3h3.0M161.2 73.3h1M178.1 73.3h2.0M188 73.3h2.0M172.1 74.3h1M189 74.3h1M167.2 75.3h1M178.1 75.3h1M188 75.3h1M192 75.3h1M169.1 76.3h1M181.1 76.3h1M187 76.3h1M189 76.3h1M168.2 77.3h1M185.1 77.3h2.0M170.1 78.3h2.0M176.1 78.3h1M183.1 78.3h1M186 78.3h1M191 78.3h2.0M173.1 79.3h1M175.1 79.3h2.0M181.1 79.3h1M172.1 80.3h1M176.1 80.3h1M178.1 80.3h2.0M188 80.3h1M163.2 81.3h1M191 81.3h1M175.1 82.3h1M184.1 82.3h2.0M190 82.3h2.0M164.2 83.3h1M173.1 83.3h1M181.1 83.3h1M189 83.3h2.0M178.1 84.3h2.0M181.1 84.3h2.0M185.1 84.3h1M165.2 85.2h1M170.1 85.2h1M174.1 85.2h1M176.1 85.2h1M178.1 85.2h1M187 85.2h2.0M186 86.2h1M165.2 87.2h1M170.1 87.2h2.0M180.1 87.2h1M182.1 87.2h1M176.1 88.2h2.0M183.1 88.2h3.0M179.1 89.2h3.0M184.1 89.2h1M162.2 90.2h2.0M166.2 90.2h1M190 90.2h1M168.2 91.2h1M186 91.2h1M171.1 92.2h1M168.2 93.2h1M171.1 93.2h1M177.1 93.2h1M184.1 93.2h1M188 93.2h1M162.2 94.2h1M169.1 94.2h2.0M177.1 94.2h2.0M162.2 95.2h1M180.1 95.2h1M182.1 95.2h2.0M189 95.2h1M164.2 96.2h1M176.1 96.2h1M178.1 96.2h1M190 96.2h1M171.1 97.2h2.0M174.1 97.2h3.0M186 97.2h5.0M192 97.2h1M182.1 98.2h1M186 98.2h3.0M190 98.2h1M162.2 99.2h2.0M180.1 99.2h2.0M174.1 100.2h1M182.1 100.2h1M184.1 100.2h1M188 100.2h1M163.2 101.2h1M168.2 101.2h2.0M172.1 101.2h1M186 101.2h1M162.2 102.2h1M165.2 102.2h2.0M169.1 102.2h1M171.1 102.2h1M181.1 102.2h2.0M171.1 103.2h2.0M177.1 103.2h1M189 103.2h1M192 103.2h1M162.2 104.2h1M171.1 104.2h1M174.1 104.2h1M178.1 104.2h1M187 104.2h1M190 104.2h1M164.2 105.2h1M175.1 105.2h1M177.1 105.2h1M179.1 105.2h1M182.1 105.2h2.0M185.1 105.2h3.0M161.2 106.2h2.0M170.1 106.2h1M172.1 106.2h1M184.1 106.2h1M189 106.2h2.0M163.2 107.2h2.0M179.1 108.2h4.0M184.1 108.2h1M161.2 109.2h2.0M164.2 110.2h1M169.1 110.2h1M175.1 110.2h1M182.1 110.2h1M185.1 110.2h1M188 110.2h1M161.2 111.2h1M163.2 111.2h1M171.1 111.2h1M179.1 111.2h1M165.2 112.2h1M168.2 112.2h4.0M173.1 112.2h1M165.2 113.2h1M172.1 113.2h1M175.1 113.2h2.0M182.1 113.2h1M184.1 113.2h1M189 113.2h1M161.2 114.2h1M163.2 114.2h1M177.1 114.2h1M179.1 114.2h2.0M184.1 114.2h2.0M188 114.2h3.0M166.2 115.2h1M170.1 115.2h1M183.1 115.2h3.0M183.1 116.2h1M190 116.2h1M167.2 117.2h3.0M171.1 117.2h3.0M184.1 117.2h1M172.1 118.2h1M176.1 118.2h1M179.1 118.2h4.0M190 118.2h3.0M161.2 119.2h1M165.2 119.2h1M171.1 119.2h1M175.1 119.2h2.0M178.1 119.2h2.0M170.1 120.2h1M184.1 120.2h1M187 120.2h1M189 120.2h2.0M164.2 121.2h2.0M168.2 121.2h2.0M179.1 121.2h2.0M172.1 122.2h2.0M182.1 122.2h3.0M183.1 123.2h2.0M188 123.2h1M192 123.2h1M168.2 124.2h1M183.1 124.2h1M161.2 125.2h1M169.1 125.2h1M167.2 126.2h1M177.1 126.2h6.0M190 127.2h3.0M166.2 128.2h5.0M173.1 128.2h3.0M162.2 129.2h1M169.1 129.2h1M182.1 130.2h3.0M186 130.2h2.0M171.1 131.2h1M173.1 131.2h2.0M177.1 131.2h5.0M183.1 131.2h2.0M168.2 132.2h3.0M172.1 132.2h1M184.1 132.2h2.0M189 132.2h2.0M192 132.2h1M191 133.2h1M163.2 134.2h1M169.1 134.2h1M172.1 134.2h1M176.1 134.2h3.0M180.1 134.2h1M161.2 135.2h1M163.2 135.2h1M179.1 135.2h1M187 135.2h1M167.2 136.2h1M170.1 136.2h2.0M173.1 136.2h1M177.1 136.2h2.0M187 136.2h1M185.1 138.2h1M191 138.2h2.0M190 139.2h1M165.2 140.2h1M167.2 140.2h3.0M178.1 140.2h1M181.1 140.2h2.0M176.1 141.2h2.0M180.1 141.2h4.0M161.2 142.1h1M163.2 142.1h1M174.1 142.1h1M176.1 142.1h2.0M163.2 143.1h1M184.1 143.1h2.0M188 143.1h1M166.2 144.1h1M168.2 144.1h1M174.1 144.1h1M176.1 144.1h2.0M179.1 144.1h1M181.1 144.1h1M161.2 145.1h1M164.2 145.1h3.0M168.2 145.1h2.0M164.2 146.1h1M177.1 146.1h1M179.1 146.1h1M181.1 146.1h1M161.2 147.1h2.0M164.2 147.1h1M177.1 147.1h3.0M191 148.1h2.0M177.1 149.1h3.0M164.2 151.1h1M182.1 151.1h1M185.1 151.1h3.0M174.1 152.1h1M179.1 152.1h1M163.2 153.1h1M174.1 154.1h1M178.1 154.1h2.0M181.1 154.1h3.0M161.2 159.1h1M163.2 159.1h1M177.1 159.1h3.0M181.1 159.1h1M191 159.1h1M166.2 160.1h1M177.1 160.1h2.0M180.1 160.1h1M182.1 160.1h1M186 160.1h1M179.1 161.1h1M181.1 161.1h1M188 162.1h1M162.2 163.1h2.0M165.2 163.1h1M169.1 163.1h6.0M176.1 163.1h2.0M180.1 163.1h2.0M189 163.1h2.0M161.2 164.1h2.0M190 164.1h1M163.2 165.1h1M165.2 165.1h1M167.2 165.1h1M169.1 165.1h1M179.1 166.1h3.0M183.1 166.1h1M190 166.1h2.0M162.2 167.1h1M161.2 168.1h4.0M166.2 168.1h2.0M169.1 168.1h1M185.1 168.1h1M187 168.1h6.0M163.2 169.1h3.0M172.1 169.1h1M175.1 169.1h1M170.1 170.1h1M174.1 170.1h1M164.2 171.1h3.0M171.1 171.1h4.0M184.1 171.1h2.0M189 171.1h1M191 171.1h2.0M166.2 172.1h2.0M169.1 172.1h1M171.1 172.1h2.0M177.1 172.1h3.0M185.1 173.1h2.0M162.2 174.1h3.0M166.2 174.1h2.0M182.1 174.1h2.0M185.1 176.1h2.0M167.2 177.1h2.0M190 177.1h3.0M161.2 178.1h1M183.1 179.1h3.0M166.2 180.1h2.0M172.1 181.1h1M175.1 181.1h1M161.2 182.1h1M164.2 182.1h2.0M168.2 182.1h1M175.1 182.1h3.0M181.1 182.1h3.0M185.1 182.1h1M187 182.1h1M169.1 183.1h2.0M172.1 183.1h2.0M188 183.1h1M171.1 184.1h1M173.1 184.1h1M190 184.1h1M161.2 186.1h1M173.1 186.1h1M175.1 186.1h1M178.1 187.1h1M182.1 188.1h1M161.2 189.1h1M164.2 189.1h2.0M167.2 189.1h3.0M184.1 189.1h6.0M192 189.1h1M161.2 190.1h1M172.1 191.1h2.0M175.1 191.1h2.0M178.1 192.1h2.0M183.1 192.1h3.0M162.2 193.1h1M178.1 193.1h3.0M192 193.1h1M161.2 194.1h2.0M164.2 194.1h2.0M173.1 194.1h2.0M176.1 194.1h1M182.1 194.1h1M185.1 194.1h1M187 194.1h4.0M165.2 195.1h1M168.2 195.1h1M170.1 195.1h2.0M174.1 195.1h1M176.1 195.1h1M161.2 196.1h2.0M172.1 196.1h3.0M162.2 197.1h1M172.1 197.1h3.0M178.1 197.1h1M180.1 197.1h1M189 197.1h2.0M161.2 198.1h1M179.1 199h1M176.1 201h1M180.1 201h1M187 202h1M189 202h1M191 202h1M167.2 203h2.0M171.1 203h3.0M182.1 204h5.0M167.2 205h1M190 205h1M167.2 206h2.0M170.1 206h1M173.1 206h5.0M184.1 206h1M166.2 207h3.0M184.1 207h3.0M188 207h1M192 207h1M161.2 208h1M166.2 208h2.0M190 208h1M192 208h1M190 209h1M167.2 210h1M169.1 210h1M179.1 210h1M181.1 210h2.0M184.1 210h3.0M161.2 211h3.0M165.2 211h1M167.2 211h1M169.1 211h1M184.1 212h1M186 212h1M184.1 213h2.0M161.2 214h1M190 214h2.0M188 215h1M190 215h3.0M168.2 216h1M179.1 216h4.0M185.1 216h2.0M169.1 217h2.0M161.2 218h1M163.2 218h3.0M169.1 218h1M185.1 218h1M167.2 220h1M171.1 220h1M183.1 220h3.0M166.2 221h1M168.2 221h3.0M177.1 221h1M179.1 221h3.0M189 221h4.0M164.2 222h3.0M183.1 222h1M189 222h1M192 222h1M164.2 223h2.0M172.1 223h4.0M184.1 223h1M186 223h2.0M168.2 224h4.0M173.1 224h2.0M176.1 224h1M164.2 225h1M167.2 225h1M182.1 225h3.0M187 225h2.0"/>
<path stroke="#4a2a98" stroke-opacity="0.67" stroke-width="0.998" fill="none" d="M161.2 57.3h1M163.2 57.3h1M167.2 57.3h2.0M173.1 57.3h1M175.1 57.3h1M182.1 57.3h2.0M162.2 58.3h1M172.1 58.3h1M176.1 58.3h1M184.1 58.3h2.0M189 58.3h3.0M162.2 59.3h1M171.1 59.3h2.0M176.1 59.3h2.0M179.1 59.3h1M161.2 60.3h2.0M166.2 60.3h1M168.2 60.3h1M170.1 60.3h2.0M167.2 61.3h2.0M177.1 61.3h1M182.1 61.3h3.0M186 61.3h1M181.1 62.3h1M183.1 62.3h3.0M187 62.3h1M161.2 63.3h1M171.1 63.3h1M175.1 63.3h2.0M192 63.3h1M171.1 64.3h2.0M176.1 64.3h1M189 64.3h1M191 64.3h1M169.1 65.3h2.0M176.1 65.3h1M183.1 65.3h4.0M165.2 66.3h1M178.1 66.3h2.0M181.1 66.3h1M185.1 66.3h1M187 66.3h1M168.2 67.3h1M178.1 67.3h1M182.1 67.3h1M186 67.3h1M188 67.3h3.0M161.2 68.3h2.0M169.1 68.3h1M171.1 68.3h2.0M175.1 68.3h1M164.2 69.3h1M170.1 69.3h1M185.1 69.3h3.0M191 69.3h2.0M165.2 70.3h1M169.1 70.3h1M179.1 70.3h3.0M183.1 70.3h1M188 70.3h2.0M161.2 71.3h1M175.1 71.3h2.0M187 71.3h1M169.1 72.3h6.0M162.2 73.3h1M166.2 73.3h1M190 73.3h1M170.1 74.3h2.0M190 74.3h1M168.2 75.3h2.0M177.1 75.3h1M183.1 75.3h1M190 75.3h1M165.2 76.3h1M175.1 76.3h2.0M178.1 76.3h3.0M191 76.3h2.0M164.2 77.3h1M167.2 77.3h1M169.1 77.3h1M183.1 77.3h2.0M187 77.3h4.0M192 77.3h1M174.1 78.3h2.0M177.1 78.3h1M179.1 78.3h4.0M184.1 78.3h2.0M189 78.3h2.0M171.1 79.3h2.0M174.1 79.3h1M177.1 79.3h1M183.1 79.3h2.0M187 79.3h2.0M177.1 80.3h1M180.1 80.3h2.0M185.1 80.3h3.0M189 80.3h1M170.1 81.3h1M172.1 81.3h2.0M176.1 81.3h3.0M183.1 81.3h1M190 81.3h1M192 81.3h1M161.2 82.3h1M163.2 82.3h1M165.2 82.3h2.0M169.1 82.3h3.0M182.1 82.3h2.0M186 82.3h3.0M192 82.3h1M175.1 83.3h3.0M184.1 83.3h1M186 83.3h2.0M176.1 84.3h2.0M183.1 84.3h1M187 84.3h1M179.1 85.2h1M189 85.2h1M177.1 86.2h2.0M184.1 86.2h2.0M187 86.2h1M177.1 87.2h1M170.1 88.2h2.0M173.1 88.2h1M175.1 88.2h1M178.1 88.2h1M180.1 88.2h1M182.1 88.2h1M186 88.2h1M170.1 89.2h3.0M177.1 89.2h2.0M188 89.2h1M164.2 90.2h2.0M191 90.2h2.0M163.2 91.2h2.0M167.2 91.2h1M170.1 91.2h1M176.1 91.2h1M185.1 91.2h1M187 91.2h1M181.1 92.2h2.0M165.2 93.2h1M167.2 93.2h1M170.1 93.2h1M179.1 93.2h1M181.1 93.2h1M185.1 93.2h3.0M189 93.2h1M161.2 94.2h1M163.2 94.2h1M168.2 94.2h1M163.2 95.2h4.0M168.2 95.2h1M172.1 95.2h2.0M176.1 95.2h1M184.1 95.2h2.0M187 95.2h1M190 95.2h1M177.1 96.2h1M183.1 96.2h1M186 96.2h4.0M177.1 97.2h1M184.1 97.2h1M191 97.2h1M162.2 98.2h1M184.1 98.2h2.0M191 98.2h2.0M161.2 99.2h1M164.2 99.2h1M171.1 100.2h1M181.1 100.2h1M183.1 100.2h1M185.1 100.2h1M187 100.2h1M189 100.2h1M164.2 101.2h3.0M171.1 101.2h1M163.2 102.2h1M167.2 102.2h1M177.1 102.2h2.0M180.1 102.2h1M189 102.2h2.0M188 103.2h1M191 103.2h1M161.2 104.2h1M166.2 104.2h2.0M170.1 104.2h1M183.1 104.2h3.0M178.1 105.2h1M181.1 105.2h1M171.1 106.2h1M173.1 106.2h1M183.1 106.2h1M185.1 106.2h4.0M169.1 107.2h1M170.1 108.2h1M177.1 108.2h1M186 108.2h3.0M190 108.2h1M163.2 109.2h2.0M177.1 109.2h2.0M182.1 109.2h1M188 109.2h1M165.2 110.2h3.0M170.1 110.2h1M176.1 110.2h2.0M180.1 110.2h2.0M189 111.2h1M166.2 112.2h2.0M172.1 112.2h1M174.1 112.2h2.0M184.1 112.2h3.0M188 112.2h1M191 112.2h2.0M163.2 113.2h2.0M169.1 113.2h1M173.1 113.2h1M178.1 113.2h2.0M185.1 113.2h1M162.2 114.2h1M178.1 114.2h1M181.1 114.2h3.0M186 114.2h2.0M171.1 115.2h5.0M179.1 115.2h1M182.1 115.2h1M186 115.2h1M188 115.2h1M165.2 116.2h2.0M177.1 116.2h1M181.1 116.2h2.0M187 116.2h1M164.2 117.2h2.0M170.1 117.2h1M176.1 117.2h1M183.1 117.2h1M185.1 117.2h2.0M169.1 118.2h1M171.1 118.2h1M175.1 118.2h1M177.1 118.2h2.0M183.1 118.2h1M166.2 119.2h1M170.1 119.2h1M177.1 119.2h1M180.1 119.2h2.0M183.1 119.2h1M189 119.2h4.0M164.2 120.2h2.0M185.1 120.2h2.0M188 120.2h1M161.2 121.2h1M183.1 121.2h2.0M189 121.2h3.0M175.1 122.2h2.0M164.2 123.2h1M171.1 123.2h1M180.1 123.2h2.0M185.1 123.2h3.0M165.2 124.2h1M177.1 124.2h3.0M182.1 124.2h1M184.1 124.2h1M186 124.2h1M188 124.2h1M162.2 125.2h1M164.2 125.2h1M170.1 125.2h1M174.1 125.2h1M176.1 125.2h1M189 125.2h2.0M171.1 128.2h1M161.2 129.2h1M176.1 131.2h1M166.2 132.2h2.0M171.1 132.2h1M173.1 132.2h3.0M191 132.2h1M179.1 134.2h1M162.2 135.2h1M180.1 135.2h1M183.1 135.2h4.0M172.1 136.2h1M166.2 140.2h1M179.1 140.2h2.0M162.2 141.2h2.0M178.1 141.2h2.0M162.2 142.1h1M178.1 142.1h2.0M161.2 143.1h2.0M173.1 143.1h2.0M178.1 144.1h1M180.1 144.1h1M161.2 151.1h3.0M172.1 152.1h2.0M161.2 153.1h2.0M184.1 154.1h2.0M180.1 161.1h1M189 162.1h4.0M166.2 163.1h3.0M178.1 163.1h2.0M191 163.1h2.0M164.2 165.1h1M163.2 167.1h1M168.2 168.1h1M186 168.1h1M166.2 169.1h3.0M169.1 170.1h1M190 171.1h1M168.2 172.1h1M173.1 172.1h4.0M180.1 172.1h1M161.2 174.1h1M165.2 174.1h1M168.2 174.1h1M173.1 181.1h2.0M166.2 182.1h1M178.1 182.1h3.0M167.2 183.1h2.0M175.1 183.1h2.0M182.1 183.1h2.0M185.1 183.1h3.0M179.1 187.1h1M190 189.1h2.0M174.1 191.1h1M161.2 193.1h1M191 193.1h1M163.2 194.1h1M175.1 194.1h1M178.1 194.1h3.0M191 194.1h2.0M167.2 195.1h1M188 202h1M190 202h1M171.1 206h1M186 206h1M164.2 211h1M188 214h2.0M186 220h1M178.1 221h1M184.1 222h4.0M191 222h1M166.2 223h1M170.1 223h2.0M185.1 223h1M175.1 224h1M190 224h3.0M168.2 225h1"/>
<path stroke="#4a2a98" stroke-opacity="0.83" stroke-width="0.998" fill="none" d="M164.2 57.3h1M166.2 57.3h1M169.1 57.3h4.0M174.1 57.3h1M176.1 57.3h1M178.1 57.3h1M177.1 58.3h1M183.1 58.3h1M173.1 59.3h3.0M163.2 60.3h1M169.1 60.3h1M172.1 60.3h1M163.2 61.3h1M166.2 61.3h1M170.1 61.3h2.0M185.1 61.3h1M188 61.3h5.0M178.1 62.3h3.0M186 62.3h1M174.1 63.3h1M182.1 63.3h1M189 63.3h1M191 63.3h1M165.2 64.3h1M167.2 64.3h1M175.1 64.3h1M177.1 64.3h1M192 64.3h1M163.2 65.3h2.0M177.1 65.3h1M179.1 65.3h4.0M188 65.3h1M168.2 66.3h3.0M173.1 66.3h4.0M184.1 66.3h1M162.2 67.3h4.0M180.1 67.3h1M183.1 67.3h3.0M187 67.3h1M191 67.3h2.0M163.2 68.3h1M167.2 68.3h2.0M170.1 68.3h1M161.2 69.3h2.0M168.2 69.3h1M180.1 69.3h2.0M183.1 69.3h2.0M166.2 70.3h1M168.2 70.3h1M182.1 70.3h1M184.1 70.3h3.0M192 70.3h1M185.1 71.3h2.0M188 71.3h1M161.2 72.3h1M167.2 72.3h1M177.1 72.3h1M180.1 72.3h3.0M163.2 73.3h1M177.1 73.3h1M169.1 74.3h1M164.2 75.3h3.0M170.1 75.3h1M176.1 75.3h1M184.1 75.3h1M170.1 76.3h1M177.1 76.3h1M170.1 77.3h1M182.1 77.3h1M191 77.3h1M162.2 78.3h2.0M173.1 78.3h1M188 78.3h1M182.1 79.3h1M185.1 79.3h2.0M189 79.3h1M162.2 80.3h3.0M175.1 80.3h1M171.1 81.3h1M174.1 81.3h1M180.1 81.3h3.0M184.1 81.3h3.0M188 81.3h2.0M162.2 82.3h1M176.1 82.3h2.0M181.1 82.3h1M163.2 83.3h1M185.1 83.3h1M171.1 84.3h3.0M175.1 84.3h1M184.1 84.3h1M186 84.3h1M164.2 85.2h1M190 85.2h1M161.2 86.2h1M176.1 86.2h1M179.1 86.2h5.0M188 86.2h1M166.2 87.2h1M169.1 87.2h1M163.2 88.2h1M169.1 88.2h1M172.1 88.2h1M174.1 88.2h1M179.1 88.2h1M181.1 88.2h1M168.2 89.2h2.0M173.1 89.2h3.0M167.2 90.2h1M172.1 90.2h1M174.1 90.2h1M185.1 90.2h1M189 90.2h1M162.2 91.2h1M165.2 91.2h2.0M169.1 91.2h1M171.1 91.2h2.0M175.1 91.2h1M161.2 92.2h2.0M191 92.2h1M166.2 93.2h1M178.1 93.2h1M182.1 93.2h1M190 93.2h1M165.2 94.2h3.0M181.1 94.2h2.0M185.1 94.2h3.0M192 94.2h1M167.2 95.2h1M169.1 95.2h3.0M175.1 95.2h1M186 95.2h1M184.1 96.2h2.0M162.2 97.2h2.0M182.1 97.2h1M185.1 97.2h1M163.2 98.2h1M165.2 98.2h2.0M168.2 98.2h4.0M179.1 98.2h3.0M183.1 98.2h1M167.2 99.2h1M177.1 99.2h1M179.1 99.2h1M175.1 100.2h3.0M186 100.2h1M191 100.2h2.0M170.1 101.2h1M164.2 102.2h1M168.2 102.2h1M179.1 102.2h1M191 102.2h1M170.1 103.2h1M168.2 104.2h1M186 104.2h1M180.1 105.2h1M174.1 106.2h1M161.2 107.2h2.0M170.1 107.2h1M178.1 107.2h1M181.1 107.2h1M187 107.2h1M171.1 108.2h2.0M175.1 108.2h2.0M189 108.2h1M191 108.2h2.0M176.1 109.2h1M187 109.2h1M161.2 110.2h3.0M168.2 110.2h1M178.1 110.2h1M189 110.2h1M169.1 111.2h2.0M190 111.2h1M192 111.2h1M176.1 112.2h1M187 112.2h1M189 112.2h1M162.2 113.2h1M186 113.2h1M188 113.2h1M191 114.2h2.0M176.1 115.2h1M178.1 115.2h1M180.1 115.2h2.0M190 115.2h1M167.2 116.2h1M169.1 116.2h1M178.1 116.2h1M180.1 116.2h1M184.1 116.2h3.0M163.2 117.2h1M166.2 117.2h1M177.1 117.2h1M179.1 117.2h2.0M182.1 117.2h1M187 117.2h1M191 117.2h1M161.2 118.2h1M170.1 118.2h1M184.1 118.2h2.0M189 118.2h1M162.2 119.2h3.0M167.2 119.2h3.0M184.1 119.2h3.0M188 119.2h1M166.2 120.2h1M181.1 121.2h1M185.1 121.2h1M188 121.2h1M192 121.2h1M179.1 123.2h1M182.1 123.2h1M164.2 124.2h1M169.1 124.2h2.0M176.1 124.2h1M185.1 124.2h1M187 124.2h1M189 124.2h1M163.2 125.2h1M171.1 125.2h1M175.1 125.2h1M175.1 131.2h1M161.2 141.2h1M180.1 159.1h1M177.1 183.1h1M179.1 183.1h3.0M184.1 183.1h1M185.1 206h1"/>
<path stroke="#4a2a98" stroke-opacity="1.00" stroke-width="0.998" fill="none" d="M165.2 57.3h1M179.1 57.3h1M178.1 58.3h5.0M161.2 59.3h1M173.1 60.3h1M161.2 61.3h2.0M164.2 61.3h2.0M172.1 61.3h5.0M178.1 61.3h4.0M177.1 62.3h1M172.1 63.3h2.0M183.1 63.3h6.0M190 63.3h1M161.2 64.3h4.0M166.2 64.3h1M168.2 64.3h3.0M182.1 64.3h7.0M161.2 65.3h2.0M178.1 65.3h1M187 65.3h1M189 65.3h4.0M166.2 66.3h2.0M171.1 66.3h2.0M177.1 66.3h1M183.1 66.3h1M161.2 67.3h1M181.1 67.3h1M164.2 68.3h3.0M165.2 69.3h3.0M169.1 69.3h1M182.1 69.3h1M167.2 70.3h1M187 70.3h1M190 70.3h2.0M177.1 71.3h8.0M162.2 72.3h5.0M168.2 72.3h1M178.1 72.3h2.0M164.2 73.3h2.0M167.2 73.3h9.9M180.1 73.3h8.0M161.2 74.3h8.0M161.2 75.3h3.0M171.1 75.3h5.0M185.1 75.3h3.0M161.2 76.3h4.0M171.1 76.3h4.0M171.1 77.3h10.9M161.2 78.3h1M178.1 78.3h1M190 79.3h3.0M165.2 80.3h7.0M173.1 80.3h2.0M190 80.3h3.0M175.1 81.3h1M179.1 81.3h1M187 81.3h1M164.2 82.3h1M167.2 82.3h2.0M178.1 82.3h3.0M161.2 83.3h2.0M161.2 84.3h9.9M174.1 84.3h1M188 84.3h5.0M161.2 85.2h3.0M191 85.2h2.0M162.2 86.2h13.9M189 86.2h4.0M167.2 87.2h2.0M178.1 87.2h2.0M161.2 88.2h2.0M164.2 88.2h5.0M161.2 89.2h7.0M176.1 89.2h1M189 89.2h4.0M168.2 90.2h4.0M173.1 90.2h1M175.1 90.2h9.9M186 90.2h3.0M161.2 91.2h1M173.1 91.2h2.0M188 91.2h5.0M163.2 92.2h8.0M183.1 92.2h8.0M192 92.2h1M180.1 93.2h1M191 93.2h2.0M164.2 94.2h1M183.1 94.2h2.0M188 94.2h4.0M174.1 95.2h1M161.2 96.2h3.0M161.2 97.2h1M161.2 98.2h1M164.2 98.2h1M167.2 98.2h1M172.1 98.2h7.0M165.2 99.2h2.0M168.2 99.2h8.9M178.1 99.2h1M161.2 100.2h9.9M178.1 100.2h3.0M190 100.2h1M192 102.2h1M161.2 103.2h8.9M169.1 104.2h1M171.1 107.2h7.0M179.1 107.2h2.0M182.1 107.2h5.0M173.1 108.2h2.0M185.1 108.2h1M165.2 109.2h10.9M183.1 109.2h4.0M179.1 110.2h1M190 110.2h3.0M164.2 111.2h5.0M191 111.2h1M161.2 112.2h4.0M177.1 112.2h7.0M190 112.2h1M161.2 113.2h1M187 113.2h1M177.1 115.2h1M187 115.2h1M189 115.2h1M191 115.2h2.0M168.2 116.2h1M170.1 116.2h7.0M179.1 116.2h1M161.2 117.2h2.0M178.1 117.2h1M181.1 117.2h1M188 117.2h3.0M192 117.2h1M162.2 118.2h7.0M186 118.2h3.0M182.1 119.2h1M187 119.2h1M161.2 120.2h3.0M167.2 120.2h3.0M162.2 121.2h2.0M182.1 121.2h1M186 121.2h2.0M161.2 123.2h3.0M172.1 123.2h7.0M161.2 124.2h3.0M171.1 124.2h5.0M190 124.2h3.0M172.1 125.2h2.0M178.1 183.1h1"/>
</g></g>
<defs>
<linearGradient id="cbA0" x1="0" x2="1" y1="0" y2="0"><stop offset="0" stop-color="#f9efe9"/><stop offset="0.5" stop-color="#e7a17e"/><stop offset="1" stop-color="#cc1414"/></linearGradient>
<linearGradient id="cbA1" x1="0" x2="1" y1="0" y2="0"><stop offset="0" stop-color="#ffffff"/><stop offset="0.5" stop-color="#9a9a9a"/><stop offset="1" stop-color="#111111"/></linearGradient>
<linearGradient id="cbA2" x1="0" x2="1" y1="0" y2="0"><stop offset="0" stop-color="#f4ede3"/><stop offset="0.5" stop-color="#b89c78"/><stop offset="1" stop-color="#6a4418"/></linearGradient>
<linearGradient id="cbA3" x1="0" x2="1" y1="0" y2="0"><stop offset="0" stop-color="#ffffff"/><stop offset="0.5" stop-color="#b9a4d9"/><stop offset="1" stop-color="#6a3fa8"/></linearGradient>
</defs>
<rect x="40.20" y="226.80" width="31.60" height="9.30" fill="url(#cbA0)"/>
<text x="42.20" y="233.50" font-size="6.5" text-anchor="start" fill="#333" stroke="#333" stroke-width="0.15">0</text>
<text x="69.80" y="233.50" font-size="6.5" text-anchor="end" fill="#fff">15</text>
<rect x="40.20" y="56.80" width="31.60" height="179.30" fill="none" stroke="#777" stroke-width="0.8"/>
<line x1="40.20" y1="226.60" x2="71.80" y2="226.60" stroke="#8a8a8a" stroke-width="0.6"/>
<rect x="80.50" y="226.80" width="32.10" height="9.30" fill="url(#cbA1)"/>
<text x="82.50" y="233.50" font-size="6.5" text-anchor="start" fill="#333" stroke="#333" stroke-width="0.15">0</text>
<text x="110.60" y="233.50" font-size="6.5" text-anchor="end" fill="#fff">15</text>
<rect x="80.50" y="56.80" width="32.10" height="179.30" fill="none" stroke="#777" stroke-width="0.8"/>
<line x1="80.50" y1="226.60" x2="112.60" y2="226.60" stroke="#8a8a8a" stroke-width="0.6"/>
<rect x="121.00" y="226.80" width="31.80" height="9.30" fill="url(#cbA2)"/>
<text x="123.00" y="233.50" font-size="6.5" text-anchor="start" fill="#333" stroke="#333" stroke-width="0.15">0</text>
<text x="150.80" y="233.50" font-size="6.5" text-anchor="end" fill="#fff">15</text>
<rect x="121.00" y="56.80" width="31.80" height="179.30" fill="none" stroke="#777" stroke-width="0.8"/>
<line x1="121.00" y1="226.60" x2="152.80" y2="226.60" stroke="#8a8a8a" stroke-width="0.6"/>
<rect x="161.20" y="226.80" width="31.80" height="9.30" fill="url(#cbA3)"/>
<text x="163.20" y="233.50" font-size="6.5" text-anchor="start" fill="#333" stroke="#333" stroke-width="0.15">0</text>
<text x="191.00" y="233.50" font-size="6.5" text-anchor="end" fill="#fff">15</text>
<rect x="161.20" y="56.80" width="31.80" height="179.30" fill="none" stroke="#777" stroke-width="0.8"/>
<line x1="161.20" y1="226.60" x2="193.00" y2="226.60" stroke="#8a8a8a" stroke-width="0.6"/>
<line x1="40.00" y1="125.50" x2="193.20" y2="125.50" stroke="#555" stroke-width="0.8"/>
<text x="33.80" y="229.00" font-size="8.2" text-anchor="end" fill="#222" stroke="#222" stroke-width="0.15">0</text>
<text x="33.80" y="202.17" font-size="8.2" text-anchor="end" fill="#222" stroke="#222" stroke-width="0.15">1000</text>
<text x="33.80" y="175.34" font-size="8.2" text-anchor="end" fill="#222" stroke="#222" stroke-width="0.15">2000</text>
<text x="33.80" y="148.51" font-size="8.2" text-anchor="end" fill="#222" stroke="#222" stroke-width="0.15">3000</text>
<text x="33.80" y="121.68" font-size="8.2" text-anchor="end" fill="#222" stroke="#222" stroke-width="0.15">4000</text>
<text x="33.80" y="94.85" font-size="8.2" text-anchor="end" fill="#222" stroke="#222" stroke-width="0.15">5000</text>
<text x="33.80" y="68.02" font-size="8.2" text-anchor="end" fill="#222" stroke="#222" stroke-width="0.15">6000</text>
<text x="56.30" y="54.00" font-size="8.2" text-anchor="start" fill="#222" transform="rotate(-45 56.30 54.00)" stroke="#222" stroke-width="0.15">PML/RAR&#945;</text>
<text x="96.50" y="54.00" font-size="8.2" text-anchor="start" fill="#222" transform="rotate(-45 96.50 54.00)" stroke="#222" stroke-width="0.15">H3K27ac</text>
<text x="137.30" y="54.00" font-size="8.2" text-anchor="start" fill="#222" transform="rotate(-45 137.30 54.00)" stroke="#222" stroke-width="0.15">H3K4me1</text>
<text x="171.80" y="54.00" font-size="8.2" text-anchor="start" fill="#222" transform="rotate(-45 171.80 54.00)" stroke="#222" stroke-width="0.15">H3K4me1</text>
<text x="183.30" y="56.00" font-size="8.2" text-anchor="start" fill="#222" transform="rotate(-45 183.30 56.00)" stroke="#222" stroke-width="0.15">(GSE30254)</text>
<text x="210.00" y="92.00" font-size="8.2" text-anchor="middle" fill="#222" transform="rotate(-90 210.00 92.00)" textLength="62" lengthAdjust="spacingAndGlyphs" stroke="#222" stroke-width="0.15">Active enhancers</text>
<line x1="39.60" y1="239.30" x2="71.40" y2="239.30" stroke="#222" stroke-width="0.9"/>
<line x1="40.00" y1="239.30" x2="40.00" y2="242.00" stroke="#222" stroke-width="0.9"/>
<line x1="55.50" y1="239.30" x2="55.50" y2="242.00" stroke="#222" stroke-width="0.9"/>
<line x1="71.00" y1="239.30" x2="71.00" y2="242.00" stroke="#222" stroke-width="0.9"/>
<text x="40.00" y="251.60" font-size="7.6" text-anchor="middle" fill="#222" stroke="#222" stroke-width="0.15">-2kb</text>
<text x="71.20" y="251.60" font-size="7.6" text-anchor="middle" fill="#222" stroke="#222" stroke-width="0.15">2kb</text>
<text x="231.90" y="16.80" font-size="12" text-anchor="start" fill="#000" font-weight="bold" textLength="7.2" lengthAdjust="spacingAndGlyphs">B</text>
<rect x="289.30" y="36.20" width="87.80" height="7.70" fill="#2d4c93"/>
<rect x="300.42" y="36.20" width="0.59" height="7.70" fill="#7c7a70"/>
<rect x="301.01" y="36.20" width="0.59" height="7.70" fill="#d49a36"/>
<rect x="302.18" y="36.20" width="0.59" height="7.70" fill="#7c7a70"/>
<rect x="302.76" y="36.20" width="0.59" height="7.70" fill="#7c7a70"/>
<rect x="305.69" y="36.20" width="0.59" height="7.70" fill="#d49a36"/>
<rect x="307.45" y="36.20" width="0.59" height="7.70" fill="#d49a36"/>
<rect x="309.20" y="36.20" width="0.59" height="7.70" fill="#7c7a70"/>
<rect x="310.37" y="36.20" width="0.59" height="7.70" fill="#7c7a70"/>
<rect x="312.13" y="36.20" width="0.59" height="7.70" fill="#7c7a70"/>
<rect x="316.81" y="36.20" width="0.59" height="7.70" fill="#d49a36"/>
<rect x="319.15" y="36.20" width="0.59" height="7.70" fill="#d49a36"/>
<rect x="320.32" y="36.20" width="0.59" height="7.70" fill="#7c7a70"/>
<rect x="321.49" y="36.20" width="0.59" height="7.70" fill="#7c7a70"/>
<rect x="323.83" y="36.20" width="0.59" height="7.70" fill="#7c7a70"/>
<rect x="324.42" y="36.20" width="0.59" height="7.70" fill="#7c7a70"/>
<rect x="327.35" y="36.20" width="0.59" height="7.70" fill="#7c7a70"/>
<rect x="328.52" y="36.20" width="0.59" height="7.70" fill="#d49a36"/>
<rect x="332.61" y="36.20" width="0.59" height="7.70" fill="#d49a36"/>
<rect x="333.20" y="36.20" width="0.59" height="7.70" fill="#7c7a70"/>
<rect x="333.79" y="36.20" width="0.59" height="7.70" fill="#d49a36"/>
<rect x="334.37" y="36.20" width="0.59" height="7.70" fill="#d49a36"/>
<rect x="334.96" y="36.20" width="0.59" height="7.70" fill="#d49a36"/>
<rect x="336.13" y="36.20" width="0.59" height="7.70" fill="#d49a36"/>
<rect x="336.71" y="36.20" width="0.59" height="7.70" fill="#7c7a70"/>
<rect x="339.64" y="36.20" width="0.59" height="7.70" fill="#d49a36"/>
<rect x="341.39" y="36.20" width="0.59" height="7.70" fill="#d49a36"/>
<rect x="342.57" y="36.20" width="0.59" height="7.70" fill="#7c7a70"/>
<rect x="346.08" y="36.20" width="0.59" height="7.70" fill="#d49a36"/>
<rect x="346.66" y="36.20" width="0.59" height="7.70" fill="#7c7a70"/>
<rect x="347.25" y="36.20" width="0.59" height="7.70" fill="#d49a36"/>
<rect x="347.83" y="36.20" width="0.59" height="7.70" fill="#7c7a70"/>
<rect x="348.42" y="36.20" width="0.59" height="7.70" fill="#7c7a70"/>
<rect x="349.59" y="36.20" width="0.59" height="7.70" fill="#7c7a70"/>
<rect x="350.17" y="36.20" width="0.59" height="7.70" fill="#d49a36"/>
<rect x="350.76" y="36.20" width="0.59" height="7.70" fill="#7c7a70"/>
<rect x="351.35" y="36.20" width="0.59" height="7.70" fill="#d49a36"/>
<rect x="352.52" y="36.20" width="0.59" height="7.70" fill="#7c7a70"/>
<rect x="353.10" y="36.20" width="0.59" height="7.70" fill="#7c7a70"/>
<rect x="354.27" y="36.20" width="0.59" height="7.70" fill="#7c7a70"/>
<rect x="354.86" y="36.20" width="0.59" height="7.70" fill="#d49a36"/>
<rect x="355.44" y="36.20" width="0.59" height="7.70" fill="#d49a36"/>
<rect x="356.03" y="36.20" width="0.59" height="7.70" fill="#7c7a70"/>
<rect x="356.61" y="36.20" width="0.59" height="7.70" fill="#d49a36"/>
<rect x="357.20" y="36.20" width="0.59" height="7.70" fill="#7c7a70"/>
<rect x="358.37" y="36.20" width="0.59" height="7.70" fill="#7c7a70"/>
<rect x="362.47" y="36.20" width="0.59" height="7.70" fill="#d49a36"/>
<rect x="363.05" y="36.20" width="0.59" height="7.70" fill="#7c7a70"/>
<rect x="363.64" y="36.20" width="0.59" height="7.70" fill="#d49a36"/>
<rect x="364.22" y="36.20" width="0.59" height="7.70" fill="#d49a36"/>
<rect x="364.81" y="36.20" width="0.59" height="7.70" fill="#7c7a70"/>
<rect x="365.39" y="36.20" width="0.59" height="7.70" fill="#d49a36"/>
<rect x="365.98" y="36.20" width="0.59" height="7.70" fill="#7c7a70"/>
<rect x="366.56" y="36.20" width="0.59" height="7.70" fill="#7c7a70"/>
<rect x="367.15" y="36.20" width="0.59" height="7.70" fill="#d49a36"/>
<rect x="367.73" y="36.20" width="0.59" height="7.70" fill="#d49a36"/>
<rect x="368.32" y="36.20" width="0.59" height="7.70" fill="#d49a36"/>
<rect x="368.91" y="36.20" width="0.59" height="7.70" fill="#7c7a70"/>
<rect x="369.49" y="36.20" width="0.59" height="7.70" fill="#d49a36"/>
<rect x="370.08" y="36.20" width="0.59" height="7.70" fill="#d49a36"/>
<rect x="370.66" y="36.20" width="0.59" height="7.70" fill="#d49a36"/>
<rect x="371.25" y="36.20" width="0.59" height="7.70" fill="#d49a36"/>
<rect x="371.83" y="36.20" width="0.59" height="7.70" fill="#d49a36"/>
<rect x="372.42" y="36.20" width="0.59" height="7.70" fill="#d49a36"/>
<rect x="373.00" y="36.20" width="0.59" height="7.70" fill="#d49a36"/>
<rect x="373.59" y="36.20" width="0.59" height="7.70" fill="#7c7a70"/>
<rect x="374.17" y="36.20" width="0.59" height="7.70" fill="#d49a36"/>
<rect x="374.76" y="36.20" width="0.59" height="7.70" fill="#d49a36"/>
<rect x="375.34" y="36.20" width="0.59" height="7.70" fill="#d49a36"/>
<rect x="375.93" y="36.20" width="0.59" height="7.70" fill="#d49a36"/>
<rect x="376.51" y="36.20" width="0.59" height="7.70" fill="#d49a36"/>
<rect x="289.30" y="36.20" width="87.80" height="7.70" fill="none" stroke="#3a3a3a" stroke-width="0.6"/>
<rect x="286.30" y="45.00" width="94.00" height="65.80" fill="none" stroke="#111" stroke-width="1.1"/>
<line x1="283.50" y1="108.50" x2="286.30" y2="108.50" stroke="#111" stroke-width="0.9"/>
<text x="280.50" y="111.50" font-size="8.8" text-anchor="end" fill="#222" textLength="4.75" lengthAdjust="spacingAndGlyphs" stroke="#222" stroke-width="0.15">0</text>
<line x1="283.50" y1="97.56" x2="286.30" y2="97.56" stroke="#111" stroke-width="0.9"/>
<text x="280.50" y="100.56" font-size="8.8" text-anchor="end" fill="#222" textLength="23.75" lengthAdjust="spacingAndGlyphs" stroke="#222" stroke-width="0.15">50000</text>
<line x1="283.50" y1="86.62" x2="286.30" y2="86.62" stroke="#111" stroke-width="0.9"/>
<text x="280.50" y="89.62" font-size="8.8" text-anchor="end" fill="#222" textLength="28.5" lengthAdjust="spacingAndGlyphs" stroke="#222" stroke-width="0.15">100000</text>
<line x1="283.50" y1="75.68" x2="286.30" y2="75.68" stroke="#111" stroke-width="0.9"/>
<text x="280.50" y="78.68" font-size="8.8" text-anchor="end" fill="#222" textLength="28.5" lengthAdjust="spacingAndGlyphs" stroke="#222" stroke-width="0.15">150000</text>
<line x1="283.50" y1="64.74" x2="286.30" y2="64.74" stroke="#111" stroke-width="0.9"/>
<text x="280.50" y="67.74" font-size="8.8" text-anchor="end" fill="#222" textLength="28.5" lengthAdjust="spacingAndGlyphs" stroke="#222" stroke-width="0.15">200000</text>
<line x1="283.50" y1="53.80" x2="286.30" y2="53.80" stroke="#111" stroke-width="0.9"/>
<text x="280.50" y="56.80" font-size="8.8" text-anchor="end" fill="#222" textLength="28.5" lengthAdjust="spacingAndGlyphs" stroke="#222" stroke-width="0.15">250000</text>
<line x1="289.60" y1="110.80" x2="289.60" y2="113.60" stroke="#111" stroke-width="0.9"/>
<line x1="305.60" y1="110.80" x2="305.60" y2="113.60" stroke="#111" stroke-width="0.9"/>
<line x1="321.60" y1="110.80" x2="321.60" y2="113.60" stroke="#111" stroke-width="0.9"/>
<line x1="337.60" y1="110.80" x2="337.60" y2="113.60" stroke="#111" stroke-width="0.9"/>
<line x1="353.60" y1="110.80" x2="353.60" y2="113.60" stroke="#111" stroke-width="0.9"/>
<line x1="369.60" y1="110.80" x2="369.60" y2="113.60" stroke="#111" stroke-width="0.9"/>
<text x="289.60" y="124.00" font-size="8.0" text-anchor="middle" fill="#222" stroke="#222" stroke-width="0.15">0</text>
<text x="321.60" y="124.00" font-size="8.0" text-anchor="middle" fill="#222" stroke="#222" stroke-width="0.15">4000</text>
<text x="353.60" y="124.00" font-size="8.0" text-anchor="middle" fill="#222" stroke="#222" stroke-width="0.15">8000</text>
<polyline points="289.60,108.50 290.47,108.49 291.33,108.48 292.19,108.47 293.05,108.46 293.89,108.45 294.73,108.44 295.57,108.43 296.40,108.43 297.22,108.42 298.04,108.41 298.86,108.40 299.66,108.39 300.46,108.38 301.26,108.37 302.05,108.36 302.84,108.35 303.62,108.34 304.39,108.33 305.16,108.33 305.92,108.32 306.68,108.31 307.43,108.30 308.18,108.29 308.92,108.28 309.66,108.27 310.39,108.27 311.11,108.26 311.83,108.25 312.55,108.24 313.26,108.23 313.96,108.22 314.66,108.21 315.36,108.21 316.05,108.20 316.73,108.19 317.41,108.18 318.08,108.17 318.75,108.17 319.41,108.16 320.07,108.15 320.72,108.14 321.37,108.13 322.02,108.12 322.65,108.12 323.29,108.11 323.92,108.10 324.54,108.09 325.16,108.08 325.77,108.08 326.38,108.07 326.98,108.06 327.58,108.05 328.18,108.04 328.77,108.04 329.35,108.03 329.93,108.02 330.51,108.01 331.08,108.01 331.64,108.00 332.20,107.99 332.76,107.98 333.31,107.97 333.86,107.97 334.40,107.96 334.94,107.95 335.47,107.94 336.00,107.93 336.52,107.93 337.04,107.92 337.56,107.91 338.07,107.90 338.58,107.90 339.08,107.89 339.58,107.88 340.07,107.87 340.56,107.86 341.04,107.86 341.52,107.85 342.00,107.84 342.47,107.83 342.94,107.82 343.40,107.82 343.86,107.81 344.32,107.80 344.77,107.79 345.21,107.78 345.65,107.78 346.09,107.77 346.53,107.76 346.96,107.75 347.38,107.74 347.80,107.74 348.22,107.73 348.63,107.72 349.04,107.71 349.45,107.70 349.85,107.69 350.25,107.69 350.64,107.68 351.03,107.67 351.42,107.66 351.80,107.65 352.18,107.64 352.55,107.63 352.93,107.62 353.29,107.61 353.66,107.61 354.01,107.60 354.37,107.59 354.72,107.58 355.07,107.57 355.42,107.56 355.76,107.55 356.09,107.54 356.43,107.53 356.76,107.52 357.08,107.51 357.41,107.50 357.73,107.49 358.04,107.48 358.36,107.47 358.66,107.46 358.97,107.45 359.27,107.44 359.57,107.43 359.87,107.41 360.16,107.40 360.45,107.39 360.73,107.38 361.01,107.37 361.29,107.36 361.57,107.34 361.84,107.33 362.11,107.32 362.38,107.31 362.64,107.29 362.90,107.28 363.15,107.27 363.41,107.25 363.66,107.24 363.90,107.22 364.15,107.21 364.39,107.19 364.62,107.18 364.86,107.16 365.09,107.15 365.32,107.13 365.55,107.12 365.77,107.10 365.99,107.08 366.20,107.06 366.42,107.05 366.63,107.03 366.84,107.01 367.04,106.99 367.25,106.97 367.45,106.95 367.64,106.93 367.84,106.91 368.03,106.89 368.22,106.87 368.40,106.84 368.59,106.82 368.77,106.80 368.94,106.77 369.12,106.75 369.29,106.72 369.46,106.70 369.63,106.67 369.80,106.64 369.96,106.61 370.12,106.59 370.28,106.56 370.43,106.52 370.58,106.49 370.74,106.46 370.88,106.43 371.03,106.39 371.17,106.36 371.31,106.32 371.45,106.28 371.59,106.24 371.72,106.20 371.85,106.16 371.98,106.12 372.11,106.07 372.23,106.03 372.36,105.98 372.48,105.93 372.60,105.88 372.71,105.83 372.83,105.77 372.94,105.72 373.05,105.66 373.16,105.60 373.26,105.54 373.37,105.47 373.47,105.41 373.57,105.34 373.67,105.27 373.76,105.19 373.86,105.12 373.95,105.04 374.04,104.95 374.13,104.87 374.21,104.78 374.30,104.68 374.38,104.59 374.46,104.49 374.54,104.38 374.62,104.27 374.70,104.16 374.77,104.04 374.84,103.91 374.91,103.79 374.98,103.65 375.05,103.51 375.12,103.36 375.18,103.21 375.24,103.05 375.31,102.89 375.37,102.71 375.42,102.53 375.48,102.34 375.54,102.14 375.59,101.93 375.64,101.71 375.69,101.48 375.74,101.24 375.79,100.99 375.84,100.72 375.88,100.45 375.93,100.16 375.97,99.85 376.01,99.53 376.05,99.20 376.09,98.84 376.13,98.47 376.17,98.08 376.20,97.67 376.24,97.24 376.27,96.79 376.30,96.31 376.33,95.81 376.36,95.29 376.39,94.73 376.42,94.15 376.45,93.54 376.47,92.90 376.50,92.22 376.52,91.51 376.54,90.76 376.56,89.98 376.59,89.16 376.61,88.30 376.62,87.40 376.64,86.46 376.66,85.48 376.68,84.45 376.69,83.38 376.71,82.27 376.72,81.12 376.74,79.92 376.75,78.68 376.76,77.41 376.77,76.09 376.78,74.75 376.79,73.37 376.80,71.97 376.81,70.55 376.82,69.11 376.83,67.66 376.84,66.22 376.84,64.78 376.85,63.35 376.86,61.95 376.86,60.58 376.87,59.25 376.87,57.97 376.87,56.74 376.88,55.58 376.88,54.49 376.88,53.47 376.89,52.53 376.89,51.68 376.89,50.91 376.89,50.23 376.89,49.62 376.90,49.11 376.90,48.67 376.90,48.30 376.90,48.01 376.90,47.78 376.90,47.60 376.90,47.47 376.90,47.39 376.90,47.34 376.90,47.31 376.90,47.30 376.90,47.30" fill="none" stroke="#c0304c" stroke-width="1.3"/>
<text x="333.40" y="56.00" font-size="8.5" text-anchor="middle" fill="#222" textLength="14.5" lengthAdjust="spacingAndGlyphs" stroke="#222" stroke-width="0.15">NB4</text>
<path d="M383.00 47.50H388.50V103.50H383.00" fill="none" stroke="#111" stroke-width="1"/>
<text x="398.00" y="75.50" font-size="8" text-anchor="middle" fill="#222" transform="rotate(-90 398.00 75.50)" stroke="#222" stroke-width="0.15">427 super-enhancers</text>
<rect x="289.50" y="141.75" width="87.30" height="8.25" fill="#2d4c93"/>
<rect x="291.25" y="141.75" width="0.58" height="8.25" fill="#7c7a70"/>
<rect x="291.83" y="141.75" width="0.58" height="8.25" fill="#d49a36"/>
<rect x="292.41" y="141.75" width="0.58" height="8.25" fill="#7c7a70"/>
<rect x="293.57" y="141.75" width="0.58" height="8.25" fill="#d49a36"/>
<rect x="294.16" y="141.75" width="0.58" height="8.25" fill="#d49a36"/>
<rect x="295.90" y="141.75" width="0.58" height="8.25" fill="#7c7a70"/>
<rect x="298.81" y="141.75" width="0.58" height="8.25" fill="#7c7a70"/>
<rect x="300.56" y="141.75" width="0.58" height="8.25" fill="#d49a36"/>
<rect x="301.72" y="141.75" width="0.58" height="8.25" fill="#7c7a70"/>
<rect x="302.89" y="141.75" width="0.58" height="8.25" fill="#d49a36"/>
<rect x="304.63" y="141.75" width="0.58" height="8.25" fill="#7c7a70"/>
<rect x="306.38" y="141.75" width="0.58" height="8.25" fill="#d49a36"/>
<rect x="307.54" y="141.75" width="0.58" height="8.25" fill="#d49a36"/>
<rect x="309.29" y="141.75" width="0.58" height="8.25" fill="#7c7a70"/>
<rect x="309.87" y="141.75" width="0.58" height="8.25" fill="#7c7a70"/>
<rect x="311.03" y="141.75" width="0.58" height="8.25" fill="#7c7a70"/>
<rect x="311.62" y="141.75" width="0.58" height="8.25" fill="#d49a36"/>
<rect x="313.94" y="141.75" width="0.58" height="8.25" fill="#7c7a70"/>
<rect x="314.53" y="141.75" width="0.58" height="8.25" fill="#7c7a70"/>
<rect x="316.85" y="141.75" width="0.58" height="8.25" fill="#7c7a70"/>
<rect x="317.44" y="141.75" width="0.58" height="8.25" fill="#d49a36"/>
<rect x="318.60" y="141.75" width="0.58" height="8.25" fill="#d49a36"/>
<rect x="319.76" y="141.75" width="0.58" height="8.25" fill="#7c7a70"/>
<rect x="320.93" y="141.75" width="0.58" height="8.25" fill="#7c7a70"/>
<rect x="322.67" y="141.75" width="0.58" height="8.25" fill="#d49a36"/>
<rect x="325.00" y="141.75" width="0.58" height="8.25" fill="#7c7a70"/>
<rect x="325.58" y="141.75" width="0.58" height="8.25" fill="#d49a36"/>
<rect x="326.75" y="141.75" width="0.58" height="8.25" fill="#d49a36"/>
<rect x="328.49" y="141.75" width="0.58" height="8.25" fill="#7c7a70"/>
<rect x="329.66" y="141.75" width="0.58" height="8.25" fill="#d49a36"/>
<rect x="330.24" y="141.75" width="0.58" height="8.25" fill="#7c7a70"/>
<rect x="331.40" y="141.75" width="0.58" height="8.25" fill="#7c7a70"/>
<rect x="335.48" y="141.75" width="0.58" height="8.25" fill="#d49a36"/>
<rect x="337.22" y="141.75" width="0.58" height="8.25" fill="#7c7a70"/>
<rect x="338.39" y="141.75" width="0.58" height="8.25" fill="#7c7a70"/>
<rect x="339.55" y="141.75" width="0.58" height="8.25" fill="#d49a36"/>
<rect x="340.13" y="141.75" width="0.58" height="8.25" fill="#7c7a70"/>
<rect x="340.72" y="141.75" width="0.58" height="8.25" fill="#d49a36"/>
<rect x="341.30" y="141.75" width="0.58" height="8.25" fill="#7c7a70"/>
<rect x="343.63" y="141.75" width="0.58" height="8.25" fill="#d49a36"/>
<rect x="344.79" y="141.75" width="0.58" height="8.25" fill="#d49a36"/>
<rect x="345.95" y="141.75" width="0.58" height="8.25" fill="#d49a36"/>
<rect x="346.54" y="141.75" width="0.58" height="8.25" fill="#7c7a70"/>
<rect x="347.12" y="141.75" width="0.58" height="8.25" fill="#d49a36"/>
<rect x="348.86" y="141.75" width="0.58" height="8.25" fill="#d49a36"/>
<rect x="349.45" y="141.75" width="0.58" height="8.25" fill="#7c7a70"/>
<rect x="350.03" y="141.75" width="0.58" height="8.25" fill="#d49a36"/>
<rect x="350.61" y="141.75" width="0.58" height="8.25" fill="#7c7a70"/>
<rect x="351.19" y="141.75" width="0.58" height="8.25" fill="#7c7a70"/>
<rect x="351.77" y="141.75" width="0.58" height="8.25" fill="#d49a36"/>
<rect x="352.94" y="141.75" width="0.58" height="8.25" fill="#d49a36"/>
<rect x="353.52" y="141.75" width="0.58" height="8.25" fill="#7c7a70"/>
<rect x="354.10" y="141.75" width="0.58" height="8.25" fill="#d49a36"/>
<rect x="354.68" y="141.75" width="0.58" height="8.25" fill="#d49a36"/>
<rect x="355.27" y="141.75" width="0.58" height="8.25" fill="#d49a36"/>
<rect x="355.85" y="141.75" width="0.58" height="8.25" fill="#d49a36"/>
<rect x="357.59" y="141.75" width="0.58" height="8.25" fill="#7c7a70"/>
<rect x="358.18" y="141.75" width="0.58" height="8.25" fill="#d49a36"/>
<rect x="358.76" y="141.75" width="0.58" height="8.25" fill="#7c7a70"/>
<rect x="359.92" y="141.75" width="0.58" height="8.25" fill="#d49a36"/>
<rect x="361.09" y="141.75" width="0.58" height="8.25" fill="#d49a36"/>
<rect x="361.67" y="141.75" width="0.58" height="8.25" fill="#7c7a70"/>
<rect x="362.83" y="141.75" width="0.58" height="8.25" fill="#7c7a70"/>
<rect x="363.41" y="141.75" width="0.58" height="8.25" fill="#7c7a70"/>
<rect x="364.00" y="141.75" width="0.58" height="8.25" fill="#7c7a70"/>
<rect x="364.58" y="141.75" width="0.58" height="8.25" fill="#d49a36"/>
<rect x="365.16" y="141.75" width="0.58" height="8.25" fill="#d49a36"/>
<rect x="365.74" y="141.75" width="0.58" height="8.25" fill="#d49a36"/>
<rect x="366.32" y="141.75" width="0.58" height="8.25" fill="#d49a36"/>
<rect x="366.91" y="141.75" width="0.58" height="8.25" fill="#d49a36"/>
<rect x="367.49" y="141.75" width="0.58" height="8.25" fill="#d49a36"/>
<rect x="368.07" y="141.75" width="0.58" height="8.25" fill="#d49a36"/>
<rect x="368.65" y="141.75" width="0.58" height="8.25" fill="#7c7a70"/>
<rect x="369.82" y="141.75" width="0.58" height="8.25" fill="#d49a36"/>
<rect x="370.40" y="141.75" width="0.58" height="8.25" fill="#d49a36"/>
<rect x="370.98" y="141.75" width="0.58" height="8.25" fill="#d49a36"/>
<rect x="371.56" y="141.75" width="0.58" height="8.25" fill="#d49a36"/>
<rect x="372.14" y="141.75" width="0.58" height="8.25" fill="#7c7a70"/>
<rect x="372.73" y="141.75" width="0.58" height="8.25" fill="#7c7a70"/>
<rect x="373.31" y="141.75" width="0.58" height="8.25" fill="#d49a36"/>
<rect x="373.89" y="141.75" width="0.58" height="8.25" fill="#d49a36"/>
<rect x="374.47" y="141.75" width="0.58" height="8.25" fill="#d49a36"/>
<rect x="375.05" y="141.75" width="0.58" height="8.25" fill="#7c7a70"/>
<rect x="375.64" y="141.75" width="0.58" height="8.25" fill="#d49a36"/>
<rect x="376.22" y="141.75" width="0.58" height="8.25" fill="#7c7a70"/>
<rect x="289.50" y="141.75" width="87.30" height="8.25" fill="none" stroke="#3a3a3a" stroke-width="0.6"/>
<rect x="286.50" y="151.25" width="93.50" height="65.75" fill="none" stroke="#111" stroke-width="1.1"/>
<line x1="283.70" y1="214.50" x2="286.50" y2="214.50" stroke="#111" stroke-width="0.9"/>
<text x="280.70" y="217.50" font-size="8.8" text-anchor="end" fill="#222" textLength="4.75" lengthAdjust="spacingAndGlyphs" stroke="#222" stroke-width="0.15">0</text>
<line x1="283.70" y1="203.85" x2="286.50" y2="203.85" stroke="#111" stroke-width="0.9"/>
<text x="280.70" y="206.85" font-size="8.8" text-anchor="end" fill="#222" textLength="23.75" lengthAdjust="spacingAndGlyphs" stroke="#222" stroke-width="0.15">50000</text>
<line x1="283.70" y1="193.20" x2="286.50" y2="193.20" stroke="#111" stroke-width="0.9"/>
<text x="280.70" y="196.20" font-size="8.8" text-anchor="end" fill="#222" textLength="28.5" lengthAdjust="spacingAndGlyphs" stroke="#222" stroke-width="0.15">100000</text>
<line x1="283.70" y1="182.55" x2="286.50" y2="182.55" stroke="#111" stroke-width="0.9"/>
<text x="280.70" y="185.55" font-size="8.8" text-anchor="end" fill="#222" textLength="28.5" lengthAdjust="spacingAndGlyphs" stroke="#222" stroke-width="0.15">150000</text>
<line x1="283.70" y1="171.90" x2="286.50" y2="171.90" stroke="#111" stroke-width="0.9"/>
<text x="280.70" y="174.90" font-size="8.8" text-anchor="end" fill="#222" textLength="28.5" lengthAdjust="spacingAndGlyphs" stroke="#222" stroke-width="0.15">200000</text>
<line x1="283.70" y1="161.25" x2="286.50" y2="161.25" stroke="#111" stroke-width="0.9"/>
<text x="280.70" y="164.25" font-size="8.8" text-anchor="end" fill="#222" textLength="28.5" lengthAdjust="spacingAndGlyphs" stroke="#222" stroke-width="0.15">250000</text>
<line x1="289.50" y1="217.00" x2="289.50" y2="219.80" stroke="#111" stroke-width="0.9"/>
<line x1="303.75" y1="217.00" x2="303.75" y2="219.80" stroke="#111" stroke-width="0.9"/>
<line x1="318.00" y1="217.00" x2="318.00" y2="219.80" stroke="#111" stroke-width="0.9"/>
<line x1="332.25" y1="217.00" x2="332.25" y2="219.80" stroke="#111" stroke-width="0.9"/>
<line x1="346.50" y1="217.00" x2="346.50" y2="219.80" stroke="#111" stroke-width="0.9"/>
<line x1="360.75" y1="217.00" x2="360.75" y2="219.80" stroke="#111" stroke-width="0.9"/>
<line x1="375.00" y1="217.00" x2="375.00" y2="219.80" stroke="#111" stroke-width="0.9"/>
<text x="289.50" y="230.20" font-size="8.0" text-anchor="middle" fill="#222" stroke="#222" stroke-width="0.15">0</text>
<text x="318.00" y="230.20" font-size="8.0" text-anchor="middle" fill="#222" stroke="#222" stroke-width="0.15">4000</text>
<text x="346.50" y="230.20" font-size="8.0" text-anchor="middle" fill="#222" stroke="#222" stroke-width="0.15">8000</text>
<text x="375.00" y="230.20" font-size="8.0" text-anchor="middle" fill="#222" stroke="#222" stroke-width="0.15">12000</text>
<polyline points="289.50,214.50 290.38,214.48 291.25,214.47 292.12,214.45 292.99,214.43 293.84,214.42 294.69,214.40 295.54,214.38 296.38,214.37 297.21,214.35 298.04,214.33 298.86,214.32 299.68,214.30 300.49,214.28 301.29,214.27 302.09,214.25 302.89,214.23 303.68,214.22 304.46,214.20 305.24,214.18 306.01,214.16 306.78,214.15 307.54,214.13 308.29,214.11 309.04,214.09 309.79,214.08 310.53,214.06 311.26,214.04 311.99,214.02 312.71,214.01 313.43,213.99 314.14,213.97 314.85,213.95 315.55,213.93 316.25,213.91 316.94,213.90 317.63,213.88 318.31,213.86 318.98,213.84 319.65,213.82 320.32,213.80 320.98,213.78 321.64,213.76 322.29,213.74 322.93,213.72 323.57,213.70 324.21,213.68 324.84,213.66 325.46,213.64 326.08,213.62 326.70,213.60 327.31,213.58 327.92,213.56 328.52,213.54 329.11,213.51 329.71,213.49 330.29,213.47 330.87,213.45 331.45,213.43 332.02,213.40 332.59,213.38 333.15,213.36 333.71,213.34 334.26,213.31 334.81,213.29 335.36,213.26 335.90,213.24 336.43,213.22 336.96,213.19 337.49,213.17 338.01,213.14 338.53,213.12 339.04,213.09 339.55,213.06 340.05,213.04 340.55,213.01 341.04,212.98 341.53,212.96 342.02,212.93 342.50,212.90 342.98,212.87 343.45,212.84 343.92,212.81 344.38,212.78 344.84,212.75 345.30,212.72 345.75,212.69 346.20,212.66 346.64,212.63 347.08,212.60 347.51,212.57 347.94,212.53 348.37,212.50 348.79,212.46 349.21,212.43 349.63,212.40 350.04,212.36 350.44,212.32 350.84,212.29 351.24,212.25 351.64,212.21 352.03,212.17 352.41,212.13 352.80,212.10 353.18,212.06 353.55,212.01 353.92,211.97 354.29,211.93 354.65,211.89 355.01,211.84 355.37,211.80 355.72,211.75 356.07,211.71 356.41,211.66 356.76,211.61 357.09,211.56 357.43,211.52 357.76,211.46 358.08,211.41 358.41,211.36 358.73,211.31 359.04,211.25 359.36,211.20 359.67,211.14 359.97,211.09 360.27,211.03 360.57,210.97 360.87,210.91 361.16,210.85 361.45,210.78 361.73,210.72 362.01,210.65 362.29,210.59 362.57,210.52 362.84,210.45 363.11,210.38 363.37,210.30 363.64,210.23 363.90,210.15 364.15,210.08 364.40,210.00 364.65,209.92 364.90,209.83 365.14,209.75 365.38,209.66 365.62,209.58 365.86,209.49 366.09,209.40 366.32,209.30 366.54,209.21 366.76,209.11 366.98,209.01 367.20,208.91 367.41,208.80 367.62,208.69 367.83,208.58 368.03,208.47 368.24,208.36 368.44,208.24 368.63,208.12 368.83,208.00 369.02,207.87 369.21,207.74 369.39,207.61 369.57,207.47 369.75,207.33 369.93,207.19 370.11,207.05 370.28,206.90 370.45,206.75 370.61,206.59 370.78,206.43 370.94,206.27 371.10,206.10 371.26,205.92 371.41,205.75 371.56,205.57 371.71,205.38 371.86,205.19 372.01,205.00 372.15,204.79 372.29,204.59 372.43,204.38 372.56,204.16 372.70,203.94 372.83,203.71 372.95,203.48 373.08,203.24 373.21,203.00 373.33,202.75 373.45,202.49 373.56,202.22 373.68,201.95 373.79,201.67 373.90,201.39 374.01,201.10 374.12,200.79 374.23,200.49 374.33,200.17 374.43,199.85 374.53,199.51 374.63,199.17 374.72,198.82 374.82,198.46 374.91,198.10 375.00,197.72 375.08,197.33 375.17,196.94 375.25,196.53 375.34,196.12 375.42,195.69 375.49,195.26 375.57,194.81 375.65,194.35 375.72,193.88 375.79,193.41 375.86,192.92 375.93,192.42 376.00,191.90 376.06,191.38 376.13,190.85 376.19,190.30 376.25,189.75 376.31,189.18 376.36,188.60 376.42,188.01 376.47,187.41 376.53,186.80 376.58,186.17 376.63,185.54 376.68,184.90 376.73,184.24 376.77,183.58 376.82,182.91 376.86,182.23 376.90,181.54 376.94,180.84 376.98,180.13 377.02,179.42 377.06,178.70 377.09,177.98 377.13,177.25 377.16,176.51 377.19,175.78 377.23,175.04 377.26,174.30 377.29,173.56 377.31,172.82 377.34,172.08 377.37,171.34 377.39,170.61 377.42,169.88 377.44,169.16 377.46,168.45 377.48,167.74 377.50,167.04 377.52,166.36 377.54,165.68 377.56,165.02 377.57,164.37 377.59,163.74 377.61,163.12 377.62,162.52 377.63,161.94 377.65,161.37 377.66,160.83 377.67,160.30 377.68,159.80 377.69,159.31 377.70,158.85 377.71,158.41 377.72,157.99 377.73,157.59 377.74,157.22 377.74,156.87 377.75,156.54 377.75,156.23 377.76,155.94 377.77,155.68 377.77,155.43 377.77,155.21 377.78,155.01 377.78,154.82 377.78,154.65 377.79,154.51 377.79,154.37 377.79,154.26 377.79,154.16 377.79,154.07 377.80,154.00 377.80,153.94 377.80,153.89 377.80,153.85 377.80,153.81 377.80,153.79 377.80,153.77 377.80,153.76 377.80,153.76 377.80,153.75 377.80,153.75 377.80,153.75" fill="none" stroke="#c0304c" stroke-width="1.3"/>
<text x="335.50" y="162.00" font-size="8.5" text-anchor="middle" fill="#222" textLength="51.8" lengthAdjust="spacingAndGlyphs" stroke="#222" stroke-width="0.15">Primary APL #3</text>
<path d="M382.00 153.50H387.50V209.50H382.00" fill="none" stroke="#111" stroke-width="1"/>
<text x="397.00" y="181.50" font-size="8" text-anchor="middle" fill="#222" transform="rotate(-90 397.00 181.50)" stroke="#222" stroke-width="0.15">800 super-enhancers</text>
<text x="248.20" y="73.00" font-size="9.6" text-anchor="middle" fill="#222" transform="rotate(-90 248.20 73.00)" textLength="92.5" lengthAdjust="spacingAndGlyphs" stroke="#222" stroke-width="0.15">H3K27 ac signal at enhancers</text>
<text x="248.20" y="184.00" font-size="9.6" text-anchor="middle" fill="#222" transform="rotate(-90 248.20 184.00)" textLength="94.5" lengthAdjust="spacingAndGlyphs" stroke="#222" stroke-width="0.15">H3K27 ac signal at enhancers</text>
<text x="333.30" y="243.00" font-size="9.3" text-anchor="middle" fill="#222" textLength="124.6" lengthAdjust="spacingAndGlyphs" stroke="#222" stroke-width="0.15">Enhancers ranked by H3K27ac signal</text>
<text x="415.90" y="16.90" font-size="12" text-anchor="start" fill="#000" font-weight="bold" textLength="7.9" lengthAdjust="spacingAndGlyphs">C</text>
<text x="424.40" y="34.20" font-size="8" text-anchor="start" fill="#222" textLength="15.2" lengthAdjust="spacingAndGlyphs" stroke="#222" stroke-width="0.15">NB4</text>
<text x="482.50" y="45.70" font-size="8" text-anchor="middle" fill="#222" textLength="56.9" lengthAdjust="spacingAndGlyphs" stroke="#222" stroke-width="0.15">Super-enhancer</text>
<path d="M480.20 67.60L493.53 62.71A14.20 14.20 0 1 1 480.20 53.40Z" fill="#d98d1c"/>
<path d="M481.29 66.04L481.29 51.84A14.20 14.20 0 0 1 494.62 61.15Z" fill="#2b4a86"/>
<text x="490.80" y="62.10" font-size="7.2" text-anchor="middle" fill="#222" textLength="17.97" lengthAdjust="spacingAndGlyphs" stroke="#222" stroke-width="0.15">19.4%</text>
<text x="480.70" y="75.60" font-size="7.2" text-anchor="middle" fill="#222" textLength="17.97" lengthAdjust="spacingAndGlyphs" stroke="#222" stroke-width="0.15">80.6%</text>
<text x="482.50" y="94.00" font-size="8" text-anchor="middle" fill="#222" textLength="58.5" lengthAdjust="spacingAndGlyphs" stroke="#222" stroke-width="0.15">Typical-enhancer</text>
<path d="M485.80 116.50L485.80 102.30A14.20 14.20 0 1 1 472.60 111.27Z" fill="#2b4a86"/>
<path d="M484.73 114.93L471.53 109.70A14.20 14.20 0 0 1 484.73 100.73Z" fill="#d98d1c"/>
<text x="474.00" y="109.50" font-size="7.2" text-anchor="middle" fill="#222" textLength="17.97" lengthAdjust="spacingAndGlyphs" stroke="#222" stroke-width="0.15">19.0%</text>
<text x="485.80" y="124.00" font-size="7.2" text-anchor="middle" fill="#222" textLength="17.97" lengthAdjust="spacingAndGlyphs" stroke="#222" stroke-width="0.15">81.0%</text>
<text x="424.20" y="149.40" font-size="8" text-anchor="start" fill="#222" textLength="55.0" lengthAdjust="spacingAndGlyphs" stroke="#222" stroke-width="0.15">Primary APL #7</text>
<text x="482.50" y="160.80" font-size="8" text-anchor="middle" fill="#222" textLength="56.6" lengthAdjust="spacingAndGlyphs" stroke="#222" stroke-width="0.15">Super-enhancer</text>
<path d="M479.00 182.30L487.71 193.39A14.10 14.10 0 1 1 479.00 168.20Z" fill="#d98d1c"/>
<path d="M480.70 181.71L480.70 167.61A14.10 14.10 0 0 1 489.41 192.80Z" fill="#2b4a86"/>
<text x="491.00" y="181.50" font-size="7.2" text-anchor="middle" fill="#222" textLength="19.73" lengthAdjust="spacingAndGlyphs" stroke="#222" stroke-width="0.15">39.4 %</text>
<text x="476.70" y="190.90" font-size="7.2" text-anchor="middle" fill="#222" textLength="19.73" lengthAdjust="spacingAndGlyphs" stroke="#222" stroke-width="0.15">60.6 %</text>
<text x="482.50" y="209.20" font-size="8" text-anchor="middle" fill="#222" textLength="58.8" lengthAdjust="spacingAndGlyphs" stroke="#222" stroke-width="0.15">Typical-enhancer</text>
<path d="M485.90 231.00L485.90 216.80A14.20 14.20 0 1 1 472.04 227.90Z" fill="#2b4a86"/>
<path d="M484.71 229.52L470.85 226.42A14.20 14.20 0 0 1 484.71 215.32Z" fill="#d98d1c"/>
<text x="474.40" y="224.60" font-size="7.2" text-anchor="middle" fill="#222" textLength="19.73" lengthAdjust="spacingAndGlyphs" stroke="#222" stroke-width="0.15">21.5 %</text>
<text x="484.70" y="240.00" font-size="7.2" text-anchor="middle" fill="#222" textLength="19.73" lengthAdjust="spacingAndGlyphs" stroke="#222" stroke-width="0.15">78.5 %</text>
<text x="7.80" y="279.00" font-size="12" text-anchor="start" fill="#000" font-weight="bold" textLength="7.8" lengthAdjust="spacingAndGlyphs">D</text>
<rect x="142.30" y="301.00" width="21.60" height="55.20" fill="#c8c8cd"/>
<rect x="50.00" y="290.20" width="118.40" height="66.00" fill="none" stroke="#111" stroke-width="1.1"/>
<line x1="50.00" y1="301.50" x2="168.40" y2="301.50" stroke="#333" stroke-width="1"/>
<line x1="47.00" y1="292.27" x2="50.00" y2="292.27" stroke="#111" stroke-width="0.9"/>
<text x="42.50" y="295.37" font-size="8.8" text-anchor="end" fill="#222" textLength="10.28" lengthAdjust="spacingAndGlyphs" stroke="#222" stroke-width="0.15">0.1</text>
<line x1="47.00" y1="301.00" x2="50.00" y2="301.00" stroke="#111" stroke-width="0.9"/>
<text x="42.50" y="304.10" font-size="8.8" text-anchor="end" fill="#222" textLength="10.28" lengthAdjust="spacingAndGlyphs" stroke="#222" stroke-width="0.15">0.0</text>
<line x1="47.00" y1="309.73" x2="50.00" y2="309.73" stroke="#111" stroke-width="0.9"/>
<text x="42.50" y="312.83" font-size="8.8" text-anchor="end" fill="#222" textLength="12.74" lengthAdjust="spacingAndGlyphs" stroke="#222" stroke-width="0.15">-0.1</text>
<line x1="47.00" y1="318.46" x2="50.00" y2="318.46" stroke="#111" stroke-width="0.9"/>
<text x="42.50" y="321.56" font-size="8.8" text-anchor="end" fill="#222" textLength="12.74" lengthAdjust="spacingAndGlyphs" stroke="#222" stroke-width="0.15">-0.2</text>
<line x1="47.00" y1="327.19" x2="50.00" y2="327.19" stroke="#111" stroke-width="0.9"/>
<text x="42.50" y="330.29" font-size="8.8" text-anchor="end" fill="#222" textLength="12.74" lengthAdjust="spacingAndGlyphs" stroke="#222" stroke-width="0.15">-0.3</text>
<line x1="47.00" y1="335.92" x2="50.00" y2="335.92" stroke="#111" stroke-width="0.9"/>
<text x="42.50" y="339.02" font-size="8.8" text-anchor="end" fill="#222" textLength="12.74" lengthAdjust="spacingAndGlyphs" stroke="#222" stroke-width="0.15">-0.4</text>
<line x1="47.00" y1="344.65" x2="50.00" y2="344.65" stroke="#111" stroke-width="0.9"/>
<text x="42.50" y="347.75" font-size="8.8" text-anchor="end" fill="#222" textLength="12.74" lengthAdjust="spacingAndGlyphs" stroke="#222" stroke-width="0.15">-0.5</text>
<line x1="47.00" y1="353.38" x2="50.00" y2="353.38" stroke="#111" stroke-width="0.9"/>
<text x="42.50" y="356.48" font-size="8.8" text-anchor="end" fill="#222" textLength="12.74" lengthAdjust="spacingAndGlyphs" stroke="#222" stroke-width="0.15">-0.6</text>
<polyline points="54.20,301.50 54.83,301.78 55.47,302.07 56.10,302.35 56.73,302.63 57.37,302.92 58.00,303.20 58.97,303.68 59.93,304.17 60.90,304.65 61.87,305.13 62.83,305.62 63.80,306.10 65.35,307.25 66.90,308.40 68.45,309.55 70.00,310.70 71.55,311.85 73.10,313.00 75.02,314.53 76.93,316.07 78.85,317.60 80.77,319.13 82.68,320.67 84.60,322.20 86.53,323.55 88.47,324.90 90.40,326.25 92.33,327.60 94.27,328.95 96.20,330.30 98.12,331.45 100.03,332.60 101.95,333.75 103.87,334.90 105.78,336.05 107.70,337.20 109.62,337.97 111.53,338.55 113.45,339.50 115.37,340.32 117.28,340.80 119.20,341.62 120.17,342.35 121.13,342.25 122.10,342.61 123.07,343.36 124.03,343.53 125.00,343.73 125.97,344.06 126.93,344.38 127.90,344.44 128.87,344.33 129.83,345.42 130.80,345.52 131.67,345.50 132.53,346.08 133.40,345.91 134.27,346.66 135.13,345.83 136.00,346.47 136.87,346.53 137.73,346.51 138.60,346.97 139.47,346.66 140.33,347.54 141.20,347.78 141.67,346.70 142.13,347.02 142.60,346.66 143.07,346.29 143.53,347.23 144.00,346.51 144.48,345.93 144.97,346.39 145.45,345.56 145.93,346.26 146.42,345.15 146.90,344.69 147.42,344.66 147.93,344.60 148.45,344.51 148.97,344.83 149.48,344.31 150.00,343.59 150.45,342.84 150.90,342.69 151.35,343.45 151.80,342.41 152.25,342.38 152.70,341.22 153.12,340.69 153.53,341.25 153.95,340.41 154.37,339.55 154.78,339.06 155.20,338.27 155.55,337.72 155.90,336.88 156.25,337.29 156.60,336.16 156.95,335.07 157.30,335.21 157.58,333.77 157.87,332.86 158.15,332.83 158.43,332.48 158.72,330.62 159.00,330.90 159.22,329.30 159.43,328.37 159.65,327.47 159.87,327.03 160.08,326.80 160.30,325.69 160.50,325.29 160.70,323.60 160.90,322.86 161.10,321.92 161.30,321.99 161.50,321.07 161.65,319.43 161.80,318.68 161.95,317.66 162.10,317.35 162.25,315.57 162.40,314.74 162.50,314.04 162.60,312.70 162.70,312.35 162.80,311.08 162.90,309.69 163.00,308.71 163.08,307.58 163.17,306.53 163.25,305.56 163.33,303.38 163.42,302.83 163.50,301.50" fill="none" stroke="#c0304c" stroke-width="1.1"/>
<text x="84.10" y="343.70" font-size="8.7" text-anchor="middle" fill="#222" textLength="40.6" lengthAdjust="spacingAndGlyphs" stroke="#222" stroke-width="0.15">NES = -1.19</text>
<text x="78.40" y="352.90" font-size="8.7" text-anchor="middle" fill="#222" textLength="52.5" lengthAdjust="spacingAndGlyphs" stroke="#222" stroke-width="0.15">q-value = 0.007</text>
<text x="108.80" y="285.00" font-size="10.4" text-anchor="middle" fill="#222" textLength="31.0" lengthAdjust="spacingAndGlyphs" stroke="#222" stroke-width="0.15">SEPRTs</text>
<text x="24.60" y="344.20" font-size="9.6" text-anchor="middle" fill="#222" transform="rotate(-90 24.60 344.20)" textLength="73.2" lengthAdjust="spacingAndGlyphs" stroke="#222" stroke-width="0.15">Enrichment score (ES)</text>
<defs><linearGradient id="rk" x1="0" x2="1"><stop offset="0" stop-color="#000"/><stop offset="0.5" stop-color="#1a0508"/><stop offset="0.68" stop-color="#6a0a1c"/><stop offset="0.85" stop-color="#980a26"/><stop offset="1" stop-color="#a00a2a"/></linearGradient></defs>
<path d="M53.8 375.80L53.8 372.3L55.0 375.0L53.80 377.10L54.71 377.11L55.63 377.13L56.54 377.14L57.46 377.15L58.37 377.17L59.28 377.18L60.20 377.19L61.11 377.21L62.03 377.22L62.94 377.23L63.86 377.25L64.77 377.26L65.68 377.27L66.60 377.29L67.51 377.30L68.43 377.31L69.34 377.33L70.25 377.34L71.17 377.35L72.08 377.37L73.00 377.38L73.91 377.39L74.83 377.41L75.74 377.42L76.65 377.44L77.57 377.45L78.48 377.46L79.40 377.48L80.31 377.49L81.22 377.50L82.14 377.52L83.05 377.53L83.97 377.55L84.88 377.56L85.80 377.58L86.71 377.59L87.62 377.60L88.54 377.62L89.45 377.63L90.37 377.65L91.28 377.66L92.19 377.68L93.11 377.69L94.02 377.71L94.94 377.72L95.85 377.74L96.77 377.75L97.68 377.77L98.59 377.79L99.51 377.80L100.42 377.82L101.34 377.84L102.25 377.85L103.16 377.87L104.08 377.89L104.99 377.90L105.91 377.92L106.82 377.94L107.74 377.96L108.65 377.98L109.56 377.99L110.48 378.01L111.39 378.03L112.31 378.05L113.22 378.07L114.14 378.09L115.05 378.11L115.96 378.13L116.88 378.15L117.79 378.17L118.71 378.19L119.62 378.22L120.53 378.24L121.45 378.26L122.36 378.28L123.28 378.31L124.19 378.33L125.11 378.35L126.02 378.38L126.93 378.40L127.85 378.43L128.76 378.46L129.68 378.48L130.59 378.51L131.50 378.54L132.42 378.56L133.33 378.59L134.25 378.62L135.16 378.65L136.07 378.68L136.99 378.71L137.90 378.75L138.82 378.78L139.73 378.81L140.65 378.85L141.56 378.89L142.47 378.93L143.39 378.97L144.30 379.02L145.22 379.07L146.13 379.13L147.05 379.19L147.96 379.26L148.87 379.35L149.79 379.45L150.70 379.57L151.62 379.72L152.53 379.90L153.44 380.12L154.36 380.41L155.27 380.76L156.19 381.21L157.10 381.77L158.01 382.50L158.93 383.41L159.84 384.58L160.76 386.06L161.67 387.95L162.59 390.35L163.50 393.40L163.5 375.80Z" fill="url(#rk)"/>
<line x1="53.80" y1="375.80" x2="163.50" y2="375.80" stroke="#000" stroke-width="0.9"/>
<rect x="49.50" y="368.00" width="118.70" height="29.60" fill="none" stroke="#111" stroke-width="1.1"/>
<line x1="46.50" y1="369.20" x2="49.50" y2="369.20" stroke="#111" stroke-width="0.9"/>
<text x="45.50" y="372.30" font-size="8.8" text-anchor="end" fill="#222" textLength="4.11" lengthAdjust="spacingAndGlyphs" stroke="#222" stroke-width="0.15">2</text>
<line x1="46.50" y1="376.05" x2="49.50" y2="376.05" stroke="#111" stroke-width="0.9"/>
<text x="45.50" y="379.15" font-size="8.8" text-anchor="end" fill="#222" textLength="4.11" lengthAdjust="spacingAndGlyphs" stroke="#222" stroke-width="0.15">0</text>
<line x1="46.50" y1="382.90" x2="49.50" y2="382.90" stroke="#111" stroke-width="0.9"/>
<text x="45.50" y="386.00" font-size="8.8" text-anchor="end" fill="#222" textLength="6.57" lengthAdjust="spacingAndGlyphs" stroke="#222" stroke-width="0.15">-2</text>
<line x1="46.50" y1="389.75" x2="49.50" y2="389.75" stroke="#111" stroke-width="0.9"/>
<text x="45.50" y="392.85" font-size="8.8" text-anchor="end" fill="#222" textLength="6.57" lengthAdjust="spacingAndGlyphs" stroke="#222" stroke-width="0.15">-4</text>
<line x1="46.50" y1="396.60" x2="49.50" y2="396.60" stroke="#111" stroke-width="0.9"/>
<text x="45.50" y="399.70" font-size="8.8" text-anchor="end" fill="#222" textLength="6.57" lengthAdjust="spacingAndGlyphs" stroke="#222" stroke-width="0.15">-6</text>
<text x="108.70" y="409.10" font-size="9.3" text-anchor="middle" fill="#222" textLength="125.5" lengthAdjust="spacingAndGlyphs" stroke="#222" stroke-width="0.15">Gene ranked by average CSISPR score</text>
<rect x="222.30" y="291.75" width="8.38" height="9.26" fill="#f5f5fb"/>
<rect x="230.68" y="291.75" width="8.38" height="9.26" fill="#ebecf6"/>
<rect x="239.07" y="291.75" width="8.38" height="9.26" fill="#afb1dd"/>
<rect x="247.45" y="291.75" width="8.38" height="9.26" fill="#cdcfea"/>
<rect x="255.83" y="291.75" width="8.38" height="9.26" fill="#d7d8ee"/>
<rect x="264.22" y="291.75" width="8.38" height="9.26" fill="#a5a8d9"/>
<rect x="272.60" y="291.75" width="8.38" height="9.26" fill="#4153aa"/>
<rect x="280.98" y="291.75" width="8.38" height="9.26" fill="#9195d0"/>
<rect x="289.36" y="291.75" width="8.38" height="9.26" fill="#d7d8ee"/>
<rect x="297.75" y="291.75" width="8.38" height="9.26" fill="#9195d0"/>
<rect x="306.13" y="291.75" width="8.38" height="9.26" fill="#e1e2f2"/>
<rect x="314.51" y="291.75" width="8.38" height="9.26" fill="#e1e2f2"/>
<rect x="322.90" y="291.75" width="8.38" height="9.26" fill="#9195d0"/>
<rect x="331.28" y="291.75" width="8.38" height="9.26" fill="#9195d0"/>
<rect x="339.66" y="291.75" width="8.38" height="9.26" fill="#ebecf6"/>
<rect x="348.05" y="291.75" width="8.38" height="9.26" fill="#f5f5fb"/>
<rect x="356.43" y="291.75" width="8.38" height="9.26" fill="#cdcfea"/>
<rect x="364.81" y="291.75" width="8.38" height="9.26" fill="#d7d8ee"/>
<rect x="373.19" y="291.75" width="8.38" height="9.26" fill="#ffffff"/>
<rect x="381.58" y="291.75" width="8.38" height="9.26" fill="#d7d8ee"/>
<rect x="389.96" y="291.75" width="8.38" height="9.26" fill="#b9bbe1"/>
<rect x="398.34" y="291.75" width="8.38" height="9.26" fill="#cdcfea"/>
<rect x="406.73" y="291.75" width="8.38" height="9.26" fill="#ebecf6"/>
<rect x="415.11" y="291.75" width="8.38" height="9.26" fill="#ebecf6"/>
<rect x="222.30" y="301.00" width="8.38" height="9.26" fill="#ebecf6"/>
<rect x="230.68" y="301.00" width="8.38" height="9.26" fill="#d7d8ee"/>
<rect x="239.07" y="301.00" width="8.38" height="9.26" fill="#d7d8ee"/>
<rect x="247.45" y="301.00" width="8.38" height="9.26" fill="#f5f5fb"/>
<rect x="255.83" y="301.00" width="8.38" height="9.26" fill="#d7d8ee"/>
<rect x="264.22" y="301.00" width="8.38" height="9.26" fill="#c3c5e5"/>
<rect x="272.60" y="301.00" width="8.38" height="9.26" fill="#9195d0"/>
<rect x="280.98" y="301.00" width="8.38" height="9.26" fill="#afb1dd"/>
<rect x="289.36" y="301.00" width="8.38" height="9.26" fill="#b9bbe1"/>
<rect x="297.75" y="301.00" width="8.38" height="9.26" fill="#c3c5e5"/>
<rect x="306.13" y="301.00" width="8.38" height="9.26" fill="#a5a8d9"/>
<rect x="314.51" y="301.00" width="8.38" height="9.26" fill="#fbf1f1"/>
<rect x="322.90" y="301.00" width="8.38" height="9.26" fill="#c3c5e5"/>
<rect x="331.28" y="301.00" width="8.38" height="9.26" fill="#d7d8ee"/>
<rect x="339.66" y="301.00" width="8.38" height="9.26" fill="#ebecf6"/>
<rect x="348.05" y="301.00" width="8.38" height="9.26" fill="#ebecf6"/>
<rect x="356.43" y="301.00" width="8.38" height="9.26" fill="#f5f5fb"/>
<rect x="364.81" y="301.00" width="8.38" height="9.26" fill="#f5f5fb"/>
<rect x="373.19" y="301.00" width="8.38" height="9.26" fill="#c3c5e5"/>
<rect x="381.58" y="301.00" width="8.38" height="9.26" fill="#b9bbe1"/>
<rect x="389.96" y="301.00" width="8.38" height="9.26" fill="#ebecf6"/>
<rect x="398.34" y="301.00" width="8.38" height="9.26" fill="#e1e2f2"/>
<rect x="406.73" y="301.00" width="8.38" height="9.26" fill="#afb1dd"/>
<rect x="415.11" y="301.00" width="8.38" height="9.26" fill="#b9bbe1"/>
<rect x="222.30" y="310.26" width="8.38" height="9.26" fill="#a5a8d9"/>
<rect x="230.68" y="310.26" width="8.38" height="9.26" fill="#ebecf6"/>
<rect x="239.07" y="310.26" width="8.38" height="9.26" fill="#cdcfea"/>
<rect x="247.45" y="310.26" width="8.38" height="9.26" fill="#afb1dd"/>
<rect x="255.83" y="310.26" width="8.38" height="9.26" fill="#b9bbe1"/>
<rect x="264.22" y="310.26" width="8.38" height="9.26" fill="#afb1dd"/>
<rect x="272.60" y="310.26" width="8.38" height="9.26" fill="#afb1dd"/>
<rect x="280.98" y="310.26" width="8.38" height="9.26" fill="#9195d0"/>
<rect x="289.36" y="310.26" width="8.38" height="9.26" fill="#cdcfea"/>
<rect x="297.75" y="310.26" width="8.38" height="9.26" fill="#7d85c6"/>
<rect x="306.13" y="310.26" width="8.38" height="9.26" fill="#d7d8ee"/>
<rect x="314.51" y="310.26" width="8.38" height="9.26" fill="#fbfbfd"/>
<rect x="322.90" y="310.26" width="8.38" height="9.26" fill="#afb1dd"/>
<rect x="331.28" y="310.26" width="8.38" height="9.26" fill="#f5f5fb"/>
<rect x="339.66" y="310.26" width="8.38" height="9.26" fill="#afb1dd"/>
<rect x="348.05" y="310.26" width="8.38" height="9.26" fill="#9b9ed4"/>
<rect x="356.43" y="310.26" width="8.38" height="9.26" fill="#e1e2f2"/>
<rect x="364.81" y="310.26" width="8.38" height="9.26" fill="#c3c5e5"/>
<rect x="373.19" y="310.26" width="8.38" height="9.26" fill="#d7d8ee"/>
<rect x="381.58" y="310.26" width="8.38" height="9.26" fill="#d7d8ee"/>
<rect x="389.96" y="310.26" width="8.38" height="9.26" fill="#cdcfea"/>
<rect x="398.34" y="310.26" width="8.38" height="9.26" fill="#b9bbe1"/>
<rect x="406.73" y="310.26" width="8.38" height="9.26" fill="#5563b3"/>
<rect x="415.11" y="310.26" width="8.38" height="9.26" fill="#a5a8d9"/>
<rect x="222.30" y="319.51" width="8.38" height="9.26" fill="#c3c5e5"/>
<rect x="230.68" y="319.51" width="8.38" height="9.26" fill="#e1e2f2"/>
<rect x="239.07" y="319.51" width="8.38" height="9.26" fill="#b9bbe1"/>
<rect x="247.45" y="319.51" width="8.38" height="9.26" fill="#b9bbe1"/>
<rect x="255.83" y="319.51" width="8.38" height="9.26" fill="#ebecf6"/>
<rect x="264.22" y="319.51" width="8.38" height="9.26" fill="#f5f5fb"/>
<rect x="272.60" y="319.51" width="8.38" height="9.26" fill="#4153aa"/>
<rect x="280.98" y="319.51" width="8.38" height="9.26" fill="#afb1dd"/>
<rect x="289.36" y="319.51" width="8.38" height="9.26" fill="#c3c5e5"/>
<rect x="297.75" y="319.51" width="8.38" height="9.26" fill="#d7d8ee"/>
<rect x="306.13" y="319.51" width="8.38" height="9.26" fill="#d7d8ee"/>
<rect x="314.51" y="319.51" width="8.38" height="9.26" fill="#ffffff"/>
<rect x="322.90" y="319.51" width="8.38" height="9.26" fill="#e1e2f2"/>
<rect x="331.28" y="319.51" width="8.38" height="9.26" fill="#d7d8ee"/>
<rect x="339.66" y="319.51" width="8.38" height="9.26" fill="#e1e2f2"/>
<rect x="348.05" y="319.51" width="8.38" height="9.26" fill="#e1e2f2"/>
<rect x="356.43" y="319.51" width="8.38" height="9.26" fill="#f5f5fb"/>
<rect x="364.81" y="319.51" width="8.38" height="9.26" fill="#ffffff"/>
<rect x="373.19" y="319.51" width="8.38" height="9.26" fill="#afb1dd"/>
<rect x="381.58" y="319.51" width="8.38" height="9.26" fill="#d7d8ee"/>
<rect x="389.96" y="319.51" width="8.38" height="9.26" fill="#e1e2f2"/>
<rect x="398.34" y="319.51" width="8.38" height="9.26" fill="#fbfbfd"/>
<rect x="406.73" y="319.51" width="8.38" height="9.26" fill="#4b5bae"/>
<rect x="415.11" y="319.51" width="8.38" height="9.26" fill="#f5f5fb"/>
<rect x="222.30" y="328.77" width="8.38" height="9.26" fill="#a5a8d9"/>
<rect x="230.68" y="328.77" width="8.38" height="9.26" fill="#9b9ed4"/>
<rect x="239.07" y="328.77" width="8.38" height="9.26" fill="#d7d8ee"/>
<rect x="247.45" y="328.77" width="8.38" height="9.26" fill="#c3c5e5"/>
<rect x="255.83" y="328.77" width="8.38" height="9.26" fill="#7d85c6"/>
<rect x="264.22" y="328.77" width="8.38" height="9.26" fill="#6974bd"/>
<rect x="272.60" y="328.77" width="8.38" height="9.26" fill="#e1e2f2"/>
<rect x="280.98" y="328.77" width="8.38" height="9.26" fill="#d7d8ee"/>
<rect x="289.36" y="328.77" width="8.38" height="9.26" fill="#a5a8d9"/>
<rect x="297.75" y="328.77" width="8.38" height="9.26" fill="#faecec"/>
<rect x="306.13" y="328.77" width="8.38" height="9.26" fill="#c3c5e5"/>
<rect x="314.51" y="328.77" width="8.38" height="9.26" fill="#d7d8ee"/>
<rect x="322.90" y="328.77" width="8.38" height="9.26" fill="#737cc2"/>
<rect x="331.28" y="328.77" width="8.38" height="9.26" fill="#9b9ed4"/>
<rect x="339.66" y="328.77" width="8.38" height="9.26" fill="#c3c5e5"/>
<rect x="348.05" y="328.77" width="8.38" height="9.26" fill="#b9bbe1"/>
<rect x="356.43" y="328.77" width="8.38" height="9.26" fill="#b9bbe1"/>
<rect x="364.81" y="328.77" width="8.38" height="9.26" fill="#c3c5e5"/>
<rect x="373.19" y="328.77" width="8.38" height="9.26" fill="#d7d8ee"/>
<rect x="381.58" y="328.77" width="8.38" height="9.26" fill="#ebecf6"/>
<rect x="389.96" y="328.77" width="8.38" height="9.26" fill="#cdcfea"/>
<rect x="398.34" y="328.77" width="8.38" height="9.26" fill="#e1e2f2"/>
<rect x="406.73" y="328.77" width="8.38" height="9.26" fill="#5f6cb8"/>
<rect x="415.11" y="328.77" width="8.38" height="9.26" fill="#878dcb"/>
<rect x="222.30" y="338.02" width="8.38" height="9.26" fill="#e1e2f2"/>
<rect x="230.68" y="338.02" width="8.38" height="9.26" fill="#f5f5fb"/>
<rect x="239.07" y="338.02" width="8.38" height="9.26" fill="#e1e2f2"/>
<rect x="247.45" y="338.02" width="8.38" height="9.26" fill="#afb1dd"/>
<rect x="255.83" y="338.02" width="8.38" height="9.26" fill="#d7d8ee"/>
<rect x="264.22" y="338.02" width="8.38" height="9.26" fill="#f4d5d5"/>
<rect x="272.60" y="338.02" width="8.38" height="9.26" fill="#737cc2"/>
<rect x="280.98" y="338.02" width="8.38" height="9.26" fill="#cdcfea"/>
<rect x="289.36" y="338.02" width="8.38" height="9.26" fill="#c3c5e5"/>
<rect x="297.75" y="338.02" width="8.38" height="9.26" fill="#ebecf6"/>
<rect x="306.13" y="338.02" width="8.38" height="9.26" fill="#7d85c6"/>
<rect x="314.51" y="338.02" width="8.38" height="9.26" fill="#9b9ed4"/>
<rect x="322.90" y="338.02" width="8.38" height="9.26" fill="#e1e2f2"/>
<rect x="331.28" y="338.02" width="8.38" height="9.26" fill="#afb1dd"/>
<rect x="339.66" y="338.02" width="8.38" height="9.26" fill="#7d85c6"/>
<rect x="348.05" y="338.02" width="8.38" height="9.26" fill="#e1e2f2"/>
<rect x="356.43" y="338.02" width="8.38" height="9.26" fill="#cdcfea"/>
<rect x="364.81" y="338.02" width="8.38" height="9.26" fill="#e1e2f2"/>
<rect x="373.19" y="338.02" width="8.38" height="9.26" fill="#f5f5fb"/>
<rect x="381.58" y="338.02" width="8.38" height="9.26" fill="#e1e2f2"/>
<rect x="389.96" y="338.02" width="8.38" height="9.26" fill="#b9bbe1"/>
<rect x="398.34" y="338.02" width="8.38" height="9.26" fill="#f5f5fb"/>
<rect x="406.73" y="338.02" width="8.38" height="9.26" fill="#ebecf6"/>
<rect x="415.11" y="338.02" width="8.38" height="9.26" fill="#e1e2f2"/>
<rect x="222.30" y="347.28" width="8.38" height="9.26" fill="#b9bbe1"/>
<rect x="230.68" y="347.28" width="8.38" height="9.26" fill="#f9f9fc"/>
<rect x="239.07" y="347.28" width="8.38" height="9.26" fill="#9195d0"/>
<rect x="247.45" y="347.28" width="8.38" height="9.26" fill="#e1e2f2"/>
<rect x="255.83" y="347.28" width="8.38" height="9.26" fill="#d7d8ee"/>
<rect x="264.22" y="347.28" width="8.38" height="9.26" fill="#ebecf6"/>
<rect x="272.60" y="347.28" width="8.38" height="9.26" fill="#c3c5e5"/>
<rect x="280.98" y="347.28" width="8.38" height="9.26" fill="#e1e2f2"/>
<rect x="289.36" y="347.28" width="8.38" height="9.26" fill="#cdcfea"/>
<rect x="297.75" y="347.28" width="8.38" height="9.26" fill="#f5f5fb"/>
<rect x="306.13" y="347.28" width="8.38" height="9.26" fill="#ebecf6"/>
<rect x="314.51" y="347.28" width="8.38" height="9.26" fill="#f5f5fb"/>
<rect x="322.90" y="347.28" width="8.38" height="9.26" fill="#d7d8ee"/>
<rect x="331.28" y="347.28" width="8.38" height="9.26" fill="#d7d8ee"/>
<rect x="339.66" y="347.28" width="8.38" height="9.26" fill="#ebecf6"/>
<rect x="348.05" y="347.28" width="8.38" height="9.26" fill="#fbf1f1"/>
<rect x="356.43" y="347.28" width="8.38" height="9.26" fill="#a5a8d9"/>
<rect x="364.81" y="347.28" width="8.38" height="9.26" fill="#e1e2f2"/>
<rect x="373.19" y="347.28" width="8.38" height="9.26" fill="#9b9ed4"/>
<rect x="381.58" y="347.28" width="8.38" height="9.26" fill="#6974bd"/>
<rect x="389.96" y="347.28" width="8.38" height="9.26" fill="#b9bbe1"/>
<rect x="398.34" y="347.28" width="8.38" height="9.26" fill="#b9bbe1"/>
<rect x="406.73" y="347.28" width="8.38" height="9.26" fill="#a5a8d9"/>
<rect x="415.11" y="347.28" width="8.38" height="9.26" fill="#878dcb"/>
<rect x="222.30" y="356.54" width="8.38" height="9.26" fill="#cdcfea"/>
<rect x="230.68" y="356.54" width="8.38" height="9.26" fill="#e1e2f2"/>
<rect x="239.07" y="356.54" width="8.38" height="9.26" fill="#afb1dd"/>
<rect x="247.45" y="356.54" width="8.38" height="9.26" fill="#c3c5e5"/>
<rect x="255.83" y="356.54" width="8.38" height="9.26" fill="#e1e2f2"/>
<rect x="264.22" y="356.54" width="8.38" height="9.26" fill="#ffffff"/>
<rect x="272.60" y="356.54" width="8.38" height="9.26" fill="#c3c5e5"/>
<rect x="280.98" y="356.54" width="8.38" height="9.26" fill="#b9bbe1"/>
<rect x="289.36" y="356.54" width="8.38" height="9.26" fill="#afb1dd"/>
<rect x="297.75" y="356.54" width="8.38" height="9.26" fill="#c3c5e5"/>
<rect x="306.13" y="356.54" width="8.38" height="9.26" fill="#d7d8ee"/>
<rect x="314.51" y="356.54" width="8.38" height="9.26" fill="#d7d8ee"/>
<rect x="322.90" y="356.54" width="8.38" height="9.26" fill="#b9bbe1"/>
<rect x="331.28" y="356.54" width="8.38" height="9.26" fill="#e1e2f2"/>
<rect x="339.66" y="356.54" width="8.38" height="9.26" fill="#f5f5fb"/>
<rect x="348.05" y="356.54" width="8.38" height="9.26" fill="#d7d8ee"/>
<rect x="356.43" y="356.54" width="8.38" height="9.26" fill="#e1e2f2"/>
<rect x="364.81" y="356.54" width="8.38" height="9.26" fill="#ebecf6"/>
<rect x="373.19" y="356.54" width="8.38" height="9.26" fill="#7d85c6"/>
<rect x="381.58" y="356.54" width="8.38" height="9.26" fill="#e1e2f2"/>
<rect x="389.96" y="356.54" width="8.38" height="9.26" fill="#cdcfea"/>
<rect x="398.34" y="356.54" width="8.38" height="9.26" fill="#b9bbe1"/>
<rect x="406.73" y="356.54" width="8.38" height="9.26" fill="#afb1dd"/>
<rect x="415.11" y="356.54" width="8.38" height="9.26" fill="#b9bbe1"/>
<rect x="222.30" y="365.79" width="8.38" height="9.26" fill="#9b9ed4"/>
<rect x="230.68" y="365.79" width="8.38" height="9.26" fill="#4b5bae"/>
<rect x="239.07" y="365.79" width="8.38" height="9.26" fill="#cdcfea"/>
<rect x="247.45" y="365.79" width="8.38" height="9.26" fill="#e1e2f2"/>
<rect x="255.83" y="365.79" width="8.38" height="9.26" fill="#c3c5e5"/>
<rect x="264.22" y="365.79" width="8.38" height="9.26" fill="#d7d8ee"/>
<rect x="272.60" y="365.79" width="8.38" height="9.26" fill="#c3c5e5"/>
<rect x="280.98" y="365.79" width="8.38" height="9.26" fill="#cdcfea"/>
<rect x="289.36" y="365.79" width="8.38" height="9.26" fill="#7d85c6"/>
<rect x="297.75" y="365.79" width="8.38" height="9.26" fill="#e1e2f2"/>
<rect x="306.13" y="365.79" width="8.38" height="9.26" fill="#ffffff"/>
<rect x="314.51" y="365.79" width="8.38" height="9.26" fill="#ebecf6"/>
<rect x="322.90" y="365.79" width="8.38" height="9.26" fill="#a5a8d9"/>
<rect x="331.28" y="365.79" width="8.38" height="9.26" fill="#d7d8ee"/>
<rect x="339.66" y="365.79" width="8.38" height="9.26" fill="#fef9f9"/>
<rect x="348.05" y="365.79" width="8.38" height="9.26" fill="#ebecf6"/>
<rect x="356.43" y="365.79" width="8.38" height="9.26" fill="#5f6cb8"/>
<rect x="364.81" y="365.79" width="8.38" height="9.26" fill="#cdcfea"/>
<rect x="373.19" y="365.79" width="8.38" height="9.26" fill="#7d85c6"/>
<rect x="381.58" y="365.79" width="8.38" height="9.26" fill="#c3c5e5"/>
<rect x="389.96" y="365.79" width="8.38" height="9.26" fill="#cdcfea"/>
<rect x="398.34" y="365.79" width="8.38" height="9.26" fill="#f5f5fb"/>
<rect x="406.73" y="365.79" width="8.38" height="9.26" fill="#5563b3"/>
<rect x="415.11" y="365.79" width="8.38" height="9.26" fill="#ebecf6"/>
<rect x="222.30" y="375.05" width="8.38" height="9.26" fill="#ffffff"/>
<rect x="230.68" y="375.05" width="8.38" height="9.26" fill="#f5f5fb"/>
<rect x="239.07" y="375.05" width="8.38" height="9.26" fill="#cdcfea"/>
<rect x="247.45" y="375.05" width="8.38" height="9.26" fill="#c3c5e5"/>
<rect x="255.83" y="375.05" width="8.38" height="9.26" fill="#e1e2f2"/>
<rect x="264.22" y="375.05" width="8.38" height="9.26" fill="#c3c5e5"/>
<rect x="272.60" y="375.05" width="8.38" height="9.26" fill="#ebecf6"/>
<rect x="280.98" y="375.05" width="8.38" height="9.26" fill="#d7d8ee"/>
<rect x="289.36" y="375.05" width="8.38" height="9.26" fill="#e1e2f2"/>
<rect x="297.75" y="375.05" width="8.38" height="9.26" fill="#d7d8ee"/>
<rect x="306.13" y="375.05" width="8.38" height="9.26" fill="#ebecf6"/>
<rect x="314.51" y="375.05" width="8.38" height="9.26" fill="#ebecf6"/>
<rect x="322.90" y="375.05" width="8.38" height="9.26" fill="#ebecf6"/>
<rect x="331.28" y="375.05" width="8.38" height="9.26" fill="#ffffff"/>
<rect x="339.66" y="375.05" width="8.38" height="9.26" fill="#878dcb"/>
<rect x="348.05" y="375.05" width="8.38" height="9.26" fill="#9b9ed4"/>
<rect x="356.43" y="375.05" width="8.38" height="9.26" fill="#f5f5fb"/>
<rect x="364.81" y="375.05" width="8.38" height="9.26" fill="#9195d0"/>
<rect x="373.19" y="375.05" width="8.38" height="9.26" fill="#cdcfea"/>
<rect x="381.58" y="375.05" width="8.38" height="9.26" fill="#c3c5e5"/>
<rect x="389.96" y="375.05" width="8.38" height="9.26" fill="#a5a8d9"/>
<rect x="398.34" y="375.05" width="8.38" height="9.26" fill="#d7d8ee"/>
<rect x="406.73" y="375.05" width="8.38" height="9.26" fill="#5563b3"/>
<rect x="415.11" y="375.05" width="8.38" height="9.26" fill="#b9bbe1"/>
<path d="M222.30 291.75h201.19M222.30 301.00h201.19M222.30 310.26h201.19M222.30 319.51h201.19M222.30 328.77h201.19M222.30 338.02h201.19M222.30 347.28h201.19M222.30 356.54h201.19M222.30 365.79h201.19M222.30 375.05h201.19M222.30 384.30h201.19M222.30 291.75v92.55M230.68 291.75v92.55M239.07 291.75v92.55M247.45 291.75v92.55M255.83 291.75v92.55M264.22 291.75v92.55M272.60 291.75v92.55M280.98 291.75v92.55M289.36 291.75v92.55M297.75 291.75v92.55M306.13 291.75v92.55M314.51 291.75v92.55M322.90 291.75v92.55M331.28 291.75v92.55M339.66 291.75v92.55M348.05 291.75v92.55M356.43 291.75v92.55M364.81 291.75v92.55M373.19 291.75v92.55M381.58 291.75v92.55M389.96 291.75v92.55M398.34 291.75v92.55M406.73 291.75v92.55M415.11 291.75v92.55M423.49 291.75v92.55" stroke="#3a3a3a" stroke-width="0.9" fill="none"/>
<rect x="430.30" y="291.75" width="8.38" height="9.26" fill="#fbfbfd"/>
<rect x="438.68" y="291.75" width="8.38" height="9.26" fill="#e1e2f2"/>
<rect x="447.07" y="291.75" width="8.38" height="9.26" fill="#fbfbfd"/>
<rect x="455.45" y="291.75" width="8.38" height="9.26" fill="#f8e3e3"/>
<rect x="430.30" y="301.00" width="8.38" height="9.26" fill="#cdcfea"/>
<rect x="438.68" y="301.00" width="8.38" height="9.26" fill="#f5f5fb"/>
<rect x="447.07" y="301.00" width="8.38" height="9.26" fill="#f9f9fc"/>
<rect x="455.45" y="301.00" width="8.38" height="9.26" fill="#ebecf6"/>
<rect x="430.30" y="310.26" width="8.38" height="9.26" fill="#ebecf6"/>
<rect x="438.68" y="310.26" width="8.38" height="9.26" fill="#ffffff"/>
<rect x="447.07" y="310.26" width="8.38" height="9.26" fill="#ffffff"/>
<rect x="455.45" y="310.26" width="8.38" height="9.26" fill="#f6dede"/>
<rect x="430.30" y="319.51" width="8.38" height="9.26" fill="#d76363"/>
<rect x="438.68" y="319.51" width="8.38" height="9.26" fill="#ffffff"/>
<rect x="447.07" y="319.51" width="8.38" height="9.26" fill="#f5f5fb"/>
<rect x="455.45" y="319.51" width="8.38" height="9.26" fill="#f9e9e9"/>
<rect x="430.30" y="328.77" width="8.38" height="9.26" fill="#faecec"/>
<rect x="438.68" y="328.77" width="8.38" height="9.26" fill="#ebecf6"/>
<rect x="447.07" y="328.77" width="8.38" height="9.26" fill="#ebecf6"/>
<rect x="455.45" y="328.77" width="8.38" height="9.26" fill="#f5f5fb"/>
<rect x="430.30" y="338.02" width="8.38" height="9.26" fill="#f4d5d5"/>
<rect x="438.68" y="338.02" width="8.38" height="9.26" fill="#ffffff"/>
<rect x="447.07" y="338.02" width="8.38" height="9.26" fill="#f5f5fb"/>
<rect x="455.45" y="338.02" width="8.38" height="9.26" fill="#f5f5fb"/>
<rect x="430.30" y="347.28" width="8.38" height="9.26" fill="#e1e2f2"/>
<rect x="438.68" y="347.28" width="8.38" height="9.26" fill="#d7d8ee"/>
<rect x="447.07" y="347.28" width="8.38" height="9.26" fill="#ebecf6"/>
<rect x="455.45" y="347.28" width="8.38" height="9.26" fill="#fbf1f1"/>
<rect x="430.30" y="356.54" width="8.38" height="9.26" fill="#d7d8ee"/>
<rect x="438.68" y="356.54" width="8.38" height="9.26" fill="#f5f5fb"/>
<rect x="447.07" y="356.54" width="8.38" height="9.26" fill="#f5f5fb"/>
<rect x="455.45" y="356.54" width="8.38" height="9.26" fill="#f5f5fb"/>
<rect x="430.30" y="365.79" width="8.38" height="9.26" fill="#f1c7c7"/>
<rect x="438.68" y="365.79" width="8.38" height="9.26" fill="#f5f5fb"/>
<rect x="447.07" y="365.79" width="8.38" height="9.26" fill="#f9e9e9"/>
<rect x="455.45" y="365.79" width="8.38" height="9.26" fill="#e1e2f2"/>
<rect x="430.30" y="375.05" width="8.38" height="9.26" fill="#fbfbfd"/>
<rect x="438.68" y="375.05" width="8.38" height="9.26" fill="#f4d5d5"/>
<rect x="447.07" y="375.05" width="8.38" height="9.26" fill="#f5f5fb"/>
<rect x="455.45" y="375.05" width="8.38" height="9.26" fill="#f9e9e9"/>
<path d="M430.30 291.75h33.53M430.30 301.00h33.53M430.30 310.26h33.53M430.30 319.51h33.53M430.30 328.77h33.53M430.30 338.02h33.53M430.30 347.28h33.53M430.30 356.54h33.53M430.30 365.79h33.53M430.30 375.05h33.53M430.30 384.30h33.53M430.30 291.75v92.55M438.68 291.75v92.55M447.07 291.75v92.55M455.45 291.75v92.55M463.83 291.75v92.55" stroke="#777" stroke-width="0.9" fill="none"/>
<text x="220.00" y="298.18" font-size="8.1" text-anchor="end" fill="#222" textLength="33.6" lengthAdjust="spacingAndGlyphs" stroke="#222" stroke-width="0.15">sgRNA_1</text>
<text x="220.00" y="307.43" font-size="8.1" text-anchor="end" fill="#222" textLength="33.6" lengthAdjust="spacingAndGlyphs" stroke="#222" stroke-width="0.15">sgRNA_2</text>
<text x="220.00" y="316.69" font-size="8.1" text-anchor="end" fill="#222" textLength="33.6" lengthAdjust="spacingAndGlyphs" stroke="#222" stroke-width="0.15">sgRNA_3</text>
<text x="220.00" y="325.94" font-size="8.1" text-anchor="end" fill="#222" textLength="33.6" lengthAdjust="spacingAndGlyphs" stroke="#222" stroke-width="0.15">sgRNA_4</text>
<text x="220.00" y="335.20" font-size="8.1" text-anchor="end" fill="#222" textLength="33.6" lengthAdjust="spacingAndGlyphs" stroke="#222" stroke-width="0.15">sgRNA_5</text>
<text x="220.00" y="344.45" font-size="8.1" text-anchor="end" fill="#222" textLength="33.6" lengthAdjust="spacingAndGlyphs" stroke="#222" stroke-width="0.15">sgRNA_6</text>
<text x="220.00" y="353.71" font-size="8.1" text-anchor="end" fill="#222" textLength="33.6" lengthAdjust="spacingAndGlyphs" stroke="#222" stroke-width="0.15">sgRNA_7</text>
<text x="220.00" y="362.96" font-size="8.1" text-anchor="end" fill="#222" textLength="33.6" lengthAdjust="spacingAndGlyphs" stroke="#222" stroke-width="0.15">sgRNA_8</text>
<text x="220.00" y="372.22" font-size="8.1" text-anchor="end" fill="#222" textLength="33.6" lengthAdjust="spacingAndGlyphs" stroke="#222" stroke-width="0.15">sgRNA_9</text>
<text x="220.00" y="381.47" font-size="8.1" text-anchor="end" fill="#222" textLength="38.4" lengthAdjust="spacingAndGlyphs" stroke="#222" stroke-width="0.15">sgRNA_10</text>
<line x1="225.28" y1="387.60" x2="236.08" y2="387.60" stroke="#333" stroke-width="1"/>
<text x="233.68" y="394.00" font-size="8.0" text-anchor="end" fill="#222" transform="rotate(-45 233.68 394.00)" textLength="32.02" lengthAdjust="spacingAndGlyphs" stroke="#222" stroke-width="0.15">CREB3L4</text>
<line x1="242.05" y1="387.60" x2="252.85" y2="387.60" stroke="#333" stroke-width="1"/>
<text x="250.45" y="394.00" font-size="8.0" text-anchor="end" fill="#222" transform="rotate(-45 250.45 394.00)" textLength="23.21" lengthAdjust="spacingAndGlyphs" stroke="#222" stroke-width="0.15">DHX34</text>
<line x1="258.82" y1="387.60" x2="269.62" y2="387.60" stroke="#333" stroke-width="1"/>
<text x="267.22" y="394.00" font-size="8.0" text-anchor="end" fill="#222" transform="rotate(-45 267.22 394.00)" textLength="17.47" lengthAdjust="spacingAndGlyphs" stroke="#222" stroke-width="0.15">GF11</text>
<line x1="275.58" y1="387.60" x2="286.38" y2="387.60" stroke="#333" stroke-width="1"/>
<text x="283.98" y="394.00" font-size="8.0" text-anchor="end" fill="#222" transform="rotate(-45 283.98 394.00)" textLength="19.6" lengthAdjust="spacingAndGlyphs" stroke="#222" stroke-width="0.15">IKZF1</text>
<line x1="292.35" y1="387.60" x2="303.15" y2="387.60" stroke="#333" stroke-width="1"/>
<text x="300.75" y="394.00" font-size="8.0" text-anchor="end" fill="#222" transform="rotate(-45 300.75 394.00)" textLength="18.8" lengthAdjust="spacingAndGlyphs" stroke="#222" stroke-width="0.15">JUNB</text>
<line x1="309.11" y1="387.60" x2="319.91" y2="387.60" stroke="#333" stroke-width="1"/>
<text x="317.51" y="394.00" font-size="8.0" text-anchor="end" fill="#222" transform="rotate(-45 317.51 394.00)" textLength="18.8" lengthAdjust="spacingAndGlyphs" stroke="#222" stroke-width="0.15">JUNB</text>
<line x1="325.88" y1="387.60" x2="336.68" y2="387.60" stroke="#333" stroke-width="1"/>
<text x="334.28" y="394.00" font-size="8.0" text-anchor="end" fill="#222" transform="rotate(-45 334.28 394.00)" textLength="24.4" lengthAdjust="spacingAndGlyphs" stroke="#222" stroke-width="0.15">KMT2D</text>
<line x1="342.65" y1="387.60" x2="353.44" y2="387.60" stroke="#333" stroke-width="1"/>
<text x="351.05" y="394.00" font-size="8.0" text-anchor="end" fill="#222" transform="rotate(-45 351.05 394.00)" textLength="20.01" lengthAdjust="spacingAndGlyphs" stroke="#222" stroke-width="0.15">LAIR1</text>
<line x1="359.41" y1="387.60" x2="370.21" y2="387.60" stroke="#333" stroke-width="1"/>
<text x="367.81" y="394.00" font-size="8.0" text-anchor="end" fill="#222" transform="rotate(-45 367.81 394.00)" textLength="16.28" lengthAdjust="spacingAndGlyphs" stroke="#222" stroke-width="0.15">LYL1</text>
<line x1="376.18" y1="387.60" x2="386.98" y2="387.60" stroke="#333" stroke-width="1"/>
<text x="384.58" y="394.00" font-size="8.0" text-anchor="end" fill="#222" transform="rotate(-45 384.58 394.00)" textLength="20.0" lengthAdjust="spacingAndGlyphs" stroke="#222" stroke-width="0.15">MYH9</text>
<line x1="392.94" y1="387.60" x2="403.74" y2="387.60" stroke="#333" stroke-width="1"/>
<text x="401.34" y="394.00" font-size="8.0" text-anchor="end" fill="#222" transform="rotate(-45 401.34 394.00)" textLength="24.01" lengthAdjust="spacingAndGlyphs" stroke="#222" stroke-width="0.15">RBM26</text>
<line x1="409.71" y1="387.60" x2="420.51" y2="387.60" stroke="#333" stroke-width="1"/>
<text x="418.11" y="394.00" font-size="8.0" text-anchor="end" fill="#222" transform="rotate(-45 418.11 394.00)" textLength="22.81" lengthAdjust="spacingAndGlyphs" stroke="#222" stroke-width="0.15">ZC3H4</text>
<line x1="432.50" y1="388.50" x2="462.90" y2="388.50" stroke="#333" stroke-width="1"/>
<text x="447.90" y="397.40" font-size="7.6" text-anchor="middle" fill="#222" textLength="43.3" lengthAdjust="spacingAndGlyphs" stroke="#222" stroke-width="0.15">Non-targets</text>
<defs><linearGradient id="cbD" x1="0" y1="0" x2="0" y2="1"><stop offset="0" stop-color="#c52b2b"/><stop offset="0.245" stop-color="#ffffff"/><stop offset="0.33" stop-color="#eceef8"/><stop offset="1" stop-color="#2c429e"/></linearGradient></defs>
<rect x="476.30" y="291.80" width="10.40" height="92.00" fill="url(#cbD)"/>
<text x="489.50" y="295.20" font-size="8" text-anchor="start" fill="#222" stroke="#222" stroke-width="0.15">2</text>
<text x="489.50" y="318.07" font-size="8" text-anchor="start" fill="#222" stroke="#222" stroke-width="0.15">0</text>
<line x1="476.30" y1="315.17" x2="477.60" y2="315.17" stroke="#555" stroke-width="0.7"/>
<line x1="485.40" y1="315.17" x2="486.70" y2="315.17" stroke="#555" stroke-width="0.7"/>
<text x="489.50" y="340.94" font-size="8" text-anchor="start" fill="#222" stroke="#222" stroke-width="0.15">-2</text>
<line x1="476.30" y1="338.04" x2="477.60" y2="338.04" stroke="#555" stroke-width="0.7"/>
<line x1="485.40" y1="338.04" x2="486.70" y2="338.04" stroke="#555" stroke-width="0.7"/>
<text x="489.50" y="363.81" font-size="8" text-anchor="start" fill="#222" stroke="#222" stroke-width="0.15">-4</text>
<line x1="476.30" y1="360.91" x2="477.60" y2="360.91" stroke="#555" stroke-width="0.7"/>
<line x1="485.40" y1="360.91" x2="486.70" y2="360.91" stroke="#555" stroke-width="0.7"/>
<text x="489.50" y="386.68" font-size="8" text-anchor="start" fill="#222" stroke="#222" stroke-width="0.15">-6</text>
<text x="508.80" y="337.60" font-size="9.3" text-anchor="middle" fill="#222" transform="rotate(-90 508.80 337.60)" textLength="138.5" lengthAdjust="spacingAndGlyphs" stroke="#222" stroke-width="0.15">Log2 (Fold change of sgRNA read counts)</text>
</svg>
</body></html>
